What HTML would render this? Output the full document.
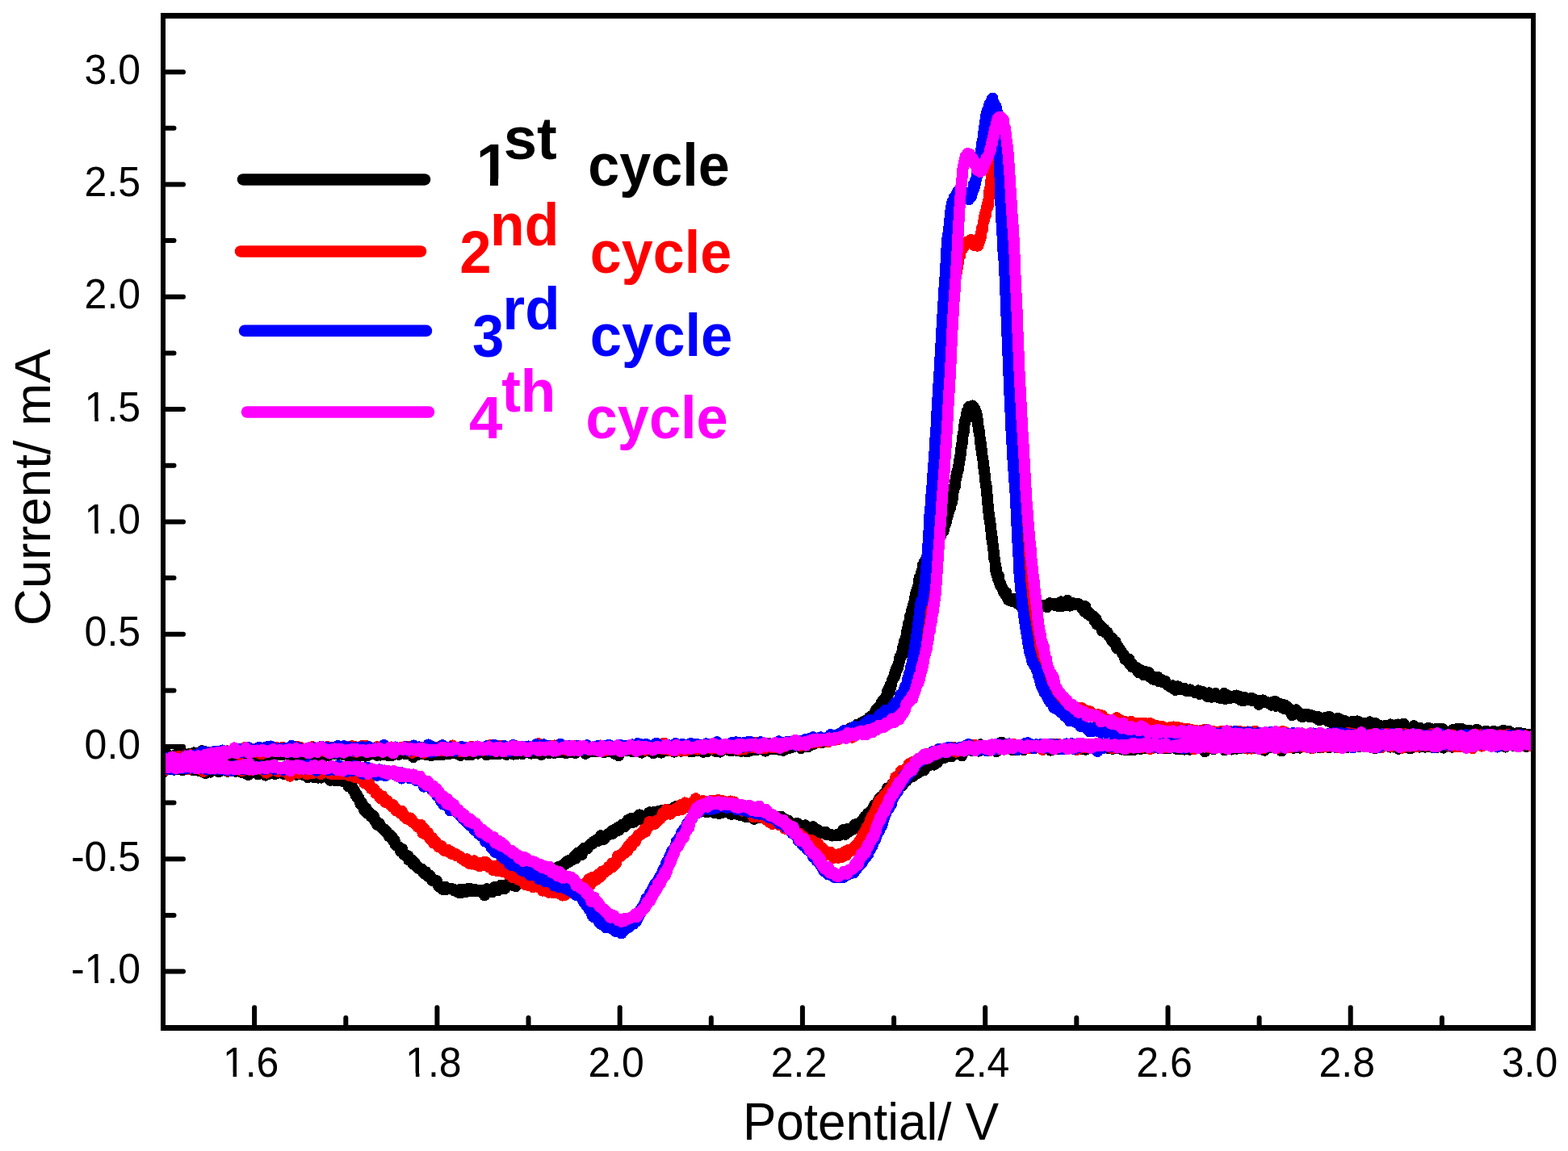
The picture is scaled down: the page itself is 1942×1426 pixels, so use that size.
<!DOCTYPE html>
<html><head><meta charset="utf-8"><title>Cyclic voltammetry</title>
<style>
html,body{margin:0;padding:0;background:#fff;}
body{width:1942px;height:1426px;overflow:hidden;}
svg{display:block;}
text{font-family:"Liberation Sans",Arial,sans-serif;}
</style></head><body>
<svg width="1942" height="1426" viewBox="0 0 1942 1426">
<rect width="1942" height="1426" fill="#fff"/>
<defs><clipPath id="c_yt3" clipPathUnits="userSpaceOnUse"><rect x="84.6" y="456.6" width="109.5" height="60.3"/><rect x="117.3" y="515.9" width="4.5" height="25.0"/><rect x="84.6" y="456.6" width="22.5" height="95.0"/><rect x="131.1" y="456.6" width="63.0" height="95.0"/></clipPath><clipPath id="c_yt4" clipPathUnits="userSpaceOnUse"><rect x="84.6" y="595.9" width="109.5" height="60.3"/><rect x="117.3" y="655.2" width="4.5" height="25.0"/><rect x="84.6" y="595.9" width="22.5" height="95.0"/><rect x="131.1" y="595.9" width="63.0" height="95.0"/></clipPath><clipPath id="c_yt8" clipPathUnits="userSpaceOnUse"><rect x="67.9" y="1153.1" width="126.2" height="60.3"/><rect x="117.3" y="1212.4" width="4.5" height="25.0"/><rect x="67.9" y="1153.1" width="39.2" height="95.0"/><rect x="131.1" y="1153.1" width="63.0" height="95.0"/></clipPath><clipPath id="c_xt0" clipPathUnits="userSpaceOnUse"><rect x="255.9" y="1269.2" width="109.5" height="60.3"/><rect x="288.6" y="1328.5" width="4.5" height="25.0"/><rect x="255.9" y="1269.2" width="22.5" height="95.0"/><rect x="302.4" y="1269.2" width="63.0" height="95.0"/></clipPath><clipPath id="c_xt1" clipPathUnits="userSpaceOnUse"><rect x="482.1" y="1269.2" width="109.5" height="60.3"/><rect x="514.9" y="1328.5" width="4.5" height="25.0"/><rect x="482.1" y="1269.2" width="22.5" height="95.0"/><rect x="528.6" y="1269.2" width="63.0" height="95.0"/></clipPath><clipPath id="c_ln0" clipPathUnits="userSpaceOnUse"><rect x="569.7" y="133.5" width="81.3" height="88.0"/><rect x="607.0" y="220.6" width="10.0" height="37.1"/><rect x="569.7" y="133.5" width="22.7" height="141.2"/><rect x="630.1" y="133.5" width="20.9" height="141.2"/></clipPath><clipPath id="pc"><rect x="202" y="19" width="1697" height="1254"/></clipPath></defs>
<g clip-path="url(#pc)" shape-rendering="crispEdges" fill="none" stroke-width="14" stroke-linejoin="round" stroke-linecap="round">
<polyline points="202.0,934.8 202.8,937.5 203.7,939.2 204.7,937.2 205.9,937.7 207.1,934.4 208.5,936.5 210.0,936.1 211.7,938.3 213.5,936.7 215.5,936.2 217.7,934.7 220.0,934.4 221.1,935.9 222.4,938.4 223.6,932.4 224.9,930.7 226.3,939.6 227.7,938.9 229.2,937.1 230.7,936.6 232.2,935.2 233.8,935.3 235.4,933.7 237.0,937.1 238.6,935.6 240.3,932.4 241.9,935.0 243.6,935.0 245.3,934.8 247.0,939.7 248.6,938.1 250.3,930.1 252.0,937.0 253.6,938.1 255.3,938.6 256.9,937.6 258.4,932.3 260.0,937.7 261.5,936.2 262.8,938.8 264.0,936.9 265.2,933.1 266.2,939.4 267.2,933.7 268.1,938.0 269.0,936.7 269.9,934.8 270.8,931.5 271.8,934.1 272.7,933.9 273.8,935.3 274.8,935.2 276.0,938.6 277.3,936.3 278.8,937.7 280.3,933.2 282.0,934.5 283.9,937.0 286.0,937.1 288.3,936.5 290.9,934.3 293.6,933.2 296.7,938.4 300.0,933.7 301.0,934.3 302.0,938.0 303.0,935.2 304.0,933.8 305.1,936.6 306.2,934.6 307.3,937.4 308.4,934.7 309.5,933.4 310.7,939.6 311.8,937.3 313.0,935.2 314.2,934.7 315.5,932.4 316.7,933.8 317.9,932.5 319.2,936.5 320.5,937.1 321.8,934.2 323.1,933.9 324.5,935.5 325.8,934.8 327.2,935.8 328.5,935.7 329.9,935.5 331.3,936.0 332.7,932.9 334.2,936.1 335.6,930.9 337.1,934.9 338.5,934.2 340.0,935.4 341.5,934.3 343.0,935.1 344.5,931.3 346.0,933.7 347.5,933.1 349.1,935.3 350.6,935.0 352.2,933.8 353.7,933.6 355.3,933.2 356.9,934.3 358.5,935.4 360.1,935.9 361.7,934.2 363.3,932.5 364.9,932.9 366.6,935.8 368.2,932.5 369.8,933.8 371.5,930.1 373.1,936.1 374.8,934.5 376.4,933.2 378.1,934.0 379.8,935.5 381.4,934.2 383.1,934.8 384.8,934.3 386.5,932.1 388.1,931.1 389.8,936.2 391.5,933.3 393.2,936.4 394.9,936.4 396.6,933.4 398.3,933.0 400.0,933.2 401.7,937.3 403.4,934.3 405.1,933.7 406.8,935.9 408.4,932.5 410.1,933.1 411.8,933.1 413.5,934.1 415.2,931.7 416.9,932.9 418.6,934.4 420.2,932.2 421.9,932.2 423.6,934.9 425.2,932.2 426.9,933.7 428.6,935.5 430.2,934.2 431.9,937.4 433.5,933.8 435.1,931.1 436.8,934.6 438.4,934.4 440.0,935.4 441.4,931.2 442.8,933.7 444.2,935.9 445.7,934.3 447.1,936.0 448.5,932.5 449.9,934.7 451.3,933.8 452.7,936.7 454.2,932.0 455.6,936.0 457.0,934.2 458.4,933.9 459.8,932.5 461.3,931.7 462.7,930.9 464.1,934.3 465.5,931.9 466.9,935.8 468.4,934.5 469.8,934.5 471.2,935.7 472.6,933.4 474.1,935.3 475.5,930.4 476.9,932.7 478.4,935.4 479.8,933.3 481.2,936.5 482.7,933.6 484.1,931.9 485.6,936.0 487.0,933.7 488.4,933.0 489.9,933.2 491.3,931.9 492.8,932.7 494.2,934.8 495.7,932.0 497.1,933.0 498.6,931.8 500.1,933.3 501.5,934.2 503.0,934.2 504.4,932.6 505.9,931.8 507.4,933.7 508.9,934.8 510.3,934.3 511.8,938.1 513.3,933.3 514.8,932.1 516.2,932.5 517.7,934.9 519.2,931.3 520.7,932.7 522.2,930.0 523.7,932.5 525.2,934.2 526.7,934.8 528.2,934.0 529.7,934.8 531.3,931.5 532.8,935.8 534.3,936.1 535.8,929.8 537.3,930.7 538.9,934.1 540.4,934.1 541.9,935.2 543.5,933.0 545.0,930.8 546.6,931.3 548.1,935.3 549.7,932.6 551.2,929.4 552.8,932.3 554.4,933.8 555.9,932.5 557.5,933.7 559.1,933.4 560.7,932.5 562.3,930.6 563.8,932.5 565.4,933.8 567.0,931.3 568.6,934.4 570.3,936.0 571.9,933.8 573.5,933.0 575.1,932.4 576.7,930.7 578.4,935.1 580.0,931.6 581.6,930.9 583.3,935.5 584.9,934.1 586.6,931.1 588.2,932.7 589.9,932.8 591.6,933.6 593.2,928.7 594.9,930.3 596.6,929.5 598.3,932.4 600.0,930.7 601.4,932.8 602.7,935.5 604.1,933.0 605.5,930.3 606.9,931.8 608.3,932.6 609.7,928.7 611.1,934.1 612.5,932.3 613.9,933.3 615.4,934.1 616.8,932.3 618.3,934.3 619.7,932.8 621.2,929.9 622.6,931.9 624.1,931.7 625.6,933.2 627.1,935.0 628.6,929.1 630.1,931.7 631.6,930.4 633.1,932.1 634.6,933.3 636.1,934.7 637.6,928.6 639.2,931.9 640.7,934.1 642.2,930.1 643.8,932.9 645.3,932.5 646.9,934.2 648.4,932.3 650.0,927.3 651.6,929.6 653.1,931.6 654.7,930.9 656.3,930.7 657.8,933.6 659.4,929.3 661.0,931.6 662.6,933.2 664.2,927.9 665.8,931.6 667.4,930.9 669.0,930.1 670.5,935.2 672.1,930.0 673.7,932.6 675.3,929.6 676.9,929.4 678.6,931.5 680.2,933.2 681.8,930.9 683.4,932.3 685.0,930.9 686.6,933.1 688.2,931.5 689.8,931.5 691.4,932.4 693.0,932.0 694.6,931.3 696.2,930.3 697.9,931.3 699.5,930.3 701.1,933.4 702.7,930.9 704.3,932.5 705.9,930.0 707.5,931.9 709.1,928.1 710.7,929.7 712.3,933.1 713.9,931.3 715.5,927.0 717.1,930.0 718.7,930.4 720.3,929.5 721.9,928.0 723.4,928.2 725.0,933.7 726.6,929.9 728.2,932.1 729.7,931.8 731.3,929.1 732.9,930.9 734.4,930.8 736.0,928.6 737.6,930.9 739.1,930.6 740.7,930.9 742.2,929.8 743.7,929.6 745.3,930.5 746.8,928.8 748.3,932.2 749.8,931.0 751.3,930.4 752.9,929.8 754.4,931.0 755.9,930.4 757.3,929.5 758.8,931.5 760.3,933.5 761.8,934.0 763.3,931.5 764.7,929.7 766.2,936.3 767.6,931.0 769.1,930.8 770.5,928.8 771.9,930.5 773.3,929.4 774.8,929.1 776.2,930.1 777.6,930.5 778.9,930.4 780.3,930.3 781.7,926.7 783.1,931.1 784.4,928.6 785.8,929.8 787.1,927.2 788.4,930.9 789.8,930.7 791.1,929.5 792.4,929.2 793.7,928.9 795.0,932.6 796.2,928.8 797.5,927.8 798.8,928.6 800.0,930.1 801.9,929.3 803.8,929.7 805.7,930.4 807.6,932.2 809.5,933.3 811.4,928.8 813.2,929.3 815.1,929.3 816.9,931.6 818.8,932.6 820.6,931.4 822.4,929.3 824.2,930.1 826.0,927.8 827.8,929.5 829.6,929.8 831.4,928.2 833.2,929.8 834.9,931.7 836.7,928.8 838.4,930.1 840.2,929.2 841.9,925.9 843.6,930.7 845.3,927.2 847.0,926.3 848.7,930.0 850.4,929.6 852.0,930.2 853.7,930.0 855.3,931.4 857.0,929.8 858.6,931.1 860.2,930.2 861.8,926.9 863.4,929.5 865.0,930.1 866.6,929.7 868.2,929.2 869.8,928.9 871.3,931.9 872.8,929.9 874.4,927.5 875.9,931.2 877.4,929.7 878.9,929.3 880.4,928.9 881.9,924.6 883.3,924.3 884.8,927.8 886.3,931.0 887.7,929.9 889.1,926.4 890.5,930.3 891.9,931.6 893.3,926.5 894.7,927.4 896.1,926.0 897.5,926.8 898.8,925.0 900.2,926.9 901.5,928.9 902.8,928.9 904.1,930.0 905.4,930.2 906.7,927.8 908.0,924.6 909.2,928.7 910.5,928.5 911.7,926.5 913.0,930.2 914.2,927.2 915.4,929.2 916.6,929.2 917.8,931.0 918.9,924.8 920.1,925.5 921.2,927.3 922.4,930.0 923.5,930.9 924.6,927.5 925.7,927.9 926.8,931.0 927.9,927.3 928.9,928.3 930.0,929.7 932.7,929.2 935.2,927.3 937.6,929.1 939.9,927.5 942.1,926.3 944.2,925.5 946.2,928.1 948.1,930.6 949.9,927.4 951.7,927.1 953.3,928.2 954.9,925.8 956.4,926.8 957.9,927.7 959.3,926.9 960.6,928.3 961.9,927.0 963.1,925.9 964.3,927.5 965.5,927.9 966.7,929.3 967.8,923.9 968.9,924.9 970.0,930.0 971.1,926.1 972.1,928.7 973.2,926.2 974.3,924.5 975.4,923.9 976.5,924.2 977.6,927.1 978.8,922.1 980.0,923.3 982.0,925.6 983.8,924.9 985.6,923.5 987.3,923.3 988.9,922.7 990.5,923.2 992.0,927.1 993.4,924.4 994.9,924.2 996.2,924.9 997.6,923.0 999.0,919.1 1000.3,925.4 1001.6,919.4 1003.0,921.8 1004.3,923.3 1005.7,918.6 1007.1,922.5 1008.5,919.8 1010.0,919.0 1011.5,920.3 1013.1,919.1 1014.6,918.2 1016.2,918.7 1017.9,920.2 1019.5,917.6 1021.1,915.7 1022.7,917.0 1024.3,916.3 1025.9,913.7 1027.5,916.2 1029.1,914.7 1030.6,915.7 1032.1,914.6 1033.6,914.1 1035.0,912.2 1036.3,914.7 1037.6,913.8 1038.8,913.3 1040.0,912.8 1041.9,914.5 1043.7,909.9 1045.2,908.5 1046.6,910.9 1047.9,907.5 1049.2,907.2 1050.3,908.8 1051.5,908.4 1052.6,908.9 1053.8,901.9 1055.0,902.5 1056.4,902.2 1057.8,900.7 1059.1,904.2 1060.5,903.3 1061.8,897.5 1063.1,901.0 1064.4,901.5 1065.6,900.7 1066.8,898.9 1068.0,894.6 1069.4,896.4 1070.8,893.4 1072.1,893.7 1073.3,894.1 1074.5,893.3 1075.7,891.3 1076.9,888.6 1078.0,892.3 1079.1,887.2 1080.1,886.7 1081.1,887.8 1082.1,884.8 1083.1,883.4 1084.0,882.7 1085.0,879.5 1086.0,879.9 1086.9,878.6 1087.8,877.1 1088.7,875.7 1089.7,874.2 1090.6,875.8 1091.5,870.8 1092.4,869.3 1093.2,869.2 1094.0,869.7 1094.9,866.2 1095.8,866.6 1096.6,864.2 1097.4,865.1 1098.2,861.7 1099.1,856.7 1100.0,854.6 1100.5,859.5 1101.0,853.8 1101.5,857.2 1102.0,854.3 1102.5,849.0 1103.0,852.4 1103.5,847.5 1104.1,848.3 1104.6,844.8 1105.2,841.8 1105.7,842.4 1106.3,840.3 1106.9,839.1 1107.4,837.5 1108.0,838.5 1108.5,832.8 1109.0,835.4 1109.4,831.7 1109.9,828.4 1110.4,830.6 1110.9,829.4 1111.4,827.9 1111.9,824.4 1112.4,826.3 1112.9,823.9 1113.4,820.0 1113.9,820.2 1114.4,813.8 1114.9,815.8 1115.4,813.3 1116.0,812.2 1116.5,812.7 1117.0,809.1 1117.3,807.4 1117.7,811.0 1118.0,808.7 1118.4,800.4 1118.8,803.5 1119.1,800.0 1119.5,797.8 1119.9,796.0 1120.2,794.0 1120.6,794.1 1121.0,793.2 1121.4,792.4 1121.7,792.3 1122.1,789.1 1122.5,788.3 1122.9,788.0 1123.2,782.4 1123.6,780.4 1124.0,780.7 1124.3,778.0 1124.7,777.9 1125.0,778.4 1125.4,771.2 1125.7,775.3 1126.1,771.0 1126.4,769.6 1126.7,773.1 1127.0,764.7 1127.4,762.5 1127.9,764.2 1128.3,761.3 1128.7,759.1 1129.1,758.3 1129.5,754.5 1129.9,754.9 1130.3,753.2 1130.6,750.9 1131.0,751.0 1131.3,749.3 1131.7,747.3 1132.0,747.6 1132.4,744.9 1132.7,743.8 1133.0,740.9 1133.4,739.3 1133.7,736.4 1134.0,736.5 1134.4,735.2 1134.9,734.4 1135.3,731.9 1135.7,730.8 1136.0,733.2 1136.4,728.4 1136.7,728.0 1137.1,726.7 1137.5,725.5 1137.8,723.3 1138.2,720.5 1138.6,715.7 1139.0,717.7 1139.4,718.3 1139.8,716.1 1140.2,712.9 1140.6,714.2 1141.1,714.5 1141.5,707.7 1141.9,707.1 1142.4,707.3 1142.8,700.6 1143.3,703.0 1143.8,702.0 1144.4,701.9 1145.0,695.8 1145.6,700.4 1146.2,695.9 1146.9,696.0 1147.5,691.8 1148.2,693.5 1149.0,691.4 1149.7,692.5 1150.4,688.9 1151.2,688.8 1152.0,683.1 1152.7,687.0 1153.5,684.7 1154.2,681.0 1155.0,678.5 1155.8,679.7 1156.5,676.6 1157.3,675.3 1158.2,676.1 1159.0,673.8 1159.8,670.7 1160.6,670.2 1161.4,670.7 1162.3,670.2 1163.0,671.0 1163.8,664.4 1164.6,664.1 1165.3,663.7 1166.0,659.6 1166.6,656.4 1167.1,659.8 1167.6,658.3 1168.2,653.5 1168.7,658.0 1169.2,653.5 1169.7,650.2 1170.1,650.1 1170.6,647.3 1171.1,645.9 1171.5,648.6 1172.0,640.4 1172.4,645.1 1172.8,637.7 1173.2,637.4 1173.6,639.8 1174.0,634.6 1174.6,633.4 1175.1,634.3 1175.6,630.4 1176.1,630.8 1176.5,627.2 1177.0,629.7 1177.4,625.3 1177.8,624.8 1178.2,624.2 1178.6,619.2 1179.0,622.0 1179.3,617.4 1179.6,615.4 1179.9,618.3 1180.2,613.4 1180.5,610.3 1180.8,609.5 1181.1,608.2 1181.3,607.5 1181.6,606.4 1181.9,602.4 1182.2,603.5 1182.4,603.0 1182.7,603.2 1183.0,599.4 1183.3,595.6 1183.6,595.3 1183.9,593.7 1184.3,589.6 1184.6,587.9 1184.9,585.7 1185.2,588.3 1185.5,585.5 1185.8,585.5 1186.1,582.5 1186.4,581.3 1186.7,583.2 1187.0,578.2 1187.3,576.9 1187.6,575.5 1187.8,572.5 1188.1,570.7 1188.3,570.1 1188.6,569.0 1188.8,569.6 1189.0,567.0 1189.3,565.8 1189.5,562.9 1189.8,563.5 1190.0,562.4 1190.2,558.6 1190.4,554.9 1190.6,555.4 1190.8,552.5 1191.0,552.7 1191.2,552.5 1191.4,548.9 1191.6,550.1 1191.9,546.2 1192.1,541.3 1192.3,542.3 1192.5,540.3 1192.8,539.3 1193.0,536.7 1193.2,537.8 1193.4,536.4 1193.7,535.3 1193.9,531.8 1194.1,528.9 1194.3,525.8 1194.6,526.2 1194.8,524.5 1195.1,522.2 1195.3,519.9 1195.6,520.5 1195.8,520.0 1196.1,520.3 1196.4,517.4 1196.7,515.4 1197.0,513.8 1197.7,509.2 1198.4,511.5 1199.1,509.8 1199.9,503.9 1200.7,505.8 1201.5,505.3 1202.2,504.9 1203.0,503.6 1203.8,503.2 1204.5,502.5 1205.3,506.3 1206.1,506.1 1206.9,505.7 1207.6,509.9 1208.3,509.1 1209.0,513.6 1209.3,511.9 1209.6,516.2 1209.9,513.8 1210.2,517.0 1210.4,522.6 1210.7,519.0 1210.9,526.1 1211.2,524.4 1211.4,525.9 1211.7,529.1 1211.9,530.3 1212.1,533.9 1212.3,533.6 1212.6,533.0 1212.8,537.9 1213.0,538.5 1213.2,538.6 1213.5,540.9 1213.7,544.0 1213.9,543.4 1214.1,549.0 1214.4,550.1 1214.6,547.9 1214.8,551.0 1215.0,554.0 1215.2,555.0 1215.4,556.8 1215.6,556.3 1215.8,556.1 1216.0,562.7 1216.2,559.7 1216.4,560.6 1216.6,568.1 1216.9,566.2 1217.1,569.4 1217.3,569.0 1217.5,571.0 1217.7,571.3 1217.9,573.7 1218.1,579.3 1218.4,577.2 1218.6,580.3 1218.8,579.8 1219.0,582.9 1219.2,584.0 1219.3,584.5 1219.5,588.0 1219.7,587.5 1219.9,588.7 1220.0,589.8 1220.2,592.2 1220.4,596.8 1220.6,598.4 1220.7,596.7 1220.9,600.1 1221.1,603.4 1221.2,600.4 1221.4,599.6 1221.6,602.7 1221.7,609.7 1221.9,603.3 1222.0,611.3 1222.2,610.4 1222.3,612.9 1222.5,614.1 1222.6,612.5 1222.8,618.8 1222.9,620.5 1223.0,616.5 1223.1,622.5 1223.3,624.4 1223.4,624.1 1223.6,624.8 1223.8,626.1 1224.0,629.5 1224.2,631.0 1224.3,629.2 1224.5,635.9 1224.7,634.9 1224.9,641.1 1225.1,638.6 1225.3,638.1 1225.5,641.6 1225.7,644.2 1225.9,646.3 1226.1,644.5 1226.3,648.7 1226.5,647.8 1226.7,650.1 1227.0,651.6 1227.2,655.5 1227.4,657.8 1227.6,658.3 1227.8,661.3 1228.0,660.4 1228.2,663.4 1228.4,662.7 1228.5,669.1 1228.7,669.8 1228.9,666.3 1229.1,670.8 1229.3,674.0 1229.5,673.2 1229.6,674.4 1229.8,674.7 1230.0,680.6 1230.2,681.3 1230.4,681.7 1230.5,681.5 1230.7,685.0 1230.9,683.3 1231.1,689.6 1231.3,692.9 1231.5,691.4 1231.6,693.3 1231.8,692.2 1232.0,695.1 1232.3,693.9 1232.6,698.1 1232.9,701.1 1233.2,703.0 1233.4,708.1 1233.7,703.5 1234.0,709.4 1234.3,711.1 1234.6,711.3 1234.9,710.6 1235.3,714.9 1235.6,712.9 1236.0,717.8 1236.5,715.2 1237.0,713.5 1237.6,720.5 1238.2,723.3 1238.8,725.0 1239.4,723.0 1240.0,726.6 1240.6,727.8 1241.3,727.9 1242.0,729.5 1242.8,733.2 1243.6,733.7 1244.4,733.7 1245.3,737.4 1246.2,734.1 1247.1,738.1 1248.0,741.2 1249.0,743.5 1250.0,743.8 1251.3,743.7 1252.6,741.5 1253.9,745.1 1255.3,743.3 1256.7,744.8 1258.3,741.7 1260.0,748.0 1261.3,745.6 1262.7,746.5 1264.1,748.0 1265.6,752.8 1267.1,748.1 1268.7,747.8 1270.3,750.8 1271.9,749.3 1273.4,754.0 1275.0,748.6 1276.5,750.6 1278.1,748.8 1279.6,752.3 1281.1,749.6 1282.7,752.2 1284.3,750.3 1285.9,748.4 1287.5,749.7 1289.2,751.1 1291.0,750.1 1292.4,750.2 1293.8,751.5 1295.3,749.7 1296.8,752.2 1298.4,750.3 1299.9,747.3 1301.5,748.2 1303.1,749.3 1304.6,747.9 1306.2,749.9 1307.8,748.0 1309.4,749.9 1311.0,751.2 1312.5,748.6 1314.1,745.4 1315.7,750.8 1317.3,745.6 1318.9,746.5 1320.6,750.0 1322.2,743.9 1323.8,747.7 1325.3,750.6 1326.8,749.3 1328.3,746.8 1329.6,748.4 1330.9,747.5 1332.0,749.1 1334.2,748.9 1335.9,748.2 1337.3,750.6 1338.5,750.0 1339.7,753.2 1341.0,750.7 1342.1,752.0 1343.1,757.9 1344.1,751.3 1345.1,758.5 1346.2,756.4 1347.4,761.2 1349.0,759.2 1349.8,762.7 1350.6,760.9 1351.5,763.1 1352.5,763.7 1353.4,764.3 1354.5,763.4 1355.5,769.6 1356.6,770.6 1357.6,766.9 1358.7,773.7 1359.8,774.0 1360.9,773.2 1361.9,775.5 1363.0,775.6 1364.0,777.5 1365.0,781.5 1366.0,779.3 1367.0,778.8 1367.9,779.8 1368.9,783.5 1369.8,783.5 1370.7,784.2 1371.6,783.3 1372.5,785.9 1373.5,788.0 1374.4,788.6 1375.5,790.5 1376.5,793.1 1377.6,790.6 1378.8,795.6 1380.0,794.3 1380.8,796.7 1381.7,795.1 1382.5,800.7 1383.4,803.2 1384.4,800.7 1385.3,802.5 1386.3,804.5 1387.3,805.0 1388.3,806.3 1389.3,807.9 1390.3,810.0 1391.4,810.5 1392.4,812.2 1393.4,817.2 1394.5,816.0 1395.5,815.8 1396.5,816.6 1397.5,820.1 1398.5,816.7 1399.4,823.2 1400.4,820.2 1401.3,821.6 1402.1,826.0 1403.0,826.0 1404.5,826.6 1406.0,826.9 1407.4,827.1 1408.8,830.8 1410.1,833.2 1411.4,829.3 1412.7,831.5 1414.0,830.6 1415.2,833.5 1416.4,836.3 1417.6,834.0 1418.8,832.2 1420.0,836.3 1421.4,833.7 1422.7,833.0 1423.9,838.6 1425.0,836.3 1426.1,837.3 1427.3,841.5 1428.6,840.7 1430.2,842.3 1431.9,841.0 1434.0,838.7 1435.1,844.1 1436.3,843.4 1437.5,844.0 1438.8,842.2 1440.2,845.4 1441.6,844.3 1443.1,843.5 1444.6,847.6 1446.1,848.9 1447.7,849.6 1449.2,850.9 1450.8,851.0 1452.4,849.3 1454.0,853.5 1455.6,854.9 1457.3,852.5 1458.8,850.3 1460.4,852.7 1462.0,854.5 1463.5,854.3 1465.0,853.3 1466.5,852.7 1468.0,855.2 1469.4,855.9 1470.9,855.2 1472.4,855.7 1473.9,854.3 1475.3,855.7 1476.8,856.0 1478.3,856.6 1479.8,857.8 1481.2,856.7 1482.7,857.2 1484.2,855.4 1485.7,859.9 1487.1,856.7 1488.6,857.1 1490.1,857.3 1491.6,858.6 1493.0,860.7 1494.5,860.1 1496.0,863.5 1497.5,858.3 1499.1,860.1 1500.6,863.7 1502.2,860.4 1503.7,859.9 1505.3,859.0 1506.8,862.4 1508.4,863.9 1509.9,862.8 1511.4,865.1 1513.0,861.1 1514.5,862.0 1516.1,858.9 1517.6,866.0 1519.2,864.5 1520.7,861.7 1522.3,863.2 1523.9,864.9 1525.4,863.0 1527.0,863.9 1528.5,862.2 1530.0,863.6 1531.5,861.5 1533.1,865.4 1534.6,862.6 1536.2,867.3 1537.7,865.3 1539.3,868.5 1540.8,863.7 1542.4,866.2 1543.9,865.1 1545.4,866.9 1547.0,866.1 1548.5,866.7 1550.0,864.7 1551.6,868.3 1553.1,867.9 1554.6,868.7 1556.1,867.5 1557.5,868.7 1559.0,872.8 1560.6,868.2 1562.2,868.5 1563.8,867.4 1565.3,870.4 1566.9,869.3 1568.4,869.5 1569.9,870.5 1571.5,871.6 1573.0,870.8 1574.5,873.7 1576.0,869.5 1577.5,872.2 1579.0,868.6 1580.5,874.8 1582.0,872.6 1583.5,872.9 1585.0,872.1 1586.5,873.5 1588.0,876.4 1589.4,877.7 1590.8,873.3 1592.2,875.9 1593.5,878.8 1594.8,875.8 1596.2,878.0 1597.5,879.7 1598.8,881.4 1600.1,886.1 1601.4,880.9 1602.8,880.6 1604.1,884.3 1605.5,879.4 1606.9,883.1 1608.3,883.8 1609.8,883.4 1611.3,887.2 1612.8,888.4 1614.4,886.6 1616.0,885.1 1617.3,885.6 1618.7,885.8 1620.1,885.1 1621.5,888.1 1623.0,887.5 1624.4,886.3 1625.9,886.7 1627.4,888.4 1628.9,888.7 1630.5,889.8 1632.0,887.6 1633.6,892.1 1635.2,891.6 1636.7,889.6 1638.3,891.1 1639.9,890.0 1641.5,889.1 1643.1,888.6 1644.7,893.4 1646.2,887.7 1647.8,894.9 1649.4,890.4 1650.9,893.8 1652.5,895.2 1654.0,893.5 1655.5,890.3 1657.0,891.9 1658.6,890.2 1660.1,895.5 1661.6,898.3 1663.1,895.8 1664.6,893.9 1666.2,893.3 1667.7,897.0 1669.2,894.6 1670.7,895.2 1672.2,896.3 1673.8,894.2 1675.3,893.7 1676.8,894.0 1678.3,897.9 1679.8,896.1 1681.4,893.5 1682.9,893.9 1684.4,896.3 1685.9,895.5 1687.4,897.1 1689.0,899.7 1690.5,896.2 1692.0,896.1 1693.5,897.7 1695.0,897.1 1696.6,894.3 1698.1,896.2 1699.6,896.8 1701.1,898.8 1702.6,898.1 1704.1,896.2 1705.6,898.8 1707.2,899.9 1708.7,898.5 1710.2,899.8 1711.7,899.8 1713.2,900.1 1714.7,901.0 1716.2,898.7 1717.8,901.6 1719.3,899.7 1720.8,898.7 1722.3,897.3 1723.9,899.2 1725.4,899.8 1726.9,899.7 1728.5,898.4 1730.0,899.0 1731.5,897.5 1732.9,898.9 1734.3,898.5 1735.8,900.3 1737.2,900.0 1738.6,896.6 1740.0,902.2 1741.3,902.2 1742.7,904.1 1744.1,902.3 1745.5,901.8 1746.9,905.5 1748.3,902.3 1749.7,900.1 1751.2,899.3 1752.6,900.6 1754.1,903.5 1755.6,905.2 1757.2,902.9 1758.8,901.6 1760.4,904.0 1762.0,905.4 1763.7,904.6 1765.4,905.6 1767.2,904.9 1769.0,901.7 1770.3,904.2 1771.6,903.8 1772.9,903.2 1774.2,905.7 1775.6,905.3 1777.0,905.7 1778.4,903.1 1779.8,904.4 1781.3,903.5 1782.7,906.1 1784.2,903.2 1785.7,904.0 1787.2,903.0 1788.7,905.9 1790.2,906.5 1791.7,906.5 1793.3,907.7 1794.8,907.2 1796.4,906.6 1797.9,908.3 1799.5,904.1 1801.1,907.3 1802.7,907.2 1804.2,909.1 1805.8,902.6 1807.4,907.6 1809.0,906.1 1810.5,903.0 1812.1,904.5 1813.7,907.8 1815.3,907.5 1816.8,905.1 1818.4,904.6 1819.9,904.6 1821.4,906.9 1823.0,907.5 1824.5,907.0 1826.0,907.1 1827.5,907.6 1829.1,903.6 1830.6,908.9 1832.2,908.3 1833.8,906.8 1835.4,907.0 1837.1,909.7 1838.7,907.3 1840.4,905.6 1842.0,908.8 1843.7,909.6 1845.4,908.0 1847.1,906.5 1848.8,908.4 1850.4,906.1 1852.1,909.0 1853.8,908.0 1855.4,907.1 1857.1,908.9 1858.7,910.3 1860.3,909.4 1861.9,904.7 1863.5,910.2 1865.0,908.4 1866.5,908.1 1868.0,905.5 1869.5,909.0 1870.9,910.4 1872.3,910.5 1873.7,908.4 1875.0,911.4 1876.3,908.6 1877.5,908.7 1878.7,908.6 1879.9,907.9 1881.0,911.1 1882.0,907.5 1883.0,909.4 1886.3,909.3 1889.1,909.3 1891.3,911.8 1893.1,909.6 1894.6,912.4 1895.7,911.1 1896.7,910.2 1897.5,912.0 1898.2,912.5 1899.0,911.2 1902.2,911.0 1907.6,911.3 1912.4,916.7 1914.3,918.3 1910.7,918.7 1899.0,921.7 1898.2,923.0 1897.4,924.2 1896.6,921.8 1895.8,922.5 1895.0,923.6 1894.1,918.4 1893.2,921.8 1892.3,920.6 1891.3,923.3 1890.4,925.1 1889.4,922.0 1888.4,921.3 1887.4,920.9 1886.3,919.7 1885.3,922.0 1884.2,920.0 1883.1,921.2 1882.0,921.3 1880.9,923.2 1879.7,922.9 1878.5,919.3 1877.4,922.3 1876.2,919.9 1874.9,924.0 1873.7,921.3 1872.5,923.4 1871.2,920.1 1869.9,919.8 1868.6,920.9 1867.3,923.1 1866.0,920.4 1864.6,925.5 1863.3,922.9 1861.9,923.6 1860.5,922.8 1859.1,920.3 1857.7,923.8 1856.3,923.9 1854.8,924.1 1853.4,921.8 1851.9,918.5 1850.4,921.2 1848.9,924.0 1847.4,923.1 1845.9,920.7 1844.4,921.8 1842.9,922.9 1841.3,922.6 1839.8,921.7 1838.2,921.6 1836.6,922.7 1835.1,921.8 1833.5,921.4 1831.9,922.2 1830.2,921.9 1828.6,923.9 1827.0,921.9 1825.4,921.1 1823.7,918.7 1822.1,919.4 1820.4,925.0 1818.7,924.5 1817.1,921.5 1815.4,921.0 1813.7,920.1 1812.0,924.5 1810.3,922.1 1808.6,923.4 1806.9,924.2 1805.2,919.6 1803.5,921.7 1801.7,924.2 1800.0,923.1 1798.3,925.7 1796.5,922.2 1794.8,922.3 1793.1,924.4 1791.3,924.3 1789.6,925.1 1787.8,926.7 1786.1,920.9 1784.3,922.9 1782.6,924.2 1780.8,923.6 1779.1,926.2 1777.3,922.6 1775.5,924.6 1773.8,925.8 1772.0,924.8 1770.3,924.8 1768.5,921.1 1766.7,922.1 1765.0,925.6 1763.2,922.3 1761.5,919.7 1759.7,923.3 1758.0,925.6 1756.2,921.8 1754.5,921.9 1752.7,921.8 1751.0,923.7 1749.3,922.7 1747.5,927.1 1745.8,927.2 1744.1,924.4 1742.4,924.6 1740.6,926.0 1738.9,924.2 1737.2,924.3 1735.5,926.7 1733.8,924.6 1732.1,927.7 1730.5,924.5 1728.8,923.5 1727.1,924.0 1725.5,925.5 1723.8,924.8 1722.1,925.6 1720.5,923.4 1718.9,919.9 1717.3,920.0 1715.6,921.7 1714.0,921.2 1712.4,924.5 1710.8,925.6 1709.3,921.5 1707.7,922.7 1706.1,923.6 1704.6,925.2 1703.0,927.2 1701.5,925.1 1700.0,923.4 1698.5,922.9 1697.0,925.6 1695.5,922.8 1694.0,923.8 1692.5,922.4 1691.0,923.8 1689.5,924.1 1688.0,922.0 1686.5,921.5 1685.0,924.2 1683.5,924.9 1682.0,922.0 1680.5,923.4 1679.0,919.8 1677.5,922.9 1676.0,924.4 1674.5,924.1 1673.0,923.1 1671.5,921.6 1670.0,924.8 1668.5,925.8 1667.0,922.6 1665.5,922.9 1664.0,920.8 1662.5,926.9 1661.0,925.5 1659.5,924.6 1658.0,924.4 1656.5,923.3 1655.0,925.6 1653.5,921.4 1651.9,924.6 1650.4,925.1 1648.9,924.3 1647.4,923.7 1645.9,926.2 1644.4,921.8 1642.9,924.3 1641.4,923.6 1639.9,924.8 1638.4,923.1 1636.9,926.5 1635.4,922.2 1633.9,926.3 1632.4,925.2 1630.9,925.3 1629.4,924.0 1627.9,922.7 1626.4,926.4 1624.9,927.0 1623.4,922.1 1621.9,925.0 1620.4,926.1 1618.9,923.7 1617.4,925.6 1615.9,924.4 1614.4,921.6 1612.9,923.3 1611.3,924.6 1609.8,926.6 1608.3,926.1 1606.8,923.4 1605.3,924.4 1603.8,923.4 1602.3,926.8 1600.8,924.2 1599.3,924.4 1597.8,926.5 1596.3,925.7 1594.8,926.1 1593.3,922.7 1591.8,924.5 1590.3,921.4 1588.8,924.2 1587.3,930.4 1585.8,924.0 1584.3,923.2 1582.8,924.3 1581.3,922.9 1579.7,925.3 1578.2,925.1 1576.7,923.8 1575.2,926.4 1573.7,926.5 1572.2,923.1 1570.7,924.7 1569.2,924.0 1567.7,926.6 1566.2,929.7 1564.7,927.4 1563.2,925.7 1561.7,926.2 1560.2,924.6 1558.7,926.0 1557.2,925.5 1555.7,926.8 1554.2,926.4 1552.7,927.3 1551.2,926.9 1549.6,926.2 1548.1,926.5 1546.6,927.2 1545.1,927.1 1543.6,927.0 1542.1,922.6 1540.6,926.5 1539.1,925.8 1537.6,926.4 1536.1,927.3 1534.6,926.4 1533.1,926.1 1531.6,927.8 1530.1,924.9 1528.6,924.5 1527.1,925.2 1525.6,928.5 1524.1,926.8 1522.6,923.5 1521.1,924.2 1519.6,925.9 1518.0,924.4 1516.5,929.4 1515.0,924.1 1513.5,924.0 1512.0,925.9 1510.5,924.2 1509.0,924.2 1507.5,925.2 1506.0,924.9 1504.5,927.7 1503.0,928.1 1501.5,922.8 1500.0,925.5 1498.5,925.8 1497.0,923.1 1495.5,924.6 1493.9,926.1 1492.4,931.2 1490.9,925.7 1489.3,927.3 1487.7,923.4 1486.2,926.6 1484.6,924.7 1483.1,924.0 1481.5,927.3 1479.9,925.1 1478.3,927.9 1476.7,928.4 1475.1,924.7 1473.5,928.8 1471.9,923.8 1470.3,924.4 1468.7,926.0 1467.1,928.6 1465.4,923.1 1463.8,928.5 1462.2,924.9 1460.5,927.8 1458.9,925.6 1457.3,928.1 1455.6,924.8 1454.0,925.8 1452.3,924.8 1450.7,924.7 1449.0,927.0 1447.4,924.3 1445.7,925.7 1444.1,927.3 1442.4,926.2 1440.7,926.7 1439.1,924.8 1437.4,925.0 1435.7,925.9 1434.1,926.5 1432.4,924.7 1430.7,926.5 1429.1,924.9 1427.4,924.8 1425.7,925.1 1424.1,923.1 1422.4,922.4 1420.7,922.5 1419.1,923.8 1417.4,927.0 1415.8,924.9 1414.1,922.4 1412.4,928.2 1410.8,925.7 1409.1,924.5 1407.5,927.6 1405.8,928.4 1404.2,929.3 1402.5,925.3 1400.9,926.4 1399.2,925.1 1397.6,929.4 1396.0,925.4 1394.3,927.2 1392.7,928.9 1391.1,926.1 1389.4,928.6 1387.8,924.7 1386.2,926.1 1384.6,925.3 1383.0,925.6 1381.4,927.3 1379.8,925.5 1378.2,927.9 1376.6,926.0 1375.0,924.7 1373.5,926.3 1371.9,926.7 1370.3,923.4 1368.8,924.0 1367.2,924.7 1365.7,925.2 1364.1,925.8 1362.6,927.5 1361.1,926.0 1359.6,925.6 1358.0,926.9 1356.5,928.5 1355.0,925.0 1353.5,926.3 1352.1,924.6 1350.6,925.0 1349.1,925.8 1347.7,926.6 1346.2,926.5 1344.8,928.7 1343.3,926.4 1341.9,925.7 1340.5,928.2 1339.1,924.6 1337.7,924.4 1336.3,924.2 1334.9,926.7 1333.6,928.0 1332.2,926.9 1330.9,925.6 1329.5,927.5 1328.2,925.8 1326.9,925.6 1325.6,924.5 1324.3,926.9 1323.0,927.7 1321.7,927.4 1320.5,924.1 1319.2,923.3 1318.0,924.6 1316.8,926.5 1315.6,925.4 1314.4,927.2 1313.2,925.5 1312.0,928.2 1310.9,927.4 1309.7,925.8 1308.6,924.6 1307.5,925.2 1306.3,925.4 1305.3,928.6 1304.2,925.0 1303.1,922.1 1302.1,927.3 1301.0,929.6 1300.0,927.7 1297.1,923.3 1294.3,926.4 1291.7,927.9 1289.1,924.6 1286.6,923.6 1284.2,925.1 1281.8,926.9 1279.6,925.8 1277.5,926.7 1275.4,925.9 1273.4,925.0 1271.5,926.5 1269.6,927.0 1267.8,929.3 1266.1,923.1 1264.5,925.3 1262.9,924.9 1261.3,927.4 1259.8,929.3 1258.4,928.3 1257.0,925.7 1255.7,928.6 1254.4,928.5 1253.1,928.7 1251.9,925.7 1250.7,926.5 1249.6,925.2 1248.4,926.7 1247.3,924.9 1246.3,926.7 1245.2,926.7 1244.2,924.1 1243.1,926.7 1242.1,925.6 1241.1,924.3 1240.2,919.6 1239.2,926.0 1238.2,924.4 1237.2,924.0 1236.2,928.9 1235.2,927.1 1234.2,931.1 1233.2,926.3 1232.1,927.1 1231.1,927.4 1230.0,928.7 1227.6,926.8 1225.3,928.2 1223.2,929.9 1221.3,925.5 1219.5,926.6 1217.7,929.5 1216.1,926.3 1214.6,922.3 1213.2,924.9 1211.9,930.6 1210.6,930.0 1209.4,926.9 1208.2,925.9 1207.0,928.3 1205.9,926.8 1204.7,929.9 1203.6,927.1 1202.4,929.6 1201.2,928.5 1200.0,927.5 1198.1,928.2 1196.3,929.6 1194.6,928.5 1192.9,929.7 1191.4,936.3 1189.8,930.2 1188.3,931.7 1186.9,931.9 1185.5,928.4 1184.1,933.7 1182.7,932.3 1181.3,932.3 1180.0,936.0 1178.4,937.5 1177.0,933.1 1175.5,935.4 1174.1,935.5 1172.8,935.9 1171.5,937.3 1170.2,934.6 1168.9,939.5 1167.6,935.9 1166.3,938.1 1165.0,938.1 1163.6,941.5 1162.2,940.3 1160.8,944.9 1159.4,942.2 1158.1,942.4 1156.7,947.6 1155.3,946.8 1153.9,947.3 1152.5,947.6 1151.0,946.0 1149.7,947.1 1148.4,949.5 1147.1,948.7 1145.8,948.8 1144.4,954.4 1143.1,948.7 1141.7,954.8 1140.3,955.5 1139.0,950.9 1137.6,954.6 1136.3,958.3 1135.0,956.2 1133.6,958.6 1132.2,959.5 1130.8,961.9 1129.3,962.1 1127.9,961.6 1126.6,963.5 1125.2,961.8 1123.8,963.8 1122.5,967.8 1121.2,964.4 1120.0,967.9 1118.5,971.4 1117.1,973.6 1115.7,964.2 1114.3,971.7 1113.0,967.8 1111.7,974.1 1110.4,971.8 1109.2,976.4 1108.0,974.4 1106.3,978.4 1104.8,972.0 1103.3,976.3 1101.9,975.7 1100.5,977.1 1099.0,976.4 1098.0,981.5 1097.0,982.2 1096.0,981.9 1094.9,986.0 1093.9,985.3 1092.9,987.5 1091.9,989.9 1091.0,987.2 1090.0,990.3 1089.1,989.0 1088.1,992.8 1087.2,993.5 1086.3,996.4 1085.4,997.9 1084.6,997.3 1083.7,999.5 1082.8,997.6 1082.0,999.6 1080.9,1003.5 1079.9,1005.9 1078.9,1006.8 1077.9,1005.4 1077.0,1008.2 1076.0,1011.7 1075.0,1007.5 1074.0,1009.3 1073.0,1015.2 1072.1,1014.5 1071.1,1011.6 1070.1,1013.3 1069.1,1018.3 1068.0,1018.1 1066.7,1017.5 1065.5,1020.1 1064.2,1023.6 1062.9,1020.4 1061.5,1023.9 1060.0,1022.4 1058.7,1021.4 1057.3,1025.7 1055.9,1028.0 1054.4,1026.5 1052.9,1028.4 1051.4,1030.8 1050.0,1026.5 1048.6,1030.6 1047.1,1033.8 1045.6,1030.7 1044.1,1028.1 1042.7,1031.0 1041.3,1032.8 1040.0,1034.8 1038.3,1034.6 1036.8,1033.8 1035.4,1034.7 1033.8,1034.6 1032.0,1034.8 1030.7,1035.6 1029.3,1033.9 1027.8,1034.3 1026.3,1034.1 1024.7,1034.4 1023.2,1031.0 1021.6,1033.1 1020.0,1031.1 1018.7,1032.2 1017.4,1031.5 1016.3,1032.5 1015.1,1032.0 1013.8,1029.7 1012.4,1027.9 1010.8,1034.6 1009.1,1028.9 1007.0,1024.3 1005.8,1027.2 1004.6,1025.5 1003.2,1028.8 1001.8,1024.8 1000.3,1027.7 998.8,1026.8 997.2,1022.3 995.6,1024.9 993.9,1025.8 992.3,1023.4 990.6,1023.6 989.0,1022.3 987.4,1019.8 985.8,1021.4 984.3,1021.5 982.8,1021.0 981.3,1022.4 980.0,1021.7 978.2,1023.3 976.5,1016.6 974.9,1019.6 973.3,1018.4 971.8,1014.7 970.3,1014.9 968.8,1014.1 967.4,1011.6 965.9,1016.8 964.5,1016.8 963.0,1016.1 961.5,1012.1 960.0,1018.4 958.4,1013.7 956.9,1010.7 955.2,1012.6 953.6,1012.8 952.0,1010.1 950.4,1011.3 948.8,1014.4 947.2,1009.6 945.6,1010.0 944.1,1013.4 942.7,1013.4 941.3,1011.7 940.0,1010.6 938.1,1009.1 936.6,1010.7 935.2,1009.3 933.9,1014.8 932.6,1006.9 931.1,1007.7 929.2,1010.6 927.0,1008.8 925.8,1011.9 924.6,1007.8 923.2,1011.8 921.8,1009.3 920.3,1006.9 918.8,1008.7 917.2,1010.2 915.6,1007.6 913.9,1009.4 912.3,1007.3 910.6,1008.0 909.0,1006.8 907.4,1007.7 905.8,1008.9 904.3,1008.2 902.8,1004.3 901.3,1001.8 900.0,1002.9 898.2,1006.2 896.5,1005.7 894.9,1006.9 893.3,1003.1 891.8,1007.3 890.3,1008.0 888.8,1003.9 887.4,1003.1 885.9,1006.4 884.5,1007.3 883.0,1004.1 881.5,1002.3 880.0,1005.1 878.5,1004.2 876.9,1006.1 875.4,1006.2 873.8,1003.8 872.3,1004.9 870.7,1004.6 869.2,1000.6 867.6,1000.1 866.1,1003.9 864.5,1002.7 863.0,1002.3 861.5,1000.9 860.0,999.1 858.4,999.3 856.8,997.9 855.3,1000.9 853.8,1000.0 852.3,997.9 850.8,1000.2 849.3,998.7 847.7,1001.2 846.1,999.2 844.5,998.0 842.8,999.8 841.0,999.9 839.7,998.8 838.3,999.2 836.8,999.3 835.4,1000.1 833.8,1002.4 832.3,1002.2 830.7,1003.2 829.2,1003.5 827.6,1005.4 826.0,1003.4 824.5,1003.8 822.9,1003.6 821.5,1004.1 820.0,1006.0 818.6,1004.2 817.3,1006.6 816.0,1005.0 814.1,1007.3 812.4,1007.7 810.7,1005.5 809.1,1006.8 807.6,1006.9 806.1,1009.0 804.6,1006.3 803.2,1007.7 801.8,1010.9 800.4,1011.8 799.0,1010.6 797.5,1013.6 796.1,1011.8 794.8,1012.5 793.5,1015.3 792.2,1009.4 791.0,1013.0 789.6,1014.1 788.2,1012.6 786.7,1016.6 785.0,1018.7 783.9,1017.1 782.7,1018.9 781.5,1013.9 780.2,1017.0 779.0,1016.1 777.6,1015.9 776.3,1021.5 774.9,1022.6 773.6,1024.3 772.2,1024.3 770.8,1021.4 769.4,1023.1 768.0,1026.5 766.7,1028.6 765.3,1025.2 764.0,1026.5 762.7,1029.7 761.4,1029.1 760.1,1028.0 758.8,1033.0 757.4,1029.6 756.1,1031.9 754.8,1034.0 753.5,1033.2 752.2,1035.1 750.9,1036.1 749.6,1037.2 748.2,1039.7 746.9,1038.8 745.6,1036.7 744.3,1035.2 743.0,1036.9 741.7,1041.7 740.4,1040.4 739.1,1040.0 737.8,1042.6 736.4,1043.1 735.1,1042.7 733.8,1045.6 732.5,1046.1 731.2,1045.9 729.9,1047.2 728.6,1049.5 727.2,1051.5 725.9,1051.5 724.6,1051.5 723.3,1051.0 722.0,1052.7 720.8,1058.8 719.5,1059.4 718.2,1056.8 716.9,1059.2 715.6,1056.5 714.3,1058.4 713.0,1063.5 711.6,1061.1 710.4,1062.4 709.1,1065.5 707.8,1066.0 706.6,1065.7 705.4,1067.8 704.2,1066.1 703.1,1066.5 702.0,1069.0 701.0,1068.1 699.4,1070.4 697.9,1072.4 696.5,1071.9 695.2,1077.4 694.0,1075.1 692.8,1074.3 691.6,1073.7 690.5,1075.7 689.3,1077.9 688.0,1078.3 686.6,1075.9 685.1,1077.3 683.7,1078.4 682.3,1080.6 680.9,1083.3 679.5,1082.1 678.0,1084.0 676.5,1081.9 675.0,1080.2 673.6,1086.4 672.1,1085.7 670.6,1084.8 669.1,1083.5 667.6,1088.6 666.1,1088.4 664.6,1087.0 663.0,1091.9 661.5,1090.1 660.0,1087.9 658.5,1088.5 657.0,1088.0 655.5,1091.8 654.0,1090.6 652.4,1090.5 650.9,1090.6 649.4,1095.0 647.9,1094.5 646.5,1090.8 645.0,1091.2 643.4,1090.7 641.8,1092.4 640.3,1094.0 638.7,1098.4 637.2,1093.9 635.6,1096.9 634.1,1092.7 632.6,1094.4 631.0,1095.9 629.5,1095.2 628.0,1096.0 626.5,1096.6 625.0,1101.3 623.5,1096.9 622.0,1097.5 620.4,1096.7 618.8,1099.1 617.0,1103.1 615.6,1100.2 614.2,1099.5 612.7,1099.2 611.2,1102.4 609.6,1105.2 608.0,1104.9 606.4,1102.9 604.8,1103.4 603.2,1101.2 601.6,1104.0 600.1,1109.4 598.5,1105.0 597.0,1103.0 595.5,1103.1 594.1,1102.5 592.6,1103.1 591.2,1104.4 589.7,1103.1 588.2,1101.7 586.7,1103.7 585.2,1103.6 583.5,1103.9 581.8,1100.9 580.0,1101.1 578.7,1101.2 577.2,1105.1 575.8,1105.4 574.3,1102.7 572.7,1102.0 571.1,1106.0 569.5,1102.1 567.9,1105.8 566.3,1103.1 564.7,1102.9 563.0,1103.5 561.4,1101.6 559.9,1101.2 558.3,1100.9 556.8,1100.7 555.4,1100.8 554.0,1101.4 552.6,1102.1 551.3,1098.6 550.0,1101.2 548.8,1102.2 547.7,1101.0 546.5,1099.1 545.4,1099.0 544.3,1099.0 543.2,1098.1 542.0,1094.2 540.9,1091.2 539.6,1090.5 538.3,1091.4 537.0,1090.0 535.5,1091.0 534.0,1088.6 533.0,1085.1 532.0,1084.0 531.0,1086.4 529.9,1084.1 528.8,1084.3 527.7,1080.3 526.5,1081.9 525.4,1082.5 524.2,1080.8 523.0,1076.9 521.8,1077.7 520.5,1076.5 519.3,1075.0 518.1,1076.0 516.8,1073.3 515.6,1073.4 514.4,1069.9 513.1,1071.4 511.9,1067.3 510.7,1069.1 509.6,1065.3 508.4,1064.5 507.3,1063.6 506.2,1065.6 505.1,1060.1 504.0,1059.9 503.0,1060.8 501.9,1058.7 500.8,1058.4 499.8,1058.7 498.8,1054.7 497.8,1051.4 496.8,1052.5 495.8,1054.8 494.9,1050.3 494.0,1049.5 493.1,1048.9 492.1,1048.2 491.2,1048.0 490.4,1046.1 489.5,1046.6 488.6,1041.0 487.7,1042.3 486.8,1040.9 485.8,1037.5 484.9,1036.9 484.0,1035.1 483.0,1035.3 482.0,1036.3 481.0,1034.5 480.0,1032.1 479.0,1030.7 477.9,1030.3 476.8,1027.9 475.7,1026.9 474.6,1027.8 473.4,1026.0 472.2,1024.2 471.0,1023.2 469.8,1020.1 468.6,1020.6 467.4,1022.2 466.2,1017.4 465.0,1017.2 463.9,1016.7 462.7,1010.8 461.6,1013.0 460.4,1011.9 459.4,1011.6 458.3,1008.0 457.3,1007.8 456.3,1005.6 455.4,1008.1 454.6,1005.1 453.8,1003.9 453.0,1000.7 451.5,1004.5 450.3,1000.8 449.2,998.2 448.4,994.8 447.7,997.5 447.1,992.9 446.5,996.1 446.0,994.8 445.4,993.2 444.8,989.2 444.0,990.0 443.2,989.1 442.4,985.0 441.5,985.4 440.7,985.9 439.9,983.2 439.0,979.6 438.2,979.2 437.4,976.9 436.6,977.9 435.8,974.4 435.0,974.6 433.8,971.7 432.8,973.4 431.7,974.4 430.7,968.3 429.5,969.1 428.3,964.6 427.0,966.7 425.7,963.8 424.4,968.0 422.9,965.3 421.4,967.3 419.9,963.4 418.3,966.4 416.7,967.3 415.0,967.1 413.8,966.3 412.8,963.0 411.8,961.3 410.9,962.2 409.9,963.4 408.7,966.8 407.2,963.3 405.3,961.8 402.9,960.8 400.0,962.6 399.0,960.1 397.9,963.6 396.8,962.1 395.6,958.8 394.3,963.6 393.0,963.5 391.7,962.6 390.3,962.0 388.9,963.1 387.4,960.2 385.9,960.3 384.4,961.9 382.8,961.7 381.2,963.2 379.6,960.7 378.0,959.7 376.4,958.0 374.7,959.8 373.0,957.7 371.3,957.7 369.7,959.2 368.0,959.5 366.3,959.8 364.6,957.4 362.9,957.2 361.2,955.9 359.6,958.9 357.9,957.9 356.3,959.3 354.7,956.2 353.1,956.4 351.5,959.0 350.0,957.7 348.5,954.9 347.0,955.8 345.5,957.6 343.9,955.6 342.4,954.0 340.9,959.0 339.4,957.9 337.9,955.9 336.4,954.5 334.8,958.4 333.3,958.7 331.8,953.2 330.3,958.2 328.8,960.6 327.3,956.1 325.8,954.2 324.2,956.9 322.7,955.6 321.2,955.9 319.7,959.5 318.2,957.4 316.7,957.6 315.2,954.1 313.6,956.1 312.1,954.6 310.6,955.6 309.1,957.8 307.6,959.9 306.1,956.0 304.5,951.2 303.0,953.7 301.5,957.5 300.0,956.4 298.5,956.6 297.0,953.8 295.4,955.2 293.9,951.0 292.4,955.8 290.9,953.7 289.4,951.9 287.8,951.1 286.3,955.0 284.8,953.4 283.3,954.8 281.7,955.9 280.2,949.9 278.7,952.4 277.2,952.5 275.6,953.0 274.1,953.0 272.6,953.6 271.1,956.1 269.6,955.8 268.0,954.2 266.5,950.7 265.0,952.2 263.5,952.9 262.0,954.2 260.5,956.6 259.0,952.0 257.5,953.2 256.0,951.1 254.5,958.1 253.0,956.2 251.5,956.7 250.0,953.4 248.4,952.6 246.9,955.0 245.2,951.1 243.6,953.9 241.9,954.3 240.2,951.0 238.5,953.9 236.7,953.4 235.0,952.4 233.2,950.4 231.5,953.4 229.7,950.5 228.0,953.4 226.3,954.2 224.6,952.3 222.9,949.5 221.2,953.0 219.6,949.6 218.0,950.0 216.4,953.6 214.9,948.7 213.4,951.3 212.0,953.5 210.6,952.5 209.3,951.8 208.0,948.9 206.8,950.4 205.7,951.3 204.6,952.8 203.7,953.6 202.8,952.3 202.0,956.7" stroke="#000"/>
<polyline points="202.0,945.1 202.8,946.2 203.7,943.1 204.7,944.5 205.7,941.2 206.8,943.2 208.0,940.8 209.3,942.8 210.6,942.1 212.0,943.3 213.4,941.1 214.9,939.9 216.5,939.6 218.1,937.9 219.7,943.2 221.4,936.9 223.1,939.9 224.9,940.7 226.7,938.9 228.5,936.4 230.4,939.2 232.3,940.7 234.2,940.2 236.1,935.1 238.0,937.6 240.0,938.5 241.2,941.7 242.5,936.9 243.7,937.0 244.9,939.2 246.2,933.9 247.4,935.5 248.7,932.6 250.0,935.1 251.2,934.3 252.5,934.5 253.8,936.7 255.1,936.4 256.4,935.8 257.8,934.2 259.1,933.5 260.5,932.1 261.9,934.9 263.3,935.1 264.7,933.2 266.1,932.0 267.6,931.9 269.1,934.6 270.5,935.5 272.1,934.8 273.6,931.1 275.2,931.7 276.8,931.0 278.4,935.3 280.0,933.4 281.7,930.3 283.4,933.0 285.1,932.5 286.8,932.3 288.6,932.3 290.4,930.3 292.3,929.7 294.2,932.5 296.1,935.0 298.0,929.0 300.0,928.7 301.2,932.0 302.4,928.4 303.6,925.7 304.8,929.9 306.0,932.5 307.2,932.6 308.4,932.1 309.6,929.1 310.8,930.9 312.0,929.3 313.2,929.1 314.4,931.0 315.6,928.0 316.8,931.8 318.0,931.1 319.2,931.3 320.5,930.8 321.7,928.7 322.9,933.9 324.2,933.9 325.4,929.4 326.7,929.6 327.9,928.8 329.2,929.2 330.5,931.1 331.8,932.0 333.1,928.4 334.4,927.9 335.8,927.1 337.1,929.1 338.5,928.5 339.9,929.4 341.2,929.5 342.7,926.1 344.1,927.5 345.5,929.9 347.0,927.5 348.5,927.7 350.0,925.8 351.5,930.7 353.0,929.7 354.6,928.2 356.2,930.2 357.8,931.5 359.4,931.5 361.1,927.9 362.7,928.4 364.4,929.2 366.2,930.5 367.9,924.9 369.7,928.6 371.5,925.6 373.3,930.6 375.2,928.0 377.1,929.6 379.0,927.7 381.0,931.3 382.9,929.8 385.0,927.2 387.0,925.2 389.1,929.2 391.2,929.2 393.3,927.5 395.5,927.7 397.7,926.9 400.0,930.1 401.1,930.6 402.3,926.9 403.4,926.5 404.6,929.0 405.8,925.0 407.0,927.7 408.2,928.2 409.4,927.9 410.6,930.7 411.9,926.4 413.1,929.2 414.4,928.2 415.7,927.6 416.9,929.0 418.2,928.3 419.5,928.6 420.8,926.9 422.2,926.1 423.5,930.4 424.8,929.9 426.2,928.4 427.6,926.5 428.9,929.2 430.3,925.0 431.7,926.9 433.1,927.5 434.5,926.7 435.9,924.1 437.3,931.0 438.7,924.8 440.2,930.2 441.6,931.8 443.1,929.0 444.5,928.5 446.0,925.1 447.5,927.0 449.0,923.8 450.4,926.8 451.9,928.1 453.4,924.1 454.9,926.7 456.4,925.8 458.0,930.1 459.5,927.9 461.0,928.6 462.6,927.1 464.1,927.8 465.6,927.5 467.2,925.1 468.7,929.3 470.3,926.9 471.9,925.2 473.4,927.2 475.0,928.8 476.6,929.1 478.2,929.4 479.8,928.4 481.4,927.5 483.0,927.0 484.5,925.5 486.1,929.3 487.8,927.6 489.4,929.3 491.0,926.4 492.6,927.3 494.2,928.3 495.8,926.0 497.4,927.4 499.0,927.3 500.7,928.0 502.3,924.9 503.9,925.4 505.5,924.9 507.2,927.2 508.8,925.9 510.4,932.7 512.1,926.4 513.7,931.2 515.3,929.9 517.0,927.5 518.6,928.9 520.2,925.6 521.9,927.5 523.5,928.3 525.1,932.9 526.8,926.9 528.4,927.4 530.0,929.1 531.7,928.9 533.3,924.1 534.9,929.4 536.5,927.7 538.2,927.2 539.8,928.0 541.4,926.5 543.0,925.3 544.6,928.0 546.2,930.1 547.9,926.6 549.5,928.5 551.1,926.8 552.7,928.3 554.3,928.1 555.9,925.9 557.5,929.6 559.0,926.1 560.6,923.5 562.2,926.2 563.8,926.8 565.4,927.5 566.9,926.8 568.5,926.6 570.0,931.4 571.6,925.0 573.2,926.5 574.7,927.6 576.2,928.4 577.8,926.7 579.3,929.1 580.8,926.7 582.3,929.8 583.8,924.7 585.3,928.0 586.8,928.4 588.3,926.0 589.8,927.5 591.3,928.1 592.8,926.5 594.2,927.1 595.7,928.1 597.1,928.9 598.6,929.7 600.0,927.7 601.6,929.3 603.2,929.3 604.8,929.3 606.4,927.9 608.0,922.8 609.6,929.4 611.2,927.8 612.8,926.7 614.4,925.3 616.0,926.3 617.6,925.4 619.3,923.9 620.9,925.1 622.5,927.6 624.1,925.4 625.8,926.6 627.4,931.2 629.0,927.0 630.7,928.8 632.3,925.3 633.9,927.6 635.6,925.9 637.2,926.6 638.8,924.2 640.5,927.4 642.1,928.0 643.8,925.1 645.4,926.9 647.1,928.2 648.7,927.1 650.3,927.7 652.0,926.1 653.6,928.3 655.3,929.5 656.9,925.7 658.6,928.5 660.2,925.7 661.8,927.5 663.5,928.8 665.1,924.8 666.7,921.2 668.4,927.0 670.0,929.6 671.6,928.3 673.3,926.1 674.9,925.7 676.5,926.5 678.1,926.3 679.8,926.0 681.4,927.1 683.0,923.6 684.6,928.2 686.2,923.5 687.8,929.8 689.4,928.0 691.0,925.3 692.6,922.3 694.2,928.1 695.8,925.3 697.4,927.2 699.0,925.5 700.5,929.0 702.1,925.9 703.7,927.3 705.2,924.3 706.8,925.2 708.3,925.8 709.9,927.1 711.4,924.3 713.0,926.8 714.5,929.3 716.0,924.7 717.5,925.4 719.0,927.0 720.6,924.6 722.1,925.3 723.6,924.3 725.0,925.2 726.5,927.5 728.0,925.3 729.5,925.6 730.9,927.0 732.4,927.6 733.8,926.0 735.3,925.1 736.7,926.4 738.1,924.6 739.5,927.0 741.0,925.9 742.4,928.2 743.8,923.5 745.1,927.4 746.5,924.0 747.9,924.8 749.2,930.4 750.6,926.6 751.9,928.9 753.3,925.6 754.6,926.5 755.9,924.8 757.2,926.9 758.5,926.4 759.8,924.9 761.1,926.3 762.3,925.7 763.6,928.2 764.8,927.4 766.1,928.3 767.3,925.0 768.5,928.1 769.7,929.4 770.9,925.9 772.1,925.9 773.2,927.2 774.4,927.3 775.5,923.8 776.7,925.6 777.8,927.3 778.9,923.9 780.0,927.8 782.4,925.5 784.7,924.6 787.0,928.2 789.2,927.5 791.4,924.9 793.5,927.6 795.6,926.5 797.6,927.0 799.5,929.6 801.4,925.0 803.3,927.7 805.1,925.5 806.9,925.6 808.6,927.8 810.3,927.1 812.0,926.0 813.6,926.6 815.2,925.9 816.7,923.1 818.3,925.3 819.7,925.4 821.2,928.3 822.6,920.7 824.0,928.1 825.4,927.8 826.8,926.8 828.1,926.3 829.4,923.7 830.7,930.1 832.0,923.9 833.3,926.7 834.6,927.4 835.8,924.9 837.0,925.9 838.3,926.8 839.5,926.3 840.7,928.5 841.9,930.1 843.1,922.5 844.3,925.9 845.5,928.7 846.7,925.1 847.9,928.1 849.2,930.2 850.4,926.5 851.6,926.6 852.9,923.1 854.1,924.9 855.4,924.7 856.7,927.2 858.0,924.3 859.3,925.3 860.6,924.8 862.0,927.1 863.7,928.6 865.3,925.7 867.0,926.4 868.7,925.3 870.3,927.7 871.9,926.2 873.6,926.8 875.2,925.4 876.8,923.9 878.4,923.0 880.0,925.7 881.6,927.8 883.2,926.3 884.7,927.1 886.3,925.5 887.9,925.3 889.4,924.5 890.9,924.1 892.5,926.9 894.0,925.7 895.5,926.7 897.0,924.4 898.5,927.1 900.0,923.7 901.5,926.6 902.9,925.3 904.4,927.5 905.9,925.4 907.3,923.1 908.7,923.0 910.2,927.6 911.6,923.6 913.0,923.5 914.4,923.3 915.8,929.0 917.2,927.9 918.6,927.5 919.9,923.4 921.3,928.5 922.7,927.3 924.0,925.4 925.3,922.2 926.7,924.9 928.0,926.0 929.8,925.3 931.5,922.9 933.2,926.0 934.9,923.4 936.6,919.9 938.3,924.0 940.0,924.6 941.6,925.6 943.3,927.5 944.9,921.3 946.5,923.0 948.1,926.9 949.7,923.6 951.2,921.0 952.8,921.9 954.3,925.1 955.8,926.2 957.3,925.0 958.8,926.5 960.3,924.5 961.7,921.2 963.2,922.8 964.6,923.8 966.0,921.6 967.4,922.8 968.8,922.0 970.2,923.3 971.5,925.2 972.8,924.0 974.2,922.8 975.5,919.9 976.7,919.8 978.0,919.7 979.9,919.8 981.6,920.3 983.4,922.2 985.0,921.6 986.7,920.4 988.2,919.0 989.8,920.2 991.3,923.9 992.7,918.3 994.1,920.9 995.6,922.1 997.0,919.5 998.3,921.4 999.7,918.3 1001.1,917.9 1002.5,916.7 1003.8,916.8 1005.2,918.7 1006.6,920.6 1008.1,916.1 1009.5,916.1 1011.0,916.2 1012.5,917.7 1014.1,919.8 1015.6,918.8 1017.2,914.6 1018.8,917.3 1020.5,916.3 1022.1,916.9 1023.7,917.1 1025.3,919.4 1027.0,914.3 1028.6,915.1 1030.1,915.6 1031.7,913.0 1033.3,917.3 1034.8,915.4 1036.2,911.8 1037.7,916.5 1039.0,912.2 1040.4,914.3 1041.6,913.0 1042.9,914.1 1044.0,909.8 1046.3,913.7 1048.3,910.0 1050.0,911.4 1051.6,911.1 1053.0,910.4 1054.3,910.8 1055.7,913.7 1057.0,909.4 1058.4,908.2 1060.0,907.2 1061.4,906.3 1062.8,907.8 1064.2,907.6 1065.6,908.1 1067.0,908.8 1068.4,903.6 1069.8,905.6 1071.2,907.2 1072.7,902.2 1074.1,905.8 1075.5,902.2 1077.0,905.3 1078.4,905.3 1079.8,904.6 1081.2,900.3 1082.6,899.0 1084.1,897.1 1085.5,898.9 1087.0,897.5 1088.4,897.3 1089.8,897.4 1091.2,896.9 1092.5,890.9 1093.8,889.7 1095.0,896.6 1096.5,895.4 1098.0,892.2 1099.5,889.6 1100.8,889.3 1102.2,889.1 1103.5,888.7 1104.7,885.0 1105.9,886.8 1107.0,883.3 1108.0,881.9 1109.3,883.7 1110.4,882.2 1111.4,878.4 1112.3,878.5 1113.2,877.1 1114.1,877.8 1115.0,877.2 1115.8,875.0 1116.6,873.3 1117.4,873.2 1118.2,868.9 1119.0,868.5 1119.7,869.8 1120.5,864.4 1121.3,866.9 1122.0,863.6 1122.7,858.7 1123.3,859.2 1123.9,861.1 1124.4,860.9 1125.0,861.4 1125.6,860.9 1126.3,856.3 1127.1,855.4 1128.0,850.1 1128.3,850.8 1128.6,849.8 1129.0,847.8 1129.3,846.8 1129.7,845.8 1130.1,844.9 1130.5,844.3 1130.9,842.7 1131.3,843.8 1131.7,838.5 1132.1,835.9 1132.5,837.9 1133.0,837.9 1133.4,836.3 1133.8,833.1 1134.3,834.2 1134.7,827.5 1135.2,830.9 1135.6,827.4 1136.1,825.5 1136.5,826.0 1137.0,819.5 1137.4,819.6 1137.9,819.1 1138.3,814.5 1138.7,814.2 1139.2,810.1 1139.6,812.8 1140.0,810.5 1140.3,808.7 1140.5,805.3 1140.8,803.7 1141.0,801.9 1141.3,803.9 1141.5,802.5 1141.8,802.1 1142.1,800.3 1142.3,798.1 1142.6,797.7 1142.9,795.2 1143.1,799.1 1143.4,793.6 1143.7,791.2 1144.0,789.1 1144.2,790.6 1144.5,789.4 1144.8,788.9 1145.0,782.2 1145.3,784.2 1145.6,780.4 1145.8,783.8 1146.1,777.3 1146.4,775.3 1146.6,776.4 1146.9,768.3 1147.2,771.6 1147.4,768.6 1147.7,767.0 1147.9,766.9 1148.2,763.4 1148.4,762.2 1148.7,760.8 1148.9,758.2 1149.2,759.4 1149.4,759.3 1149.7,756.4 1149.9,754.0 1150.1,751.5 1150.3,750.9 1150.6,751.1 1150.8,746.7 1151.0,745.8 1151.2,743.4 1151.4,743.2 1151.6,743.3 1151.8,737.8 1152.0,738.7 1152.2,736.7 1152.3,735.5 1152.4,731.5 1152.6,731.3 1152.7,731.2 1152.9,725.9 1153.0,729.1 1153.1,730.4 1153.3,723.5 1153.4,722.8 1153.5,720.5 1153.7,717.9 1153.8,715.6 1153.9,716.5 1154.0,714.9 1154.1,711.5 1154.3,711.6 1154.4,711.7 1154.5,706.2 1154.6,704.2 1154.7,707.0 1154.8,705.4 1154.9,701.9 1155.0,699.8 1155.1,699.8 1155.2,694.2 1155.3,694.1 1155.4,695.5 1155.5,691.2 1155.6,691.1 1155.7,692.4 1155.8,688.7 1155.9,682.3 1156.0,683.6 1156.1,682.1 1156.2,680.6 1156.2,678.1 1156.3,676.2 1156.4,676.1 1156.5,673.9 1156.6,670.8 1156.7,674.6 1156.7,667.9 1156.8,667.7 1156.9,668.0 1157.0,664.4 1157.1,660.1 1157.2,664.3 1157.2,660.1 1157.3,659.2 1157.4,659.3 1157.5,657.0 1157.5,653.9 1157.6,656.4 1157.7,648.8 1157.8,650.8 1157.8,648.3 1157.9,651.9 1158.0,647.2 1158.1,644.0 1158.3,642.3 1158.4,640.4 1158.5,639.7 1158.6,640.5 1158.7,637.3 1158.9,636.4 1159.0,633.7 1159.1,629.1 1159.2,631.9 1159.3,626.6 1159.3,623.4 1159.4,623.5 1159.5,622.5 1159.6,622.4 1159.7,622.4 1159.8,617.7 1159.8,619.4 1159.9,615.8 1160.0,615.8 1160.1,614.2 1160.2,616.5 1160.2,610.9 1160.3,609.7 1160.4,608.7 1160.5,609.4 1160.6,608.9 1160.6,606.7 1160.7,602.1 1160.8,602.6 1160.9,601.9 1161.0,597.5 1161.1,596.5 1161.2,593.7 1161.3,594.9 1161.4,593.1 1161.5,595.5 1161.6,587.6 1161.7,590.0 1161.8,587.8 1161.9,588.9 1162.0,583.7 1162.1,582.1 1162.2,584.5 1162.3,578.6 1162.4,580.3 1162.5,578.1 1162.6,575.2 1162.7,576.4 1162.9,573.0 1163.0,575.8 1163.1,571.8 1163.2,567.6 1163.4,568.5 1163.5,566.7 1163.7,561.7 1163.8,562.9 1164.0,561.2 1164.1,561.4 1164.2,560.5 1164.3,557.1 1164.4,555.9 1164.4,556.5 1164.5,552.3 1164.6,550.2 1164.7,543.3 1164.8,551.0 1164.9,547.8 1165.0,544.0 1165.1,547.3 1165.2,544.0 1165.3,542.3 1165.4,539.0 1165.5,534.8 1165.6,537.4 1165.7,534.3 1165.8,532.8 1166.0,533.4 1166.1,529.3 1166.2,529.8 1166.3,527.7 1166.4,523.1 1166.5,523.0 1166.6,524.6 1166.7,522.9 1166.9,519.1 1167.0,519.3 1167.1,516.3 1167.2,513.9 1167.3,516.4 1167.5,510.1 1167.6,510.8 1167.7,507.7 1167.8,506.8 1167.9,503.9 1168.1,504.1 1168.2,504.4 1168.3,501.1 1168.4,498.6 1168.6,496.5 1168.7,496.6 1168.8,494.5 1169.0,493.2 1169.1,491.9 1169.2,487.9 1169.3,486.6 1169.5,486.5 1169.6,486.8 1169.7,483.2 1169.9,478.7 1170.0,481.1 1170.1,476.3 1170.3,474.6 1170.4,476.3 1170.5,473.6 1170.7,475.8 1170.8,473.8 1171.0,469.8 1171.1,468.6 1171.3,469.4 1171.4,466.5 1171.5,459.0 1171.7,460.9 1171.8,458.3 1172.0,457.5 1172.1,458.0 1172.3,456.9 1172.5,453.0 1172.6,450.3 1172.8,450.9 1172.9,448.9 1173.1,450.1 1173.2,448.2 1173.4,443.4 1173.5,442.5 1173.7,441.5 1173.9,439.7 1174.0,436.1 1174.2,435.8 1174.3,436.0 1174.5,430.4 1174.6,428.2 1174.8,434.0 1175.0,430.6 1175.1,427.6 1175.3,427.1 1175.4,424.0 1175.6,423.0 1175.8,424.6 1175.9,421.2 1176.1,419.3 1176.2,416.1 1176.4,413.7 1176.5,415.1 1176.7,412.4 1176.8,412.1 1177.0,412.0 1177.1,410.3 1177.3,407.3 1177.4,406.1 1177.6,401.7 1177.7,403.9 1177.9,400.7 1178.0,398.4 1178.2,397.0 1178.3,397.1 1178.5,394.8 1178.7,390.6 1178.9,392.3 1179.0,390.5 1179.2,388.7 1179.4,388.8 1179.6,384.0 1179.7,384.7 1179.9,379.8 1180.1,379.3 1180.3,379.6 1180.4,376.4 1180.6,373.6 1180.8,374.8 1180.9,372.8 1181.1,371.0 1181.3,369.3 1181.4,367.0 1181.6,363.8 1181.8,364.7 1181.9,358.9 1182.1,357.2 1182.3,356.5 1182.4,356.1 1182.6,355.1 1182.7,353.1 1182.9,349.6 1183.1,351.0 1183.2,348.1 1183.4,348.7 1183.5,345.6 1183.7,344.9 1183.8,344.4 1184.0,341.3 1184.1,338.0 1184.3,343.4 1184.4,337.5 1184.6,338.8 1184.7,336.4 1184.9,336.0 1185.0,335.4 1185.4,334.3 1185.8,332.4 1186.1,328.4 1186.5,327.8 1186.8,323.5 1187.1,324.2 1187.5,318.6 1187.8,319.2 1188.1,318.2 1188.4,313.9 1188.7,316.5 1189.0,311.7 1189.3,316.4 1189.7,312.1 1190.0,311.0 1190.7,309.0 1191.4,309.3 1192.1,306.8 1192.8,303.0 1193.5,306.3 1194.2,303.3 1195.0,303.1 1196.5,299.9 1198.0,300.0 1199.5,300.5 1201.0,299.9 1202.7,297.0 1204.4,301.1 1206.0,304.0 1207.7,300.7 1209.4,304.5 1211.0,304.6 1211.5,304.6 1211.9,301.0 1212.4,301.7 1212.8,299.9 1213.2,297.8 1213.7,295.2 1214.1,291.6 1214.5,295.3 1215.0,290.8 1215.3,287.5 1215.6,285.6 1215.9,283.0 1216.2,284.1 1216.6,282.1 1216.9,284.6 1217.2,280.5 1217.5,278.0 1217.9,275.0 1218.2,275.2 1218.5,273.0 1218.9,272.8 1219.2,268.1 1219.5,267.1 1219.9,265.8 1220.3,263.0 1220.7,263.5 1221.1,265.9 1221.5,259.8 1221.9,257.1 1222.3,255.6 1222.7,258.4 1223.1,253.8 1223.4,251.3 1223.7,252.5 1224.0,254.2 1224.3,251.0 1224.5,246.2 1224.7,244.7 1224.9,241.9 1225.0,244.6 1225.2,237.1 1225.3,236.6 1225.5,238.7 1225.7,237.4 1226.0,237.5 1226.2,233.4 1226.4,231.8 1226.6,233.1 1226.9,232.8 1227.1,226.6 1227.4,222.8 1227.6,223.3 1227.9,222.7 1228.1,217.2 1228.4,219.0 1228.7,216.3 1229.0,216.1 1229.2,217.5 1229.5,213.4 1229.7,209.9 1230.0,209.8 1230.3,206.0 1230.7,205.5 1231.0,201.9 1231.3,203.4 1231.6,197.8 1231.9,197.7 1232.3,196.8 1232.6,197.0 1232.9,193.0 1233.3,197.8 1233.6,196.3 1234.0,190.5 1234.8,185.7 1235.6,184.7 1236.4,184.8 1237.3,186.9 1238.2,183.8 1239.0,184.5 1240.0,186.3 1241.1,183.4 1242.1,185.2 1243.1,188.3 1244.0,187.7 1244.2,192.6 1244.5,190.7 1244.7,193.0 1244.9,193.1 1245.1,195.8 1245.3,199.0 1245.5,196.9 1245.7,198.5 1245.9,203.9 1246.0,206.0 1246.2,207.2 1246.4,208.5 1246.5,210.6 1246.7,208.4 1246.8,213.6 1247.0,214.4 1247.1,217.3 1247.2,214.8 1247.3,218.9 1247.4,222.1 1247.5,218.6 1247.6,225.2 1247.7,224.5 1247.8,228.1 1247.9,228.3 1247.9,224.9 1248.0,232.9 1248.1,232.0 1248.2,233.5 1248.3,234.2 1248.3,236.9 1248.4,237.0 1248.5,244.4 1248.6,242.7 1248.7,245.7 1248.7,245.3 1248.8,245.3 1248.9,247.6 1249.0,251.4 1249.1,249.2 1249.1,251.4 1249.2,256.2 1249.2,256.6 1249.3,259.1 1249.4,258.6 1249.4,258.6 1249.5,264.4 1249.5,262.7 1249.6,261.8 1249.7,263.0 1249.7,272.2 1249.8,267.4 1249.8,270.9 1249.9,274.6 1250.0,274.1 1250.0,278.6 1250.1,280.0 1250.2,277.0 1250.2,278.6 1250.3,280.6 1250.3,283.6 1250.4,285.2 1250.5,284.7 1250.5,288.1 1250.6,290.4 1250.6,290.1 1250.7,294.3 1250.8,294.9 1250.8,295.6 1250.9,300.4 1250.9,298.2 1251.0,299.0 1251.1,301.9 1251.2,302.2 1251.3,303.9 1251.4,304.9 1251.5,307.5 1251.5,304.7 1251.6,306.8 1251.7,306.7 1251.8,309.6 1251.9,310.1 1252.0,310.0 1252.1,311.2 1252.2,313.8 1252.3,313.9 1252.4,314.3 1252.5,315.8 1252.6,320.8 1252.7,321.9 1252.9,326.4 1253.0,327.6 1253.0,329.4 1253.1,333.1 1253.1,334.9 1253.1,335.5 1253.2,335.8 1253.2,334.6 1253.2,337.5 1253.2,337.0 1253.3,339.7 1253.3,341.9 1253.3,339.3 1253.4,340.1 1253.4,342.2 1253.4,344.3 1253.5,348.0 1253.5,349.1 1253.5,348.6 1253.6,351.5 1253.6,351.1 1253.6,352.3 1253.7,352.6 1253.7,357.3 1253.7,354.7 1253.8,355.9 1253.8,359.3 1253.8,358.7 1253.9,359.3 1253.9,364.5 1253.9,363.3 1254.0,364.3 1254.0,369.3 1254.1,367.8 1254.1,371.4 1254.1,370.0 1254.2,373.7 1254.2,376.3 1254.2,379.9 1254.3,378.4 1254.3,378.8 1254.3,383.3 1254.4,386.3 1254.4,387.8 1254.5,385.8 1254.5,390.9 1254.5,391.2 1254.6,392.6 1254.6,392.5 1254.6,395.0 1254.7,396.4 1254.7,398.7 1254.8,399.6 1254.8,399.3 1254.8,403.2 1254.9,407.4 1254.9,405.8 1255.0,408.6 1255.0,409.6 1255.1,409.7 1255.1,411.7 1255.1,416.1 1255.2,418.1 1255.2,417.2 1255.3,421.6 1255.3,422.3 1255.4,420.7 1255.4,424.8 1255.4,425.8 1255.5,426.0 1255.5,432.5 1255.6,433.1 1255.6,433.7 1255.7,438.0 1255.7,437.3 1255.8,437.2 1255.8,440.2 1255.9,441.9 1255.9,444.6 1256.0,445.6 1256.0,448.6 1256.1,444.8 1256.1,450.6 1256.2,450.5 1256.2,452.9 1256.3,456.5 1256.3,455.8 1256.4,458.5 1256.4,460.9 1256.5,461.9 1256.5,464.9 1256.6,464.8 1256.6,466.5 1256.7,470.2 1256.7,470.6 1256.8,472.4 1256.8,471.9 1256.9,472.4 1256.9,473.7 1257.0,474.4 1257.1,481.7 1257.1,480.2 1257.2,482.0 1257.2,481.1 1257.3,486.3 1257.4,486.9 1257.4,485.0 1257.5,487.7 1257.6,492.1 1257.6,488.7 1257.7,494.4 1257.7,496.0 1257.8,495.3 1257.9,501.1 1257.9,499.4 1258.0,501.0 1258.1,502.8 1258.2,505.4 1258.2,509.0 1258.3,511.5 1258.4,507.6 1258.4,513.8 1258.5,514.8 1258.6,519.0 1258.7,519.7 1258.7,520.4 1258.8,521.6 1258.9,524.2 1258.9,522.6 1259.0,526.1 1259.1,526.6 1259.2,534.5 1259.2,529.0 1259.3,533.5 1259.4,535.4 1259.5,539.1 1259.6,536.3 1259.6,535.8 1259.7,543.5 1259.8,540.4 1259.9,542.2 1259.9,545.5 1260.0,550.1 1260.1,548.5 1260.2,547.8 1260.3,548.5 1260.3,551.1 1260.4,554.5 1260.5,559.3 1260.6,554.9 1260.7,556.3 1260.7,559.2 1260.8,562.5 1260.9,564.2 1261.0,567.4 1261.0,566.3 1261.1,564.3 1261.2,571.5 1261.3,571.8 1261.4,574.1 1261.4,574.8 1261.5,577.0 1261.6,576.8 1261.7,576.6 1261.8,579.8 1261.8,584.4 1261.9,582.5 1262.0,585.4 1262.1,587.2 1262.2,585.5 1262.2,590.0 1262.3,593.5 1262.4,590.1 1262.5,594.8 1262.5,595.7 1262.6,594.7 1262.7,595.8 1262.8,600.6 1262.8,602.7 1262.9,602.9 1263.0,604.0 1263.1,602.5 1263.1,605.9 1263.2,606.6 1263.3,609.8 1263.4,612.1 1263.4,610.2 1263.5,609.8 1263.6,613.2 1263.7,613.2 1263.7,614.8 1263.8,617.5 1263.9,621.0 1263.9,623.1 1264.0,618.6 1264.2,622.4 1264.3,623.6 1264.5,629.2 1264.6,629.7 1264.8,632.8 1264.9,632.0 1265.1,635.9 1265.2,637.3 1265.4,637.7 1265.5,638.1 1265.6,642.3 1265.8,642.0 1265.9,645.5 1266.1,651.0 1266.2,647.2 1266.4,649.9 1266.5,651.2 1266.6,653.8 1266.8,651.7 1266.9,655.3 1267.1,659.2 1267.2,659.6 1267.3,658.3 1267.5,661.7 1267.6,664.1 1267.8,666.5 1267.9,666.3 1268.0,666.2 1268.2,665.1 1268.3,666.8 1268.5,666.8 1268.6,669.0 1268.7,674.0 1268.9,670.7 1269.0,673.3 1269.2,676.2 1269.3,673.7 1269.4,678.0 1269.6,679.4 1269.7,679.7 1269.9,683.6 1270.0,682.1 1270.1,684.1 1270.3,686.1 1270.4,684.1 1270.6,690.1 1270.7,688.6 1270.8,689.3 1271.0,691.2 1271.1,696.6 1271.2,693.6 1271.4,701.0 1271.5,700.9 1271.6,702.3 1271.8,701.4 1271.9,703.3 1272.0,704.4 1272.2,709.9 1272.3,707.2 1272.4,708.6 1272.5,713.0 1272.7,712.1 1272.8,714.2 1272.9,713.7 1273.1,716.2 1273.2,719.8 1273.4,721.0 1273.5,721.5 1273.6,723.4 1273.8,725.3 1273.9,726.8 1274.1,728.0 1274.2,729.6 1274.4,731.9 1274.5,733.5 1274.7,736.4 1274.8,736.8 1275.0,738.1 1275.1,739.9 1275.3,742.1 1275.5,740.9 1275.6,745.5 1275.8,744.2 1276.0,748.8 1276.2,748.1 1276.4,747.3 1276.5,749.1 1276.7,751.0 1276.9,754.5 1277.1,754.1 1277.3,753.9 1277.5,759.4 1277.7,760.8 1277.8,761.5 1278.0,763.4 1278.2,763.8 1278.4,764.4 1278.6,765.3 1278.8,767.1 1279.0,768.7 1279.2,772.3 1279.4,774.0 1279.6,775.1 1279.9,782.0 1280.1,778.8 1280.3,778.9 1280.5,780.4 1280.7,782.6 1280.9,783.4 1281.1,785.1 1281.4,786.0 1281.6,788.2 1281.8,789.4 1282.0,790.2 1282.3,794.1 1282.5,790.4 1282.8,797.4 1283.0,796.6 1283.2,800.6 1283.5,801.1 1283.7,804.8 1284.0,801.2 1284.2,806.4 1284.5,807.0 1284.7,806.7 1285.0,807.7 1285.4,807.2 1285.8,813.9 1286.2,813.3 1286.6,819.0 1287.0,819.2 1287.4,820.7 1287.8,829.0 1288.3,824.9 1288.7,824.3 1289.1,826.0 1289.6,823.2 1290.0,831.4 1290.5,831.9 1291.0,833.3 1291.4,832.1 1291.9,835.1 1292.3,836.6 1292.8,839.2 1293.3,839.1 1293.8,838.9 1294.2,843.5 1294.7,844.6 1295.2,841.6 1295.7,848.6 1296.1,847.3 1296.6,851.1 1297.1,850.0 1297.5,850.3 1298.0,849.5 1298.9,853.2 1299.8,854.6 1300.7,856.2 1301.7,857.5 1302.6,857.5 1303.5,856.7 1304.5,865.7 1305.4,861.7 1306.4,863.7 1307.3,866.2 1308.2,863.6 1309.2,867.5 1310.1,868.4 1311.1,867.7 1312.0,872.3 1313.4,870.8 1314.8,873.5 1316.1,872.7 1317.5,872.3 1318.9,872.7 1320.3,876.4 1321.7,872.4 1323.1,875.8 1324.5,874.4 1326.0,876.2 1327.3,875.8 1328.6,877.8 1329.8,875.0 1331.0,877.1 1332.3,878.1 1333.6,879.0 1335.0,876.9 1336.5,879.0 1338.2,880.5 1340.0,877.3 1342.0,879.9 1343.1,883.3 1344.2,879.7 1345.4,883.3 1346.5,881.3 1347.7,883.5 1348.9,883.6 1350.1,881.4 1351.4,882.4 1352.7,883.9 1354.0,885.5 1355.4,887.0 1356.8,888.5 1358.3,889.9 1359.9,885.3 1361.5,887.2 1363.2,889.2 1365.0,886.4 1366.9,891.0 1368.8,890.3 1370.9,892.0 1373.0,891.7 1374.1,892.9 1375.3,891.7 1376.5,894.7 1377.8,897.7 1379.0,892.9 1380.3,891.3 1381.6,893.2 1383.0,889.3 1384.4,894.1 1385.8,892.2 1387.2,892.7 1388.6,892.3 1390.1,896.9 1391.6,896.4 1393.1,894.9 1394.6,894.5 1396.1,897.6 1397.7,897.1 1399.2,895.2 1400.8,893.8 1402.4,895.1 1403.9,896.9 1405.5,897.8 1407.1,897.3 1408.7,896.3 1410.3,896.9 1411.9,896.3 1413.6,899.2 1415.2,896.2 1416.8,896.7 1418.4,896.3 1420.0,899.7 1421.6,900.8 1423.2,901.3 1424.7,896.1 1426.3,898.9 1427.9,901.5 1429.4,898.3 1431.0,898.5 1432.5,907.3 1434.0,901.5 1435.5,902.3 1437.0,900.0 1438.5,901.1 1440.0,900.0 1441.5,902.7 1443.0,902.5 1444.5,902.7 1446.0,902.1 1447.6,903.8 1449.1,901.1 1450.6,905.3 1452.1,903.8 1453.6,900.5 1455.1,903.3 1456.7,904.3 1458.2,900.8 1459.7,903.7 1461.2,904.5 1462.7,901.9 1464.2,904.5 1465.8,902.6 1467.3,902.8 1468.8,904.0 1470.3,902.6 1471.8,905.9 1473.3,904.1 1474.9,903.6 1476.4,905.0 1477.9,906.6 1479.4,907.4 1480.9,906.0 1482.4,905.2 1484.0,905.9 1485.5,906.7 1487.0,908.7 1488.5,904.7 1490.0,905.5 1491.5,906.3 1493.0,903.5 1494.5,903.6 1496.0,906.7 1497.5,908.2 1499.0,909.9 1500.4,906.2 1501.8,908.3 1503.1,906.1 1504.4,908.5 1505.7,907.4 1507.0,907.0 1508.2,908.6 1509.4,908.6 1510.6,907.3 1511.8,907.2 1513.0,905.9 1514.2,908.7 1515.3,910.1 1516.5,909.9 1517.7,909.9 1519.0,911.9 1520.2,906.6 1521.4,908.0 1522.7,906.4 1524.0,906.1 1525.4,907.2 1526.7,906.8 1528.2,906.8 1529.6,909.0 1531.1,908.6 1532.7,908.1 1534.3,905.6 1536.0,910.7 1537.8,909.6 1539.6,907.5 1541.5,907.2 1543.4,910.8 1545.5,906.5 1547.6,910.8 1549.8,909.5 1552.1,910.5 1554.5,905.7 1557.0,910.8 1558.1,908.6 1559.2,908.5 1560.3,910.6 1561.4,911.0 1562.5,908.2 1563.7,913.4 1564.8,912.4 1566.0,911.3 1567.1,913.3 1568.3,912.6 1569.5,909.7 1570.7,911.4 1571.9,909.6 1573.2,911.4 1574.4,910.1 1575.6,909.2 1576.9,909.9 1578.2,910.5 1579.5,910.6 1580.7,911.4 1582.0,910.0 1583.4,909.7 1584.7,910.4 1586.0,911.8 1587.3,909.2 1588.7,906.0 1590.1,909.5 1591.4,907.0 1592.8,912.6 1594.2,910.9 1595.6,908.6 1597.0,910.7 1598.4,912.0 1599.8,910.3 1601.3,910.5 1602.7,913.9 1604.1,912.7 1605.6,915.1 1607.1,911.6 1608.6,910.0 1610.0,912.0 1611.5,913.4 1613.0,909.8 1614.5,909.2 1616.1,910.1 1617.6,910.2 1619.1,912.4 1620.6,910.2 1622.2,910.6 1623.7,909.2 1625.3,911.5 1626.9,912.8 1628.5,910.4 1630.0,909.1 1631.6,914.0 1633.2,909.9 1634.8,910.3 1636.4,912.3 1638.1,910.4 1639.7,911.5 1641.3,911.1 1643.0,912.8 1644.6,913.4 1646.2,912.6 1647.9,912.8 1649.6,911.4 1651.2,915.0 1652.9,909.0 1654.6,910.2 1656.3,915.4 1658.0,914.6 1659.7,912.1 1661.4,915.6 1663.1,913.4 1664.8,912.9 1666.5,910.8 1668.2,914.5 1670.0,907.6 1671.7,911.0 1673.4,910.9 1675.2,911.4 1676.9,909.2 1678.7,912.6 1680.4,913.5 1682.2,915.6 1683.9,913.5 1685.7,910.1 1687.5,911.9 1689.3,911.7 1691.0,915.0 1692.8,912.8 1694.6,912.6 1696.4,910.2 1698.2,911.9 1700.0,914.4 1701.3,911.4 1702.6,909.0 1704.0,910.9 1705.3,911.8 1706.7,912.0 1708.1,914.1 1709.5,913.3 1710.9,909.6 1712.3,912.4 1713.8,908.7 1715.3,912.6 1716.7,913.8 1718.2,909.0 1719.7,913.4 1721.3,911.3 1722.8,911.4 1724.3,910.6 1725.9,913.5 1727.5,912.2 1729.0,915.1 1730.6,913.4 1732.2,911.0 1733.8,911.1 1735.5,909.3 1737.1,913.7 1738.7,910.8 1740.4,909.2 1742.1,914.7 1743.7,912.7 1745.4,912.9 1747.1,912.0 1748.8,915.3 1750.5,909.8 1752.2,911.3 1753.9,909.8 1755.6,913.3 1757.3,910.0 1759.1,912.9 1760.8,910.6 1762.5,912.1 1764.3,914.6 1766.0,914.1 1767.8,913.8 1769.6,914.6 1771.3,910.9 1773.1,909.1 1774.8,914.3 1776.6,913.9 1778.4,910.6 1780.2,912.8 1781.9,915.2 1783.7,915.2 1785.5,913.7 1787.2,912.8 1789.0,912.1 1790.8,912.1 1792.6,911.4 1794.3,912.5 1796.1,913.4 1797.9,911.6 1799.6,910.5 1801.4,911.5 1803.2,911.7 1804.9,913.4 1806.7,913.0 1808.4,912.5 1810.2,915.7 1811.9,912.4 1813.7,913.7 1815.4,914.4 1817.1,913.6 1818.8,914.1 1820.6,914.4 1822.3,912.8 1824.0,911.8 1825.7,913.0 1827.4,909.5 1829.0,912.6 1830.7,912.6 1832.4,913.6 1834.0,915.0 1835.7,910.1 1837.3,913.7 1838.9,915.1 1840.5,913.7 1842.2,912.2 1843.7,911.4 1845.3,914.7 1846.9,915.6 1848.5,912.4 1850.0,912.5 1851.6,913.6 1853.1,910.9 1854.6,916.8 1856.1,913.5 1857.6,910.5 1859.0,917.4 1860.5,911.0 1861.9,916.5 1863.4,913.2 1864.8,912.2 1866.2,914.8 1867.5,910.0 1868.9,915.3 1870.2,913.8 1871.6,912.8 1872.9,914.9 1874.2,914.6 1875.4,915.9 1876.7,916.2 1877.9,915.5 1879.2,913.9 1880.4,914.0 1881.5,914.5 1882.7,914.2 1883.8,914.0 1884.9,910.5 1886.0,914.9 1887.1,914.5 1888.2,910.9 1889.2,918.3 1890.2,912.6 1891.2,912.6 1892.2,914.7 1893.1,914.3 1894.0,917.3 1894.9,913.5 1895.8,914.2 1896.6,914.2 1897.4,913.8 1898.2,915.2 1899.0,912.6 1917.7,915.5 1923.9,920.6 1917.7,920.4 1899.0,921.1 1898.2,918.5 1897.4,917.7 1896.6,924.4 1895.8,920.4 1894.9,919.2 1894.0,920.0 1893.1,920.0 1892.2,920.1 1891.2,922.9 1890.2,922.2 1889.2,920.6 1888.2,921.5 1887.1,922.3 1886.0,919.5 1884.9,922.1 1883.8,919.3 1882.7,919.5 1881.5,920.4 1880.3,922.7 1879.1,923.7 1877.9,922.3 1876.7,920.2 1875.4,922.9 1874.1,920.7 1872.8,922.3 1871.5,923.2 1870.2,919.8 1868.8,921.1 1867.5,922.5 1866.1,922.6 1864.7,918.9 1863.3,920.5 1861.9,921.5 1860.4,920.5 1859.0,920.5 1857.5,919.6 1856.0,918.1 1854.5,925.1 1853.0,919.9 1851.5,923.2 1849.9,922.3 1848.4,920.2 1846.8,923.5 1845.2,920.2 1843.6,921.8 1842.0,922.0 1840.4,921.6 1838.8,922.2 1837.2,916.7 1835.5,924.6 1833.9,919.8 1832.2,922.7 1830.6,919.8 1828.9,922.8 1827.2,922.5 1825.5,923.2 1823.8,927.1 1822.1,923.3 1820.4,918.4 1818.7,921.2 1817.0,920.4 1815.2,923.2 1813.5,923.2 1811.7,915.7 1810.0,920.7 1808.2,925.1 1806.5,921.2 1804.7,921.2 1803.0,925.4 1801.2,922.2 1799.4,922.9 1797.7,923.3 1795.9,924.7 1794.1,923.2 1792.4,922.2 1790.6,922.6 1788.8,920.4 1787.0,920.7 1785.3,921.8 1783.5,920.6 1781.7,922.0 1779.9,920.1 1778.2,919.9 1776.4,922.9 1774.6,922.3 1772.9,920.5 1771.1,922.6 1769.3,919.9 1767.6,923.5 1765.8,923.8 1764.1,920.3 1762.3,920.6 1760.6,922.6 1758.9,921.8 1757.1,921.2 1755.4,925.3 1753.7,924.2 1752.0,923.8 1750.3,923.4 1748.6,920.7 1746.9,921.8 1745.2,925.0 1743.5,921.4 1741.9,917.8 1740.2,923.8 1738.5,925.1 1736.9,926.8 1735.3,922.2 1733.7,920.8 1732.1,923.4 1730.5,923.5 1728.9,919.7 1727.3,920.5 1725.7,922.0 1724.2,923.7 1722.6,924.9 1721.1,921.3 1719.6,922.3 1718.1,922.4 1716.6,921.7 1715.2,923.2 1713.7,922.7 1712.3,922.0 1710.8,926.4 1709.4,921.1 1708.0,921.6 1706.6,922.4 1705.3,923.6 1703.9,921.8 1702.6,922.8 1701.3,921.6 1700.0,923.5 1698.2,921.5 1696.4,923.5 1694.6,922.6 1692.9,923.1 1691.2,921.1 1689.5,922.0 1687.8,923.4 1686.2,923.8 1684.5,922.2 1682.9,920.7 1681.3,921.6 1679.8,922.2 1678.2,924.1 1676.7,921.7 1675.2,924.2 1673.7,923.8 1672.2,923.6 1670.7,924.0 1669.2,919.4 1667.8,923.8 1666.4,923.0 1665.0,922.9 1663.5,924.0 1662.2,923.4 1660.8,923.4 1659.4,923.8 1658.0,924.9 1656.7,920.7 1655.3,926.4 1654.0,924.1 1652.7,918.6 1651.3,918.7 1650.0,923.8 1648.7,924.4 1647.4,922.3 1646.1,922.6 1644.8,922.9 1643.5,925.1 1642.2,923.2 1640.9,919.8 1639.6,925.6 1638.4,922.8 1637.1,925.6 1635.8,923.5 1634.5,925.0 1633.2,923.3 1631.9,922.3 1630.6,924.9 1629.3,923.2 1628.0,921.2 1626.7,924.1 1625.4,926.9 1624.1,923.5 1622.8,920.8 1621.4,922.3 1620.1,926.4 1618.8,923.1 1617.4,924.0 1616.0,923.9 1614.7,922.4 1613.3,924.7 1611.9,925.4 1610.5,922.4 1609.1,922.2 1607.6,922.7 1606.2,922.7 1604.7,925.3 1603.3,924.9 1601.8,924.5 1600.3,924.1 1598.8,926.0 1597.2,921.9 1595.7,923.8 1594.1,926.3 1592.5,922.8 1590.9,922.8 1589.3,925.2 1587.6,923.4 1585.9,923.8 1584.2,924.5 1582.5,927.0 1580.8,923.5 1579.0,921.7 1577.2,922.5 1575.4,923.8 1573.6,922.9 1571.7,920.7 1569.9,923.2 1567.9,922.6 1566.0,924.8 1564.0,927.5 1562.0,921.4 1560.0,922.1 1558.8,925.7 1557.6,925.0 1556.4,925.0 1555.2,923.5 1553.9,924.5 1552.7,922.0 1551.4,921.9 1550.1,927.6 1548.8,927.4 1547.5,924.5 1546.2,921.9 1544.9,927.6 1543.6,925.2 1542.2,923.4 1540.9,924.2 1539.5,923.2 1538.2,920.6 1536.8,922.8 1535.4,926.4 1534.0,924.4 1532.6,925.8 1531.2,925.3 1529.8,922.6 1528.3,923.3 1526.9,923.8 1525.4,925.1 1524.0,925.6 1522.5,925.6 1521.0,923.8 1519.6,922.8 1518.1,925.6 1516.6,924.6 1515.1,923.3 1513.6,921.9 1512.0,923.3 1510.5,922.1 1509.0,922.9 1507.5,924.5 1505.9,927.0 1504.4,924.5 1502.8,924.3 1501.2,923.5 1499.7,926.3 1498.1,924.6 1496.5,925.6 1494.9,924.7 1493.4,923.9 1491.8,922.7 1490.2,922.8 1488.6,925.4 1487.0,921.8 1485.3,924.7 1483.7,922.0 1482.1,924.2 1480.5,920.5 1478.9,928.3 1477.2,922.4 1475.6,925.1 1474.0,925.2 1472.3,925.9 1470.7,924.2 1469.0,922.5 1467.4,921.9 1465.7,922.3 1464.1,924.8 1462.4,925.2 1460.8,924.6 1459.1,925.7 1457.4,925.1 1455.8,924.6 1454.1,923.1 1452.5,923.6 1450.8,921.5 1449.1,926.3 1447.5,925.4 1445.8,922.3 1444.1,926.2 1442.5,924.7 1440.8,924.9 1439.1,923.7 1437.5,924.1 1435.8,922.7 1434.1,925.3 1432.5,923.6 1430.8,924.5 1429.1,925.1 1427.5,927.0 1425.8,923.9 1424.2,928.0 1422.5,924.7 1420.8,923.9 1419.2,923.0 1417.5,921.8 1415.9,922.3 1414.2,925.9 1412.6,925.9 1411.0,925.1 1409.3,923.6 1407.7,920.6 1406.0,925.9 1404.4,926.4 1402.8,923.6 1401.2,923.8 1399.6,924.8 1397.9,926.5 1396.3,924.8 1394.7,921.8 1393.1,925.6 1391.5,925.4 1389.9,924.5 1388.4,925.3 1386.8,922.5 1385.2,925.4 1383.6,922.6 1382.1,926.1 1380.5,923.2 1378.9,921.5 1377.4,926.9 1375.9,925.6 1374.3,923.0 1372.8,924.6 1371.3,922.9 1369.8,924.4 1368.3,922.8 1366.8,926.5 1365.3,924.0 1363.8,921.4 1362.3,925.6 1360.8,923.1 1359.4,920.8 1357.9,923.4 1356.5,926.2 1355.0,923.0 1353.6,926.8 1352.2,925.2 1350.8,925.9 1349.4,922.0 1348.0,924.9 1346.6,923.8 1345.2,925.8 1343.9,923.7 1342.5,922.8 1341.2,925.9 1339.8,923.5 1338.5,926.8 1337.2,926.2 1335.9,924.6 1334.6,928.7 1333.3,923.7 1332.1,928.6 1330.8,925.5 1329.5,926.1 1328.3,927.7 1327.1,924.9 1325.9,926.7 1324.7,925.9 1323.5,922.4 1322.3,926.5 1321.2,926.0 1320.0,923.5 1317.8,925.1 1315.7,925.1 1313.5,926.7 1311.4,921.9 1309.3,923.0 1307.3,922.2 1305.2,924.7 1303.1,926.2 1301.1,924.9 1299.1,925.0 1297.1,924.7 1295.2,925.9 1293.2,924.2 1291.3,929.0 1289.3,924.2 1287.4,924.4 1285.5,924.8 1283.7,926.3 1281.8,922.8 1280.0,924.7 1278.2,925.0 1276.4,924.6 1274.6,927.2 1272.8,926.2 1271.1,926.6 1269.3,921.2 1267.6,922.1 1265.9,924.4 1264.2,923.7 1262.5,924.7 1260.9,925.2 1259.2,926.4 1257.6,926.8 1256.0,922.3 1254.4,926.1 1252.8,922.8 1251.3,924.0 1249.7,925.4 1248.2,925.5 1246.7,926.5 1245.2,925.7 1243.7,923.8 1242.2,928.5 1240.8,925.1 1239.3,925.3 1237.9,925.8 1236.5,924.5 1235.1,927.5 1233.7,926.8 1232.3,925.0 1231.0,923.4 1229.7,924.6 1228.3,926.9 1227.0,926.9 1225.7,926.2 1224.4,924.7 1223.2,924.4 1221.9,926.5 1220.7,925.8 1219.5,925.1 1218.2,925.9 1217.1,926.2 1215.9,926.1 1214.7,925.2 1213.5,927.0 1212.4,924.6 1211.3,926.3 1210.1,925.2 1209.0,928.9 1208.0,929.1 1206.9,922.9 1205.8,927.1 1204.8,925.7 1203.7,926.7 1202.7,926.2 1201.7,927.5 1200.7,923.6 1199.7,926.2 1198.7,924.9 1197.7,928.2 1196.8,927.3 1195.8,926.4 1194.9,925.4 1194.0,926.9 1190.0,927.7 1186.6,930.6 1183.7,931.6 1181.2,926.2 1179.0,926.6 1177.3,927.6 1175.8,925.7 1174.7,927.5 1173.7,928.7 1172.9,928.3 1172.2,929.1 1171.6,930.4 1171.0,928.2 1170.4,926.9 1169.8,929.4 1169.0,929.2 1168.1,928.2 1167.0,930.5 1165.1,930.1 1163.2,933.1 1161.5,928.5 1159.8,931.9 1158.2,934.9 1156.7,934.8 1155.2,933.6 1153.9,936.8 1152.5,936.6 1151.2,934.9 1150.0,937.6 1148.3,934.2 1146.9,937.2 1145.6,935.6 1144.5,938.8 1143.2,940.8 1141.8,942.4 1140.0,941.0 1138.9,942.1 1137.6,944.4 1136.3,943.7 1134.9,944.7 1133.4,946.2 1131.9,943.5 1130.4,943.9 1128.9,947.4 1127.4,948.3 1125.9,946.1 1124.5,951.1 1123.2,951.2 1122.0,953.5 1120.7,955.2 1119.4,954.4 1118.2,955.3 1117.1,955.8 1116.0,954.9 1114.9,958.2 1113.9,959.5 1112.9,963.1 1111.9,962.5 1111.0,962.6 1110.0,964.1 1109.1,962.6 1108.2,968.2 1107.3,968.5 1106.5,971.1 1105.7,971.1 1105.0,976.5 1104.2,974.5 1103.4,976.7 1102.6,977.0 1101.8,978.0 1101.0,979.1 1100.0,979.9 1099.0,982.2 1097.9,983.8 1096.9,985.6 1095.9,984.7 1094.8,986.0 1093.8,988.2 1092.6,988.4 1091.5,991.8 1090.9,990.4 1090.2,992.6 1089.6,997.1 1088.9,992.8 1088.3,996.2 1087.6,995.8 1086.9,997.4 1086.2,1001.2 1085.6,1001.7 1084.9,1004.7 1084.2,1003.9 1083.5,1008.2 1082.8,1007.2 1082.1,1010.6 1081.4,1012.0 1080.7,1010.7 1080.0,1011.9 1079.3,1016.5 1078.6,1017.3 1077.9,1015.9 1077.2,1018.7 1076.5,1020.8 1075.8,1024.1 1075.1,1024.9 1074.4,1025.3 1073.7,1024.5 1073.0,1027.4 1072.3,1029.7 1071.5,1030.5 1070.8,1031.0 1070.1,1032.0 1069.4,1036.3 1068.7,1035.2 1068.0,1034.8 1067.0,1038.0 1066.0,1041.7 1064.9,1041.5 1063.9,1042.4 1062.8,1045.6 1061.8,1045.3 1060.7,1046.6 1059.7,1048.3 1058.7,1051.8 1057.8,1050.1 1056.9,1050.2 1056.0,1053.6 1054.5,1053.6 1053.1,1054.8 1051.9,1054.6 1050.7,1053.0 1049.4,1055.6 1048.0,1059.6 1046.4,1055.1 1044.7,1059.4 1043.0,1061.8 1041.3,1061.0 1039.6,1057.9 1038.0,1062.7 1036.3,1061.0 1034.8,1062.2 1033.2,1062.8 1031.7,1060.6 1030.0,1060.3 1028.7,1055.7 1027.4,1057.6 1026.0,1057.3 1024.6,1059.2 1023.1,1056.2 1021.6,1056.4 1020.0,1053.4 1018.9,1050.8 1017.8,1053.5 1016.8,1051.9 1015.7,1050.8 1014.6,1048.1 1013.4,1045.1 1012.0,1048.1 1010.5,1045.2 1008.9,1048.1 1007.0,1044.7 1005.9,1041.2 1004.8,1045.6 1003.6,1043.3 1002.3,1041.2 1000.9,1041.2 999.5,1040.6 998.0,1039.8 996.5,1038.8 995.0,1036.0 993.5,1036.8 992.0,1035.0 990.5,1032.6 989.0,1034.1 987.5,1033.6 986.1,1031.6 984.7,1031.4 983.4,1032.2 982.2,1027.3 981.1,1029.5 980.0,1030.9 978.0,1025.5 976.4,1026.5 975.1,1020.3 974.0,1024.9 973.0,1024.1 971.9,1026.6 970.6,1023.2 969.0,1022.7 967.0,1022.5 965.9,1022.5 964.7,1018.9 963.5,1019.0 962.2,1018.3 960.9,1018.5 959.5,1020.0 958.0,1018.0 956.6,1021.0 955.1,1015.2 953.6,1016.2 952.0,1018.1 950.5,1014.6 948.9,1015.6 947.4,1012.7 945.9,1009.4 944.4,1011.9 942.9,1010.9 941.4,1012.6 940.0,1011.1 938.6,1010.1 937.2,1010.9 935.8,1010.1 934.4,1007.0 933.0,1012.5 931.6,1006.6 930.2,1004.5 928.8,1005.3 927.4,999.9 926.1,1005.1 924.7,1001.4 923.3,1003.5 922.0,1000.4 920.6,998.8 919.3,1004.6 917.9,1000.4 916.6,1003.3 915.3,998.3 914.0,997.2 912.4,1000.2 910.8,995.2 909.2,993.4 907.7,998.2 906.2,996.0 904.7,992.5 903.2,994.7 901.7,994.0 900.2,994.3 898.7,995.6 897.2,994.4 895.7,992.2 894.1,993.5 892.6,993.3 891.0,992.4 889.5,991.1 888.0,994.0 886.4,991.8 884.9,992.0 883.3,992.5 881.8,994.1 880.2,992.0 878.6,993.7 877.0,995.0 875.5,995.0 873.9,993.5 872.3,993.5 870.7,992.1 869.1,993.4 867.6,995.2 866.0,994.4 864.5,995.4 863.1,993.9 861.6,989.2 860.1,994.9 858.6,997.2 857.2,994.7 855.7,994.7 854.2,995.8 852.8,996.4 851.3,997.2 849.8,999.7 848.4,994.4 846.9,996.9 845.4,1002.8 843.9,996.7 842.5,998.0 841.0,1001.8 839.7,1004.1 838.4,1002.4 837.1,1003.4 835.7,1002.1 834.4,1005.0 833.1,1005.4 831.8,1004.6 830.5,1008.6 829.2,1008.4 827.9,1006.7 826.6,1005.1 825.2,1002.8 823.9,1009.2 822.6,1008.4 821.3,1007.2 820.0,1010.8 818.7,1013.1 817.3,1014.9 816.0,1015.9 814.9,1017.3 813.7,1016.8 812.5,1017.1 811.4,1020.3 810.2,1021.4 809.1,1019.7 807.9,1020.9 806.8,1022.1 805.6,1022.4 804.4,1018.0 803.3,1024.7 802.1,1024.3 801.0,1025.7 799.8,1030.5 798.6,1026.9 797.5,1031.5 796.3,1030.4 795.1,1031.8 794.0,1033.1 792.8,1034.4 791.7,1034.9 790.5,1034.5 789.5,1036.3 788.5,1037.6 787.4,1041.3 786.4,1043.2 785.4,1041.8 784.4,1041.3 783.3,1042.4 782.3,1048.2 781.3,1044.6 780.3,1047.2 779.3,1049.7 778.2,1048.3 777.2,1054.2 776.2,1051.2 775.2,1053.6 774.1,1056.4 773.1,1057.0 772.1,1055.8 771.1,1057.9 770.1,1060.1 769.1,1060.7 768.0,1059.3 767.0,1060.1 766.0,1062.3 765.0,1060.4 763.8,1066.4 762.7,1070.3 761.5,1067.5 760.2,1070.7 759.0,1074.2 757.8,1069.7 756.6,1073.7 755.3,1075.3 754.1,1073.6 752.9,1077.7 751.7,1077.0 750.5,1077.3 749.3,1080.4 748.1,1079.2 747.0,1081.0 745.9,1079.5 744.8,1085.0 743.7,1085.3 742.7,1084.1 741.8,1087.6 740.9,1083.1 740.0,1086.0 738.1,1090.4 736.5,1087.9 735.1,1090.8 733.8,1092.8 732.7,1087.3 731.6,1095.8 730.5,1094.1 729.3,1089.4 728.0,1091.0 726.6,1096.0 725.2,1098.2 723.8,1095.4 722.4,1095.9 721.0,1100.8 719.5,1101.9 718.0,1104.7 716.5,1099.5 715.0,1102.3 713.6,1102.3 712.0,1103.8 710.5,1105.2 708.9,1101.0 707.2,1105.9 705.7,1100.8 704.1,1101.8 702.6,1105.2 701.3,1105.5 700.0,1108.8 698.2,1104.0 696.6,1109.5 695.1,1106.9 693.8,1107.9 692.4,1102.1 691.0,1102.5 689.5,1106.2 688.0,1106.4 686.5,1101.8 685.0,1102.3 683.5,1105.7 682.0,1103.8 680.6,1105.4 679.4,1105.7 678.1,1102.4 676.7,1102.3 675.1,1103.6 673.0,1101.3 671.9,1103.6 670.6,1098.9 669.3,1100.1 667.9,1099.7 666.4,1096.1 664.8,1096.8 663.3,1096.9 661.7,1096.7 660.1,1099.1 658.5,1096.9 657.0,1093.0 655.5,1097.4 654.0,1092.6 652.6,1092.6 651.2,1092.5 649.8,1095.7 648.4,1090.7 647.0,1088.8 645.7,1089.0 644.3,1085.4 643.0,1090.4 641.6,1083.7 640.2,1088.1 638.8,1086.6 637.4,1083.4 636.0,1084.6 634.7,1087.1 633.3,1081.6 632.0,1082.3 630.6,1079.7 629.3,1083.2 627.9,1081.4 626.5,1079.5 625.2,1077.9 623.8,1080.5 622.4,1076.2 621.1,1077.6 619.7,1076.4 618.3,1075.6 617.0,1079.5 615.4,1072.2 613.9,1075.3 612.3,1075.7 610.8,1078.1 609.3,1074.5 607.7,1073.1 606.2,1072.0 604.6,1073.9 603.1,1071.3 601.6,1068.0 600.0,1072.5 598.5,1068.3 597.0,1071.5 595.4,1072.6 593.8,1073.4 592.2,1068.7 590.7,1069.2 589.1,1071.5 587.5,1066.4 586.0,1069.2 584.4,1070.6 582.9,1067.7 581.5,1069.8 580.0,1067.1 578.5,1064.4 577.0,1067.3 575.6,1066.0 574.3,1064.7 572.9,1064.4 571.5,1063.8 570.2,1061.3 568.7,1061.2 567.2,1060.2 565.7,1060.3 564.0,1057.6 562.8,1057.3 561.6,1057.3 560.4,1057.2 559.1,1057.9 557.7,1054.4 556.4,1056.0 555.0,1053.0 553.6,1053.7 552.2,1052.4 550.8,1054.2 549.4,1052.9 548.1,1050.9 546.8,1048.2 545.5,1050.1 544.3,1047.2 543.1,1049.4 542.0,1046.6 540.7,1044.9 539.4,1042.5 538.3,1043.8 537.2,1044.6 536.2,1039.8 535.2,1037.8 534.2,1041.0 533.2,1037.6 532.3,1039.3 531.3,1035.9 530.2,1031.7 529.2,1034.5 528.0,1030.8 526.9,1033.5 525.7,1026.7 524.6,1027.3 523.4,1031.9 522.2,1025.5 521.0,1021.8 519.8,1022.9 518.5,1022.7 517.3,1024.6 516.0,1021.4 514.8,1021.6 513.5,1019.6 512.3,1019.3 511.0,1018.5 509.8,1015.5 508.7,1013.5 507.5,1015.5 506.3,1015.3 505.1,1013.1 503.9,1014.7 502.7,1012.0 501.5,1011.1 500.2,1011.4 499.0,1009.1 497.8,1004.9 496.6,1005.8 495.4,1007.4 494.2,1006.1 493.0,1003.9 491.8,1003.0 490.6,1004.6 489.4,1001.0 488.1,1000.1 486.9,997.1 485.7,999.5 484.4,998.1 483.2,996.3 482.0,995.9 480.8,993.9 479.6,992.0 478.4,993.4 477.2,993.9 476.1,991.0 475.0,989.1 473.7,986.4 472.5,986.3 471.2,989.2 470.0,986.9 468.8,985.5 467.6,982.3 466.4,983.5 465.3,982.7 464.1,979.0 463.1,977.3 462.0,978.2 461.0,977.7 460.0,977.5 458.7,975.5 457.4,970.3 456.3,972.4 455.2,971.8 454.2,970.1 453.1,967.0 452.1,968.6 451.1,970.4 450.0,964.6 448.7,964.0 447.4,963.9 446.2,964.2 445.0,964.2 443.6,960.2 442.0,960.2 440.0,963.3 438.9,957.4 438.0,956.0 437.1,959.7 436.2,959.1 435.3,957.4 434.3,958.6 433.1,961.4 431.8,956.4 430.2,959.9 428.2,958.6 425.9,958.9 423.2,959.3 420.0,956.4 419.0,955.7 418.0,959.2 416.9,957.3 415.8,954.3 414.7,959.0 413.6,956.6 412.4,959.1 411.2,955.1 409.9,958.7 408.7,958.4 407.4,957.5 406.1,955.9 404.7,955.9 403.3,956.2 402.0,955.2 400.5,954.6 399.1,956.5 397.6,959.0 396.1,956.9 394.6,952.6 393.1,953.3 391.6,955.3 390.0,955.7 388.4,954.2 386.8,958.1 385.2,956.5 383.6,954.0 381.9,953.7 380.2,959.3 378.5,953.7 376.8,956.1 375.1,955.9 373.4,955.9 371.7,955.0 369.9,957.9 368.1,954.4 366.4,952.5 364.6,957.1 362.8,956.1 361.0,955.8 359.2,961.7 357.3,953.7 355.5,954.9 353.7,956.2 351.8,953.3 350.0,953.1 348.7,953.4 347.4,954.4 346.0,951.1 344.7,956.1 343.3,951.9 341.8,954.3 340.4,953.6 338.9,950.4 337.5,952.1 336.0,951.9 334.5,951.6 332.9,955.9 331.4,953.1 329.8,957.6 328.3,954.3 326.7,951.3 325.1,953.9 323.5,951.9 321.9,950.5 320.2,951.3 318.6,951.5 317.0,952.1 315.3,952.7 313.7,952.0 312.0,952.8 310.3,951.0 308.7,953.9 307.0,950.5 305.3,950.9 303.6,948.8 302.0,952.9 300.3,954.7 298.6,954.9 297.0,952.7 295.3,951.6 293.6,953.3 292.0,950.7 290.3,949.5 288.7,950.4 287.0,955.1 285.4,954.1 283.8,951.6 282.2,955.3 280.6,949.8 279.0,950.4 277.4,950.8 275.9,949.4 274.3,950.0 272.8,950.9 271.3,952.3 269.8,947.9 268.3,950.9 266.9,952.6 265.4,950.9 264.0,952.0 262.6,948.5 261.2,951.0 259.9,948.7 258.6,952.9 257.3,949.8 256.0,950.2 254.7,951.9 253.5,949.4 252.3,955.8 251.1,951.6 250.0,950.9 247.7,953.1 245.5,952.2 243.3,949.7 241.2,949.2 239.1,949.4 237.1,948.4 235.1,949.0 233.2,953.0 231.4,946.0 229.5,950.6 227.8,949.3 226.1,949.3 224.4,950.6 222.8,950.2 221.3,952.1 219.8,949.5 218.3,950.4 216.9,950.1 215.5,953.0 214.2,948.4 212.9,951.2 211.7,947.8 210.5,949.6 209.4,950.9 208.3,950.7 207.3,947.3 206.3,951.4 205.3,954.0 204.4,951.9 203.6,951.3 202.8,950.5 202.0,948.7" stroke="#f00"/>
<polyline points="202.0,942.6 202.8,941.0 203.7,941.5 204.7,943.2 205.7,938.5 206.8,946.9 208.0,942.6 209.3,943.6 210.6,942.2 212.0,943.4 213.4,941.1 214.9,942.7 216.5,942.4 218.1,941.8 219.7,939.6 221.4,942.4 223.1,940.1 224.9,940.2 226.7,939.9 228.5,941.0 230.4,936.3 232.3,940.1 234.2,938.5 236.1,935.8 238.0,939.7 240.0,938.7 241.2,936.9 242.5,934.8 243.7,935.6 244.9,935.0 246.2,939.0 247.4,934.1 248.7,936.8 250.0,931.1 251.2,935.5 252.5,937.3 253.8,934.4 255.1,931.4 256.4,933.6 257.8,934.8 259.1,933.4 260.5,933.1 261.9,933.5 263.3,933.1 264.7,931.1 266.1,933.5 267.6,934.2 269.1,933.9 270.5,930.6 272.1,932.1 273.6,934.8 275.2,929.5 276.8,932.6 278.4,930.5 280.0,932.9 281.7,931.3 283.4,932.9 285.1,932.5 286.8,930.4 288.6,931.3 290.4,929.8 292.3,931.8 294.2,929.7 296.1,927.7 298.0,928.8 300.0,932.1 301.2,930.6 302.4,929.7 303.6,928.1 304.8,926.5 306.0,929.7 307.2,929.5 308.4,926.4 309.6,928.9 310.8,930.9 312.0,929.1 313.2,928.8 314.4,929.6 315.6,929.5 316.8,930.1 318.0,927.9 319.2,928.9 320.5,926.0 321.7,926.1 322.9,928.4 324.2,928.0 325.4,927.0 326.7,926.5 327.9,930.3 329.2,928.6 330.5,925.9 331.8,924.8 333.1,930.6 334.4,927.4 335.8,924.5 337.1,926.0 338.5,928.9 339.9,930.5 341.2,931.3 342.7,929.5 344.1,927.6 345.5,927.3 347.0,929.1 348.5,930.4 350.0,928.3 351.5,927.3 353.0,927.3 354.6,930.2 356.2,928.0 357.8,932.0 359.4,927.6 361.1,923.8 362.7,926.5 364.4,926.1 366.2,927.8 367.9,930.3 369.7,926.4 371.5,929.1 373.3,931.5 375.2,929.5 377.1,929.3 379.0,929.8 381.0,930.1 382.9,927.2 385.0,929.1 387.0,927.1 389.1,926.4 391.2,928.4 393.3,927.3 395.5,929.6 397.7,924.7 400.0,929.2 401.1,928.8 402.3,927.8 403.4,926.9 404.6,926.0 405.8,927.5 407.0,928.2 408.2,926.9 409.4,929.1 410.6,926.3 411.8,929.7 413.1,926.9 414.3,929.0 415.6,927.1 416.8,932.8 418.1,924.0 419.4,930.9 420.7,929.2 422.0,930.1 423.3,925.1 424.6,926.8 426.0,924.1 427.3,927.4 428.7,927.3 430.0,927.4 431.4,926.7 432.8,925.4 434.2,927.8 435.5,930.6 436.9,928.4 438.3,926.4 439.8,928.5 441.2,928.8 442.6,926.0 444.0,926.6 445.5,929.4 446.9,928.5 448.4,925.3 449.9,926.9 451.3,925.6 452.8,930.1 454.3,926.9 455.8,926.3 457.3,925.2 458.8,930.9 460.3,927.9 461.8,929.4 463.3,926.7 464.8,929.7 466.3,927.7 467.9,926.6 469.4,927.7 470.9,928.0 472.5,929.0 474.0,929.0 475.6,923.0 477.2,927.7 478.7,925.2 480.3,928.0 481.9,928.6 483.4,927.5 485.0,926.8 486.6,928.6 488.2,927.7 489.8,925.5 491.4,928.7 493.0,929.0 494.5,927.9 496.1,928.2 497.8,926.6 499.4,926.7 501.0,927.3 502.6,925.3 504.2,929.7 505.8,928.2 507.4,930.1 509.0,926.4 510.7,929.5 512.3,923.5 513.9,926.8 515.5,929.2 517.1,927.0 518.8,925.3 520.4,928.9 522.0,926.7 523.7,927.9 525.3,927.2 526.9,926.7 528.5,927.2 530.2,922.5 531.8,923.3 533.4,931.9 535.1,924.8 536.7,927.0 538.3,928.1 539.9,930.7 541.6,928.7 543.2,927.6 544.8,927.0 546.4,924.7 548.1,923.1 549.7,926.2 551.3,926.7 552.9,930.1 554.5,927.6 556.1,926.2 557.8,925.4 559.4,928.3 561.0,926.6 562.6,929.6 564.2,930.6 565.8,928.4 567.4,927.3 569.0,927.8 570.6,929.1 572.1,925.3 573.7,926.8 575.3,926.1 576.9,926.1 578.5,929.8 580.0,926.3 581.6,927.3 583.1,929.0 584.7,926.3 586.3,929.0 587.8,926.1 589.3,927.7 590.9,925.9 592.4,926.6 593.9,929.7 595.5,926.4 597.0,926.9 598.5,928.9 600.0,927.0 601.5,927.5 603.0,924.3 604.5,928.4 606.0,930.3 607.6,928.2 609.1,926.4 610.6,927.5 612.1,922.5 613.7,926.7 615.2,924.4 616.8,927.5 618.3,928.6 619.9,926.2 621.4,925.7 623.0,927.3 624.5,923.8 626.1,926.0 627.6,925.3 629.2,925.6 630.7,931.0 632.3,926.6 633.9,924.9 635.5,923.0 637.0,927.3 638.6,924.6 640.2,928.0 641.8,930.5 643.3,926.7 644.9,925.7 646.5,924.7 648.1,924.6 649.7,928.4 651.2,926.5 652.8,924.9 654.4,924.5 656.0,925.9 657.6,929.8 659.2,925.4 660.8,924.7 662.4,926.7 664.0,922.1 665.5,924.2 667.1,927.5 668.7,926.8 670.3,926.5 671.9,928.6 673.5,922.3 675.1,926.9 676.7,925.5 678.3,925.4 679.9,924.2 681.5,926.7 683.0,929.6 684.6,926.5 686.2,926.3 687.8,925.2 689.4,926.6 691.0,923.8 692.6,927.3 694.1,921.7 695.7,925.4 697.3,924.7 698.9,925.9 700.4,925.4 702.0,925.6 703.6,925.1 705.2,924.8 706.7,923.7 708.3,925.8 709.9,926.5 711.4,925.2 713.0,925.3 714.5,927.2 716.1,923.8 717.6,925.4 719.2,929.7 720.7,925.1 722.3,928.1 723.8,924.6 725.3,926.2 726.9,923.3 728.4,925.8 729.9,926.5 731.5,926.6 733.0,928.3 734.5,925.2 736.0,925.0 737.5,925.2 739.0,926.1 740.5,923.8 742.0,925.1 743.5,923.6 745.0,925.6 746.5,923.7 748.0,926.5 749.4,925.5 750.9,924.6 752.4,925.4 753.8,922.9 755.3,925.5 756.7,924.2 758.2,924.3 759.6,929.1 761.1,926.6 762.5,924.8 763.9,924.0 765.3,926.3 766.7,923.1 768.2,929.0 769.6,923.2 770.9,925.1 772.3,927.2 773.7,923.6 775.1,927.5 776.5,924.1 777.8,924.4 779.2,925.3 780.6,922.8 781.9,925.0 783.2,922.4 784.6,922.6 785.9,923.4 787.2,926.7 788.5,926.9 789.8,921.0 791.1,925.5 792.4,923.6 793.7,926.1 795.0,922.4 796.2,923.9 797.5,926.9 798.8,925.7 800.0,921.6 801.9,924.9 803.8,926.9 805.7,924.2 807.6,923.8 809.5,925.0 811.4,921.5 813.2,920.7 815.1,922.4 816.9,924.0 818.8,925.9 820.6,927.0 822.4,924.1 824.2,926.4 826.0,924.5 827.8,923.0 829.6,927.5 831.4,925.4 833.2,924.2 834.9,922.8 836.7,921.1 838.4,925.8 840.2,925.6 841.9,925.9 843.6,924.6 845.3,921.7 847.0,922.7 848.7,923.7 850.4,926.7 852.0,922.4 853.7,923.5 855.3,920.8 857.0,923.9 858.6,924.4 860.2,922.1 861.8,924.4 863.4,922.0 865.0,922.6 866.6,924.1 868.2,923.2 869.8,923.8 871.3,924.7 872.8,922.3 874.4,921.4 875.9,926.4 877.4,922.9 878.9,921.8 880.4,925.2 881.9,921.7 883.3,924.4 884.8,922.4 886.3,924.4 887.7,919.2 889.1,920.9 890.5,925.2 891.9,925.8 893.3,922.9 894.7,923.3 896.1,922.4 897.5,925.8 898.8,925.5 900.2,923.3 901.5,922.1 902.8,923.4 904.1,922.1 905.4,925.6 906.7,919.7 908.0,921.5 909.2,922.7 910.5,923.2 911.7,919.3 913.0,924.1 914.2,924.6 915.4,921.0 916.6,920.4 917.8,926.1 918.9,923.1 920.1,920.4 921.2,920.3 922.4,924.0 923.5,924.0 924.6,919.9 925.7,919.9 926.8,918.9 927.9,924.8 928.9,918.6 930.0,921.7 932.7,923.2 935.2,922.2 937.6,922.7 939.9,923.7 942.1,919.3 944.2,921.5 946.2,920.6 948.1,921.0 949.9,922.7 951.7,923.5 953.3,922.9 954.9,921.6 956.4,922.6 957.9,923.6 959.3,922.9 960.6,924.3 961.9,920.6 963.1,921.4 964.3,918.4 965.5,921.6 966.7,919.9 967.8,920.3 968.9,921.7 970.0,920.5 971.1,922.1 972.1,920.9 973.2,922.2 974.3,919.0 975.4,919.4 976.5,918.8 977.6,919.0 978.8,921.6 980.0,920.9 982.0,922.1 983.8,918.0 985.6,923.6 987.3,919.6 988.9,918.0 990.5,919.9 992.0,918.5 993.4,920.4 994.9,917.6 996.2,919.4 997.6,916.2 999.0,916.4 1000.3,918.4 1001.6,915.4 1003.0,916.4 1004.3,918.5 1005.7,918.2 1007.1,913.1 1008.5,916.7 1010.0,916.6 1011.5,916.7 1013.0,917.0 1014.6,916.0 1016.2,913.3 1017.7,915.3 1019.3,917.6 1020.9,915.9 1022.5,916.0 1024.1,913.9 1025.6,913.0 1027.2,914.3 1028.7,910.1 1030.2,912.8 1031.7,912.1 1033.2,911.5 1034.6,912.7 1036.0,911.6 1037.4,912.4 1038.7,909.7 1040.0,908.9 1041.9,909.4 1043.7,909.6 1045.4,905.0 1047.0,908.0 1048.6,907.8 1050.1,906.3 1051.5,904.3 1053.0,905.3 1054.4,902.6 1055.8,903.1 1057.2,903.5 1058.6,899.9 1060.0,902.3 1061.5,904.2 1063.1,902.9 1064.6,900.8 1066.0,900.5 1067.5,899.6 1068.9,900.3 1070.4,897.1 1071.7,895.3 1073.1,895.8 1074.4,895.0 1075.7,896.7 1077.0,891.8 1078.5,894.0 1079.9,892.8 1081.3,893.8 1082.6,894.9 1083.9,891.6 1085.2,892.5 1086.4,890.7 1087.7,887.8 1088.8,886.1 1090.0,887.6 1091.4,884.5 1092.7,884.7 1093.9,885.6 1095.1,887.9 1096.3,879.7 1097.5,884.9 1098.7,880.1 1100.0,880.4 1101.2,879.5 1102.5,879.8 1103.8,878.8 1105.1,875.6 1106.4,875.9 1107.7,874.6 1108.9,870.2 1110.0,872.4 1111.0,871.0 1112.1,869.8 1113.1,868.3 1114.0,866.8 1114.8,861.0 1115.5,862.8 1116.2,862.0 1117.0,860.7 1117.8,860.0 1118.6,859.5 1119.2,861.9 1120.0,853.3 1120.9,850.5 1122.0,851.7 1122.3,849.4 1122.6,850.7 1122.9,848.2 1123.2,849.1 1123.5,846.4 1123.8,848.0 1124.2,843.9 1124.5,839.2 1124.9,839.7 1125.2,838.0 1125.6,836.7 1126.0,838.7 1126.4,833.3 1126.8,835.1 1127.1,832.7 1127.5,832.5 1127.9,830.2 1128.3,824.8 1128.7,824.8 1129.1,825.0 1129.5,821.1 1129.8,821.5 1130.2,818.5 1130.6,815.7 1130.9,813.6 1131.3,812.0 1131.7,808.1 1132.0,808.3 1132.2,806.6 1132.5,806.9 1132.7,803.7 1132.9,802.7 1133.2,799.4 1133.4,799.5 1133.6,798.1 1133.9,799.5 1134.1,794.0 1134.3,793.3 1134.6,792.3 1134.8,792.2 1135.1,789.9 1135.3,786.7 1135.5,785.9 1135.8,784.1 1136.0,783.6 1136.2,780.1 1136.5,778.4 1136.7,775.6 1136.9,773.8 1137.2,771.9 1137.4,771.6 1137.6,772.0 1137.8,770.9 1138.1,765.4 1138.3,767.7 1138.5,766.4 1138.7,762.1 1138.9,760.8 1139.1,755.8 1139.3,756.9 1139.5,755.1 1139.7,754.1 1139.9,752.9 1140.0,752.1 1140.2,751.7 1140.4,750.3 1140.5,746.7 1140.7,747.3 1140.9,744.8 1141.0,747.4 1141.8,743.2 1142.4,746.5 1142.8,741.8 1143.1,743.0 1143.5,739.9 1144.0,736.4 1144.1,736.8 1144.2,735.0 1144.4,733.9 1144.5,732.2 1144.6,727.8 1144.8,730.8 1144.9,728.1 1145.0,726.8 1145.2,727.2 1145.3,724.2 1145.5,724.1 1145.6,723.6 1145.8,718.9 1145.9,717.0 1146.1,714.5 1146.2,714.5 1146.4,713.8 1146.6,713.5 1146.7,710.7 1146.9,712.0 1147.0,705.9 1147.2,703.9 1147.3,701.6 1147.5,701.7 1147.6,697.4 1147.8,691.9 1147.9,695.7 1148.1,697.2 1148.2,692.5 1148.3,693.3 1148.4,687.8 1148.6,688.2 1148.7,684.7 1148.8,685.3 1148.9,681.0 1149.0,681.9 1149.1,682.1 1149.3,678.5 1149.4,674.2 1149.5,675.1 1149.6,675.7 1149.7,671.6 1149.8,670.7 1149.9,672.0 1150.0,668.6 1150.1,665.6 1150.2,663.9 1150.2,665.8 1150.3,662.7 1150.4,661.3 1150.4,657.9 1150.5,658.7 1150.6,654.2 1150.6,654.4 1150.7,654.7 1150.8,654.7 1150.8,647.6 1150.9,649.2 1151.0,651.5 1151.1,648.4 1151.2,642.2 1151.3,644.4 1151.4,637.4 1151.5,639.4 1151.6,641.5 1151.7,637.6 1151.8,636.7 1151.8,635.7 1151.9,635.2 1152.0,633.5 1152.1,631.8 1152.3,628.4 1152.4,630.1 1152.5,628.5 1152.7,625.3 1152.8,623.0 1153.0,616.2 1153.1,621.2 1153.2,616.7 1153.3,618.5 1153.3,615.1 1153.4,614.1 1153.5,612.7 1153.6,612.7 1153.7,610.5 1153.8,610.6 1153.9,606.1 1154.0,607.5 1154.2,604.0 1154.3,604.0 1154.4,602.5 1154.5,601.2 1154.6,600.6 1154.7,596.1 1154.8,596.9 1154.9,596.8 1155.1,597.1 1155.2,592.2 1155.3,591.6 1155.4,587.2 1155.5,586.7 1155.7,586.1 1155.8,584.5 1155.9,581.4 1156.0,577.0 1156.2,580.1 1156.3,577.9 1156.4,575.3 1156.5,573.0 1156.7,575.0 1156.8,570.5 1156.9,567.2 1157.0,565.3 1157.1,564.4 1157.3,566.5 1157.4,559.3 1157.5,562.5 1157.6,557.4 1157.7,555.7 1157.8,553.7 1157.8,556.1 1157.9,555.4 1158.0,549.9 1158.1,550.6 1158.2,548.7 1158.3,549.2 1158.4,542.8 1158.5,546.4 1158.6,545.3 1158.7,541.8 1158.7,537.2 1158.8,538.0 1158.9,534.7 1159.0,541.6 1159.1,533.4 1159.2,532.6 1159.3,529.9 1159.4,531.8 1159.5,529.8 1159.6,526.2 1159.7,523.5 1159.8,524.7 1159.9,522.1 1160.0,520.5 1160.0,519.0 1160.1,516.5 1160.2,515.4 1160.3,510.6 1160.4,512.6 1160.5,510.7 1160.6,509.0 1160.7,507.7 1160.8,507.2 1160.9,505.5 1161.0,501.3 1161.1,501.8 1161.2,501.1 1161.3,499.8 1161.3,496.0 1161.4,493.6 1161.5,493.0 1161.6,490.6 1161.7,491.2 1161.8,486.2 1161.9,485.8 1162.0,486.2 1162.1,484.0 1162.2,484.1 1162.2,483.6 1162.3,480.2 1162.4,478.2 1162.5,475.1 1162.6,471.1 1162.7,474.2 1162.8,471.9 1162.9,472.6 1163.0,471.4 1163.1,465.5 1163.1,467.0 1163.2,466.0 1163.3,461.6 1163.4,460.8 1163.5,460.4 1163.6,455.0 1163.7,459.0 1163.8,455.7 1163.9,455.7 1164.0,452.0 1164.1,453.0 1164.1,449.0 1164.2,447.8 1164.3,446.1 1164.4,444.1 1164.5,442.1 1164.6,440.9 1164.7,440.1 1164.8,437.0 1164.9,436.0 1164.9,432.6 1165.0,435.0 1165.1,429.3 1165.2,429.7 1165.3,429.5 1165.4,426.5 1165.5,425.8 1165.6,425.7 1165.6,423.8 1165.7,419.2 1165.8,420.4 1165.9,419.9 1166.0,418.8 1166.1,416.9 1166.2,414.3 1166.2,414.6 1166.3,408.6 1166.4,409.4 1166.5,406.5 1166.6,406.7 1166.7,405.2 1166.7,407.0 1166.8,403.4 1166.9,402.5 1167.0,397.7 1167.1,404.2 1167.2,398.4 1167.3,398.0 1167.4,396.4 1167.5,388.9 1167.6,392.7 1167.7,387.4 1167.8,387.5 1167.9,386.0 1168.0,383.8 1168.1,378.9 1168.2,378.7 1168.3,378.3 1168.4,378.0 1168.5,374.0 1168.6,369.8 1168.7,370.6 1168.8,367.9 1168.9,369.8 1169.0,365.1 1169.1,367.9 1169.2,364.4 1169.3,362.2 1169.4,356.6 1169.5,361.6 1169.6,360.2 1169.7,356.4 1169.8,355.7 1169.9,354.2 1170.0,354.4 1170.0,349.4 1170.1,352.1 1170.2,351.3 1170.3,347.9 1170.4,345.7 1170.5,343.7 1170.5,342.1 1170.6,339.1 1170.7,339.0 1170.8,338.3 1170.9,335.5 1170.9,334.1 1171.0,334.7 1171.1,333.6 1171.2,333.5 1171.4,327.1 1171.5,329.0 1171.6,322.3 1171.7,321.9 1171.8,321.8 1171.8,318.3 1171.9,319.8 1172.0,313.8 1172.1,314.2 1172.2,312.5 1172.2,316.4 1172.3,313.4 1172.4,309.2 1172.5,307.4 1172.5,309.2 1172.6,304.6 1172.7,304.7 1172.8,304.9 1172.8,303.6 1172.9,301.0 1173.0,299.2 1173.2,300.1 1173.4,294.8 1173.6,294.8 1173.8,292.2 1174.0,290.8 1174.2,292.8 1174.4,289.2 1174.6,288.0 1174.8,282.8 1175.0,285.8 1175.2,284.1 1175.3,282.3 1175.4,281.6 1175.6,280.6 1175.7,278.1 1175.9,275.4 1176.0,277.1 1176.2,274.1 1176.3,272.7 1176.5,270.3 1176.6,267.8 1176.8,268.0 1177.0,266.4 1177.2,263.8 1177.5,260.1 1177.7,260.0 1178.0,261.4 1178.2,255.8 1178.5,256.9 1178.8,252.1 1179.2,252.2 1179.6,249.2 1180.0,251.2 1180.7,253.4 1181.5,245.1 1182.3,244.7 1183.2,244.3 1184.1,241.6 1185.1,240.0 1186.0,237.1 1187.7,241.0 1189.4,242.5 1191.2,242.6 1193.0,242.2 1194.4,238.5 1195.9,244.4 1197.3,242.7 1198.7,244.2 1200.0,247.3 1200.8,245.5 1201.6,245.0 1202.3,241.3 1203.0,243.9 1203.7,240.3 1204.4,235.7 1205.0,236.3 1205.4,235.3 1205.8,228.0 1206.2,233.7 1206.6,231.9 1206.9,231.0 1207.3,230.6 1207.7,228.4 1208.1,223.3 1208.5,222.2 1209.0,223.0 1209.2,220.2 1209.5,220.0 1209.8,215.4 1210.1,217.5 1210.4,211.9 1210.7,213.2 1211.0,211.1 1211.3,210.3 1211.6,205.9 1211.9,207.6 1212.2,202.2 1212.5,208.1 1212.8,199.0 1213.1,200.3 1213.4,196.8 1213.7,193.9 1214.0,194.5 1214.3,195.6 1214.5,191.1 1214.8,187.7 1215.0,188.5 1215.3,184.5 1215.6,186.9 1215.8,186.6 1216.0,182.4 1216.3,181.3 1216.4,177.1 1216.6,174.3 1216.8,175.4 1217.0,176.7 1217.2,172.5 1217.3,174.0 1217.5,171.2 1217.8,169.4 1218.0,166.9 1218.2,166.2 1218.4,163.3 1218.6,163.7 1218.8,164.0 1219.0,163.1 1219.2,160.3 1219.5,155.6 1219.7,152.2 1219.9,154.4 1220.1,149.9 1220.4,152.1 1220.6,150.8 1220.9,147.7 1221.1,149.5 1221.4,141.9 1221.7,142.8 1222.0,140.4 1222.5,137.7 1223.0,137.1 1223.6,135.2 1224.2,134.8 1224.8,134.1 1225.4,129.4 1226.0,128.0 1226.6,128.7 1227.3,129.0 1227.8,125.9 1228.4,123.4 1229.3,121.6 1230.1,128.5 1231.0,127.3 1231.8,131.4 1232.6,131.1 1233.3,131.7 1234.0,133.0 1234.3,140.6 1234.5,136.0 1234.8,140.5 1235.0,140.9 1235.2,142.4 1235.4,144.9 1235.6,146.4 1235.8,149.1 1236.0,146.1 1236.1,149.7 1236.3,149.3 1236.5,152.8 1236.6,152.4 1236.7,156.1 1236.9,158.4 1237.0,159.8 1237.1,159.7 1237.1,160.8 1237.2,162.5 1237.3,165.6 1237.3,167.4 1237.4,169.8 1237.4,171.8 1237.5,171.4 1237.5,174.2 1237.6,174.4 1237.6,179.1 1237.6,176.4 1237.7,184.5 1237.7,177.8 1237.7,181.5 1237.7,185.9 1237.8,185.8 1237.8,185.4 1237.8,192.9 1237.8,192.2 1237.9,190.6 1237.9,194.1 1237.9,197.8 1237.9,197.4 1238.0,199.3 1238.0,198.1 1238.0,202.4 1238.1,204.0 1238.1,205.2 1238.2,208.4 1238.2,208.5 1238.2,209.8 1238.2,209.0 1238.3,210.3 1238.3,210.1 1238.3,213.2 1238.4,218.9 1238.4,214.7 1238.5,218.1 1238.5,220.5 1238.5,225.6 1238.6,221.9 1238.6,227.8 1238.6,222.7 1238.7,225.8 1238.7,228.7 1238.7,234.2 1238.8,233.2 1238.8,232.5 1238.8,234.2 1238.9,233.3 1238.9,235.7 1239.0,239.0 1239.0,239.1 1239.1,241.5 1239.1,243.7 1239.2,245.7 1239.2,250.3 1239.3,254.0 1239.4,247.0 1239.4,252.9 1239.5,252.5 1239.6,254.9 1239.6,254.5 1239.7,260.8 1239.8,257.6 1239.8,262.5 1239.9,260.8 1240.0,265.6 1240.1,265.8 1240.1,265.8 1240.2,269.3 1240.3,271.6 1240.4,271.2 1240.5,275.5 1240.6,277.1 1240.6,276.9 1240.7,282.3 1240.8,279.4 1240.9,282.9 1241.0,285.3 1241.1,282.3 1241.2,290.4 1241.3,286.7 1241.4,290.0 1241.4,289.2 1241.5,291.0 1241.6,296.6 1241.7,297.1 1241.8,298.6 1241.8,297.6 1241.9,303.4 1242.0,303.0 1242.1,304.5 1242.2,303.4 1242.3,304.3 1242.4,309.4 1242.5,311.3 1242.6,309.4 1242.6,305.7 1242.7,308.8 1242.8,313.5 1242.9,311.1 1243.0,312.7 1243.1,313.4 1243.2,312.2 1243.3,314.1 1243.4,321.7 1243.6,322.5 1243.8,325.3 1244.0,334.6 1244.0,328.4 1244.1,332.8 1244.1,334.4 1244.2,335.0 1244.2,332.4 1244.3,339.7 1244.3,336.1 1244.4,339.8 1244.4,338.1 1244.5,341.5 1244.5,338.2 1244.6,343.8 1244.6,344.7 1244.7,345.7 1244.7,342.7 1244.8,349.8 1244.8,351.2 1244.9,352.7 1244.9,352.5 1245.0,352.0 1245.1,358.3 1245.1,355.8 1245.2,359.4 1245.2,360.2 1245.3,357.2 1245.4,362.1 1245.4,361.9 1245.5,365.3 1245.5,368.0 1245.6,371.5 1245.7,366.6 1245.7,369.5 1245.8,371.0 1245.9,371.9 1245.9,376.4 1246.0,376.7 1246.1,380.5 1246.1,381.9 1246.2,378.4 1246.3,385.1 1246.3,386.8 1246.4,389.0 1246.5,391.7 1246.5,392.2 1246.6,390.0 1246.7,394.0 1246.7,395.7 1246.8,397.0 1246.9,400.7 1246.9,401.3 1247.0,405.5 1247.1,403.3 1247.2,408.4 1247.2,408.6 1247.3,411.0 1247.4,412.8 1247.4,413.6 1247.5,416.7 1247.6,419.9 1247.6,413.5 1247.7,420.8 1247.8,421.7 1247.8,423.9 1247.9,425.1 1248.0,427.8 1248.0,425.9 1248.1,432.2 1248.2,431.1 1248.2,435.7 1248.3,435.5 1248.4,438.4 1248.4,440.9 1248.5,439.2 1248.6,443.1 1248.6,441.0 1248.7,445.0 1248.8,448.3 1248.8,451.4 1248.9,449.0 1249.0,449.9 1249.0,456.4 1249.1,457.8 1249.2,456.3 1249.2,458.0 1249.3,462.3 1249.3,459.7 1249.4,465.5 1249.5,463.9 1249.5,466.8 1249.6,468.7 1249.6,469.8 1249.7,471.1 1249.7,468.9 1249.8,471.9 1249.8,473.7 1249.9,475.4 1249.9,476.3 1250.0,477.7 1250.1,479.7 1250.2,481.4 1250.3,486.3 1250.4,487.0 1250.4,489.2 1250.5,487.9 1250.6,493.3 1250.7,491.3 1250.8,495.7 1250.8,495.9 1250.9,502.6 1251.0,499.0 1251.1,503.4 1251.2,505.5 1251.2,504.0 1251.3,505.1 1251.4,510.3 1251.5,508.8 1251.5,511.7 1251.6,515.1 1251.7,514.7 1251.7,516.6 1251.8,517.6 1251.9,519.8 1252.0,521.9 1252.0,522.7 1252.1,522.0 1252.2,524.0 1252.2,524.2 1252.3,526.5 1252.4,529.9 1252.4,530.1 1252.5,533.4 1252.6,532.2 1252.6,532.3 1252.7,534.5 1252.8,537.6 1252.8,537.3 1252.9,538.9 1253.0,539.0 1253.0,537.5 1253.1,539.3 1253.2,544.5 1253.2,545.4 1253.3,547.8 1253.4,550.2 1253.4,547.6 1253.5,548.9 1253.6,553.0 1253.6,552.8 1253.7,554.0 1253.8,554.1 1253.9,556.9 1253.9,558.4 1254.0,557.1 1254.1,563.7 1254.2,560.6 1254.3,566.9 1254.4,567.5 1254.5,569.5 1254.6,571.2 1254.7,569.5 1254.8,574.2 1254.9,576.1 1255.0,577.4 1255.1,577.3 1255.2,579.9 1255.3,576.9 1255.4,582.2 1255.5,583.3 1255.6,589.4 1255.8,586.9 1255.9,587.0 1256.0,589.7 1256.1,592.6 1256.2,593.4 1256.3,595.2 1256.4,593.8 1256.5,597.7 1256.6,598.3 1256.7,596.8 1256.8,600.0 1256.9,602.3 1257.0,607.5 1257.1,609.0 1257.2,606.6 1257.3,608.7 1257.4,607.2 1257.5,611.0 1257.5,611.8 1257.6,613.9 1257.7,613.2 1257.8,618.3 1257.9,621.0 1258.0,621.7 1258.1,620.5 1258.2,625.7 1258.2,626.4 1258.3,626.3 1258.4,628.4 1258.5,629.2 1258.5,628.8 1258.6,633.5 1258.7,635.6 1258.7,636.5 1258.8,635.8 1258.9,641.3 1258.9,637.6 1259.0,640.4 1259.1,644.2 1259.1,641.8 1259.2,645.8 1259.3,644.0 1259.3,650.3 1259.4,647.6 1259.4,650.1 1259.5,651.9 1259.6,653.9 1259.6,655.9 1259.7,659.7 1259.8,657.7 1259.8,658.6 1259.9,661.3 1260.0,666.1 1260.0,662.8 1260.1,665.4 1260.2,666.9 1260.2,669.6 1260.3,667.1 1260.4,672.4 1260.5,672.4 1260.6,674.2 1260.6,678.7 1260.7,677.1 1260.8,681.4 1260.9,676.3 1261.0,683.1 1261.1,683.5 1261.2,685.1 1261.3,688.0 1261.4,687.3 1261.5,689.5 1261.6,692.8 1261.7,692.6 1261.8,692.8 1261.8,694.7 1261.9,700.3 1262.0,702.6 1262.1,702.5 1262.2,704.0 1262.3,704.0 1262.4,704.6 1262.5,710.6 1262.6,706.9 1262.7,710.8 1262.8,710.1 1263.0,715.8 1263.1,714.0 1263.2,715.0 1263.3,718.6 1263.4,719.9 1263.5,721.6 1263.6,724.9 1263.8,724.1 1263.9,723.9 1264.0,724.9 1264.1,726.6 1264.3,730.2 1264.4,729.1 1264.6,735.2 1264.7,734.9 1264.9,732.5 1265.0,737.3 1265.2,739.8 1265.3,737.7 1265.5,741.5 1265.7,742.3 1265.8,746.4 1266.0,745.7 1266.2,751.6 1266.4,749.2 1266.6,750.9 1266.8,754.2 1267.0,752.2 1267.2,755.9 1267.4,754.9 1267.6,759.9 1267.8,762.5 1268.1,763.4 1268.3,764.8 1268.6,765.5 1268.8,766.4 1269.0,770.5 1269.3,770.3 1269.5,773.1 1269.8,771.2 1270.0,777.8 1270.3,778.0 1270.6,779.1 1270.8,780.9 1271.1,778.4 1271.3,785.0 1271.6,782.9 1271.9,785.4 1272.1,790.2 1272.4,788.9 1272.6,788.2 1272.9,794.7 1273.1,792.6 1273.4,797.8 1273.6,796.5 1273.9,799.3 1274.1,796.7 1274.4,802.7 1274.6,803.3 1274.9,807.0 1275.1,804.6 1275.3,806.8 1275.6,806.5 1275.8,809.5 1276.0,809.6 1276.6,812.9 1277.2,812.0 1277.8,816.0 1278.4,820.3 1279.0,818.7 1279.6,821.3 1280.1,823.0 1280.7,822.6 1281.2,823.1 1281.8,825.9 1282.3,826.5 1282.9,826.1 1283.4,828.7 1284.0,829.6 1284.5,831.8 1285.0,832.2 1285.5,834.1 1286.0,836.7 1286.4,838.2 1286.9,836.3 1287.4,837.8 1287.9,842.4 1288.4,844.5 1288.9,844.5 1289.4,849.3 1289.9,847.6 1290.4,851.7 1290.9,849.8 1291.4,850.8 1292.0,852.3 1292.7,855.2 1293.4,857.9 1294.1,857.7 1294.8,855.7 1295.6,860.0 1296.3,861.8 1297.1,864.2 1297.8,864.0 1298.6,865.0 1299.4,868.2 1300.3,866.2 1301.1,870.5 1302.0,869.7 1303.0,870.0 1304.0,873.8 1305.1,876.7 1306.2,874.4 1307.3,876.6 1308.4,877.8 1309.6,877.6 1310.7,880.0 1311.8,879.6 1312.9,882.1 1314.0,879.4 1315.0,881.5 1316.3,882.5 1317.5,885.1 1318.7,887.1 1319.9,886.6 1321.0,885.8 1322.2,889.5 1323.4,889.1 1324.7,893.3 1326.0,889.5 1327.3,892.8 1328.7,893.1 1330.1,891.6 1331.6,894.6 1333.1,892.7 1334.6,891.1 1336.1,896.5 1337.5,898.9 1338.8,900.3 1340.0,897.0 1341.5,899.5 1342.6,898.4 1343.4,899.7 1344.6,900.3 1346.3,902.5 1349.0,906.2 1350.0,903.7 1351.0,901.5 1352.1,902.9 1353.2,906.4 1354.3,903.5 1355.5,902.3 1356.7,903.3 1357.9,905.3 1359.3,903.2 1360.7,906.6 1362.2,905.2 1363.7,907.0 1365.4,902.8 1367.1,904.0 1369.0,907.8 1371.0,905.3 1373.0,905.9 1375.2,905.7 1377.5,908.7 1380.0,910.7 1381.1,906.0 1382.2,907.2 1383.3,909.7 1384.4,906.5 1385.5,909.1 1386.6,909.3 1387.7,910.4 1388.9,904.4 1390.0,910.3 1391.1,907.1 1392.3,910.1 1393.5,909.5 1394.7,908.9 1395.9,906.6 1397.1,905.2 1398.3,907.1 1399.6,906.8 1400.8,911.2 1402.1,910.9 1403.5,907.4 1404.8,910.4 1406.2,909.3 1407.6,908.8 1409.0,909.8 1410.4,910.5 1411.9,907.3 1413.4,909.0 1415.0,908.3 1416.6,907.5 1418.2,909.5 1419.9,906.9 1421.5,911.6 1423.3,911.2 1425.1,909.4 1426.9,906.1 1428.7,912.7 1430.6,906.9 1432.6,909.8 1434.6,908.2 1436.6,906.8 1438.7,908.6 1440.9,910.1 1443.1,907.6 1445.3,908.4 1447.6,911.7 1450.0,909.3 1451.1,911.3 1452.2,908.6 1453.3,911.1 1454.5,908.6 1455.6,908.8 1456.8,908.9 1458.0,909.0 1459.1,908.8 1460.3,907.3 1461.5,906.1 1462.7,905.1 1464.0,911.5 1465.2,907.6 1466.4,908.2 1467.7,908.5 1468.9,907.7 1470.2,905.3 1471.5,910.7 1472.8,911.0 1474.1,909.1 1475.4,909.1 1476.7,909.8 1478.0,908.2 1479.4,906.5 1480.7,906.0 1482.1,913.9 1483.4,910.4 1484.8,913.8 1486.2,909.6 1487.5,911.3 1488.9,909.8 1490.3,911.6 1491.8,907.3 1493.2,911.0 1494.6,904.5 1496.0,908.9 1497.5,909.4 1498.9,910.4 1500.4,909.3 1501.8,907.2 1503.3,910.6 1504.8,913.6 1506.3,908.5 1507.8,910.7 1509.3,911.0 1510.8,909.3 1512.3,909.4 1513.8,908.0 1515.3,911.0 1516.9,908.1 1518.4,909.6 1520.0,911.0 1521.5,911.9 1523.1,910.1 1524.6,909.6 1526.2,910.0 1527.8,911.2 1529.4,906.0 1531.0,915.1 1532.6,913.0 1534.2,907.9 1535.8,907.5 1537.4,910.9 1539.0,912.5 1540.6,909.7 1542.2,907.9 1543.9,909.5 1545.5,910.3 1547.2,906.7 1548.8,911.9 1550.5,909.6 1552.1,913.9 1553.8,912.8 1555.4,910.1 1557.1,911.3 1558.8,907.6 1560.5,911.9 1562.1,912.5 1563.8,911.4 1565.5,909.6 1567.2,910.8 1568.9,908.7 1570.6,911.8 1572.3,909.8 1574.0,906.9 1575.7,910.0 1577.5,909.8 1579.2,912.6 1580.9,913.0 1582.6,912.5 1584.3,911.0 1586.1,909.6 1587.8,911.6 1589.5,910.9 1591.3,910.1 1593.0,909.9 1594.8,908.9 1596.5,910.0 1598.3,912.9 1600.0,911.1 1601.3,908.1 1602.7,909.8 1604.0,911.6 1605.4,911.7 1606.7,912.1 1608.1,912.9 1609.5,908.9 1610.9,913.7 1612.3,910.9 1613.7,910.4 1615.1,909.6 1616.6,912.5 1618.0,910.1 1619.4,909.5 1620.9,910.6 1622.4,912.3 1623.9,910.1 1625.3,914.2 1626.8,908.5 1628.3,913.2 1629.8,913.1 1631.4,911.8 1632.9,912.8 1634.4,910.1 1635.9,911.5 1637.5,911.4 1639.0,915.7 1640.6,911.1 1642.2,910.4 1643.7,913.3 1645.3,912.1 1646.9,908.5 1648.5,911.2 1650.0,909.7 1651.6,911.1 1653.2,907.5 1654.8,910.7 1656.4,909.1 1658.1,915.0 1659.7,915.1 1661.3,908.1 1662.9,911.0 1664.5,910.9 1666.2,914.6 1667.8,909.0 1669.4,912.1 1671.1,912.2 1672.7,911.7 1674.3,909.6 1676.0,909.9 1677.6,913.2 1679.3,910.7 1680.9,913.1 1682.6,914.0 1684.2,912.0 1685.9,913.2 1687.5,913.1 1689.2,910.1 1690.8,910.0 1692.5,913.2 1694.1,911.6 1695.8,912.6 1697.4,912.1 1699.1,913.4 1700.7,914.0 1702.4,909.5 1704.0,913.9 1705.7,912.7 1707.3,912.0 1708.9,911.2 1710.6,909.4 1712.2,910.6 1713.8,909.3 1715.5,910.8 1717.1,913.7 1718.7,912.7 1720.4,914.4 1722.0,914.5 1723.6,909.1 1725.2,912.5 1726.8,911.3 1728.4,911.7 1730.0,911.3 1731.6,913.7 1733.2,913.3 1734.8,910.4 1736.3,915.5 1737.9,911.3 1739.5,910.5 1741.0,911.3 1742.6,912.8 1744.2,913.5 1745.7,914.3 1747.2,910.7 1748.8,915.8 1750.3,911.8 1751.8,909.3 1753.3,911.2 1754.8,913.2 1756.3,913.0 1757.8,915.7 1759.3,913.9 1760.7,913.8 1762.2,913.3 1763.6,914.0 1765.1,910.7 1766.5,912.1 1767.9,912.5 1769.4,913.6 1770.8,914.2 1772.2,910.8 1773.6,914.0 1774.9,912.3 1776.3,916.3 1777.6,910.6 1779.0,913.1 1780.3,914.4 1781.6,914.9 1783.0,908.9 1784.3,914.5 1785.5,912.4 1786.8,910.3 1788.1,915.9 1789.3,913.7 1790.6,915.6 1791.8,912.5 1793.0,912.2 1794.2,911.6 1795.4,917.5 1796.6,912.3 1797.7,912.3 1798.9,912.0 1800.0,913.9 1802.3,913.6 1804.5,915.3 1806.7,913.0 1808.9,910.6 1811.0,912.3 1813.2,911.8 1815.3,910.3 1817.4,914.1 1819.4,912.7 1821.5,913.7 1823.5,910.2 1825.5,913.3 1827.5,914.2 1829.4,913.0 1831.3,912.4 1833.2,912.7 1835.1,912.5 1837.0,913.0 1838.8,909.9 1840.6,911.4 1842.4,913.6 1844.1,914.1 1845.9,913.6 1847.6,916.1 1849.3,914.0 1851.0,911.3 1852.6,911.1 1854.2,911.8 1855.8,912.8 1857.4,912.6 1859.0,911.8 1860.5,914.2 1862.0,911.7 1863.5,913.9 1864.9,913.3 1866.4,912.2 1867.8,911.7 1869.2,910.6 1870.6,915.1 1871.9,914.9 1873.2,917.8 1874.5,914.1 1875.8,912.9 1877.1,913.4 1878.3,914.1 1879.5,913.8 1880.7,916.3 1881.9,913.0 1883.0,913.3 1884.1,910.4 1885.2,914.1 1886.3,914.5 1887.4,912.8 1888.4,916.0 1889.4,914.3 1890.4,912.6 1891.3,914.3 1892.3,913.7 1893.2,914.5 1894.1,912.6 1895.0,916.0 1895.8,915.4 1896.6,917.7 1897.5,917.0 1898.2,913.6 1899.0,914.6 1913.7,912.4 1917.4,917.7 1899.0,921.8 1898.2,920.5 1897.4,920.0 1896.6,920.5 1895.8,918.2 1894.9,917.5 1894.0,921.6 1893.1,921.5 1892.2,921.5 1891.2,922.6 1890.2,917.9 1889.2,918.8 1888.2,921.2 1887.1,916.8 1886.0,921.7 1884.9,920.1 1883.8,917.1 1882.7,921.5 1881.5,922.2 1880.3,916.6 1879.1,921.5 1877.9,918.7 1876.7,921.6 1875.4,918.7 1874.1,917.8 1872.8,920.4 1871.5,921.5 1870.2,919.7 1868.8,915.0 1867.5,923.0 1866.1,919.7 1864.7,922.2 1863.3,920.2 1861.9,923.1 1860.4,920.5 1859.0,920.1 1857.5,920.3 1856.0,921.8 1854.5,925.5 1853.0,917.3 1851.5,921.5 1849.9,920.6 1848.4,920.0 1846.8,918.2 1845.2,918.2 1843.6,923.3 1842.0,919.3 1840.4,921.2 1838.8,920.2 1837.2,919.3 1835.5,918.1 1833.9,922.0 1832.2,921.8 1830.6,918.3 1828.9,918.8 1827.2,921.7 1825.5,922.4 1823.8,921.2 1822.1,921.6 1820.4,921.8 1818.7,923.5 1817.0,922.2 1815.2,920.8 1813.5,922.0 1811.7,920.1 1810.0,922.8 1808.2,921.2 1806.5,922.7 1804.7,921.2 1803.0,920.8 1801.2,921.3 1799.4,922.4 1797.7,919.2 1795.9,923.8 1794.1,920.6 1792.4,919.5 1790.6,921.0 1788.8,921.2 1787.0,923.0 1785.3,921.8 1783.5,919.6 1781.7,920.4 1779.9,921.1 1778.2,918.9 1776.4,925.9 1774.6,922.3 1772.9,919.3 1771.1,921.5 1769.3,922.0 1767.6,920.9 1765.8,923.3 1764.1,920.8 1762.3,920.8 1760.6,922.9 1758.9,923.0 1757.1,921.7 1755.4,917.4 1753.7,922.9 1752.0,920.2 1750.3,917.5 1748.6,919.2 1746.9,920.3 1745.2,921.2 1743.5,924.2 1741.9,921.4 1740.2,921.8 1738.5,921.5 1736.9,923.6 1735.3,920.5 1733.7,924.8 1732.1,921.9 1730.5,918.7 1728.9,922.0 1727.3,921.9 1725.7,920.3 1724.2,922.6 1722.6,921.1 1721.1,921.3 1719.6,921.0 1718.1,920.4 1716.6,922.4 1715.2,921.9 1713.7,922.3 1712.3,921.9 1710.8,921.4 1709.4,922.2 1708.0,925.7 1706.6,925.0 1705.3,919.6 1703.9,918.4 1702.6,922.1 1701.3,921.1 1700.0,920.9 1698.2,921.4 1696.4,922.6 1694.6,923.5 1692.9,921.7 1691.2,921.8 1689.5,924.9 1687.8,922.6 1686.2,923.9 1684.5,922.9 1682.9,921.1 1681.3,923.8 1679.8,921.1 1678.2,922.1 1676.7,921.2 1675.2,926.4 1673.7,919.5 1672.2,921.0 1670.7,923.8 1669.2,923.3 1667.8,922.7 1666.4,919.5 1665.0,920.9 1663.5,924.8 1662.2,922.5 1660.8,920.3 1659.4,922.6 1658.0,922.2 1656.7,922.4 1655.3,924.0 1654.0,921.2 1652.7,925.6 1651.3,921.2 1650.0,924.1 1648.7,921.5 1647.4,920.4 1646.1,922.9 1644.8,921.5 1643.5,924.3 1642.2,922.8 1640.9,923.8 1639.6,918.6 1638.4,923.9 1637.1,919.8 1635.8,923.1 1634.5,923.4 1633.2,918.8 1631.9,921.4 1630.6,923.0 1629.3,925.4 1628.0,920.3 1626.7,921.2 1625.4,919.2 1624.1,922.3 1622.8,923.0 1621.4,925.8 1620.1,919.4 1618.8,924.8 1617.4,923.7 1616.0,923.1 1614.7,921.3 1613.3,923.0 1611.9,922.6 1610.5,921.4 1609.1,920.1 1607.6,924.5 1606.2,922.6 1604.7,925.5 1603.3,922.9 1601.8,918.8 1600.3,921.3 1598.8,922.1 1597.2,923.7 1595.7,924.0 1594.1,922.8 1592.5,924.3 1590.9,925.3 1589.3,921.5 1587.6,925.5 1585.9,920.6 1584.2,922.2 1582.5,922.1 1580.8,924.9 1579.0,922.8 1577.2,925.2 1575.4,921.9 1573.6,921.5 1571.7,923.0 1569.9,922.2 1567.9,920.5 1566.0,922.1 1564.0,921.5 1562.0,919.9 1560.0,921.4 1558.8,921.8 1557.6,924.8 1556.4,923.3 1555.2,926.5 1553.9,922.0 1552.7,920.7 1551.4,923.0 1550.1,921.6 1548.8,921.3 1547.5,922.6 1546.2,926.0 1544.9,923.8 1543.6,924.4 1542.2,922.2 1540.9,924.2 1539.5,922.7 1538.2,926.4 1536.8,923.1 1535.4,924.6 1534.0,925.5 1532.6,923.8 1531.2,923.3 1529.8,924.9 1528.3,922.1 1526.9,920.7 1525.4,924.4 1524.0,919.8 1522.5,924.4 1521.0,925.6 1519.6,924.6 1518.1,922.3 1516.6,922.8 1515.1,922.7 1513.6,925.2 1512.0,922.6 1510.5,922.3 1509.0,923.4 1507.5,923.8 1505.9,924.1 1504.4,923.0 1502.8,922.9 1501.2,921.6 1499.7,923.1 1498.1,919.6 1496.5,922.5 1494.9,920.8 1493.4,922.2 1491.8,921.5 1490.2,921.5 1488.6,924.9 1487.0,923.2 1485.3,922.8 1483.7,923.6 1482.1,922.2 1480.5,920.0 1478.9,921.0 1477.2,924.8 1475.6,921.1 1474.0,922.8 1472.3,926.3 1470.7,921.6 1469.0,923.5 1467.4,921.4 1465.7,927.5 1464.1,922.7 1462.4,922.0 1460.8,925.2 1459.1,923.9 1457.4,921.4 1455.8,925.6 1454.1,921.8 1452.5,921.5 1450.8,922.0 1449.1,925.2 1447.5,925.1 1445.8,920.9 1444.1,922.8 1442.5,921.4 1440.8,920.4 1439.1,924.4 1437.5,920.8 1435.8,926.5 1434.1,923.1 1432.5,925.9 1430.8,923.0 1429.1,923.1 1427.5,921.9 1425.8,922.7 1424.2,926.3 1422.5,921.1 1420.8,922.7 1419.2,923.1 1417.5,923.4 1415.9,921.8 1414.2,921.4 1412.6,922.0 1411.0,923.2 1409.3,919.6 1407.7,920.3 1406.0,920.4 1404.4,921.5 1402.8,923.6 1401.2,922.8 1399.6,921.3 1397.9,925.2 1396.3,922.7 1394.7,923.8 1393.1,921.7 1391.5,921.8 1389.9,921.8 1388.4,921.4 1386.8,924.8 1385.2,924.1 1383.6,919.2 1382.1,923.7 1380.5,923.2 1378.9,923.7 1377.4,924.7 1375.9,925.2 1374.3,923.9 1372.8,922.2 1371.3,921.3 1369.8,924.2 1368.3,923.9 1366.8,924.9 1365.3,927.5 1363.8,926.6 1362.3,920.5 1360.8,925.8 1359.4,930.9 1357.9,924.6 1356.5,923.7 1355.0,922.9 1353.6,924.1 1352.2,925.7 1350.8,924.4 1349.4,922.9 1348.0,925.3 1346.6,925.0 1345.2,923.2 1343.9,921.8 1342.5,922.9 1341.2,923.5 1339.8,922.2 1338.5,924.5 1337.2,925.8 1335.9,923.3 1334.6,923.3 1333.3,922.9 1332.1,927.3 1330.8,928.0 1329.5,922.9 1328.3,924.8 1327.1,921.2 1325.9,925.0 1324.7,921.8 1323.5,923.4 1322.3,926.6 1321.2,921.4 1320.0,922.7 1317.8,923.8 1315.7,928.5 1313.5,927.0 1311.4,925.1 1309.3,922.4 1307.3,923.1 1305.2,923.2 1303.1,924.7 1301.1,921.9 1299.1,923.3 1297.1,925.1 1295.2,926.6 1293.2,925.5 1291.3,921.6 1289.3,921.9 1287.4,925.5 1285.5,924.7 1283.7,922.2 1281.8,925.3 1280.0,927.0 1278.2,922.4 1276.4,923.9 1274.6,924.3 1272.8,920.3 1271.1,920.5 1269.3,926.0 1267.6,925.0 1265.9,925.7 1264.2,923.5 1262.5,922.8 1260.9,928.7 1259.2,925.1 1257.6,925.1 1256.0,927.8 1254.4,924.3 1252.8,925.7 1251.3,924.7 1249.7,921.4 1248.2,924.0 1246.7,925.4 1245.2,925.6 1243.7,923.2 1242.2,925.3 1240.8,923.2 1239.3,925.0 1237.9,924.0 1236.5,921.9 1235.1,926.9 1233.7,926.4 1232.3,924.7 1231.0,929.3 1229.7,925.8 1228.3,922.4 1227.0,924.9 1225.7,924.1 1224.4,924.7 1223.2,929.0 1221.9,926.7 1220.7,929.8 1219.5,924.0 1218.2,927.0 1217.1,926.9 1215.9,928.5 1214.7,928.3 1213.5,924.3 1212.4,925.0 1211.3,926.0 1210.1,930.3 1209.0,925.7 1208.0,929.0 1206.9,925.8 1205.8,927.6 1204.8,927.1 1203.7,927.3 1202.7,928.7 1201.7,924.2 1200.7,925.1 1199.7,921.9 1198.7,924.1 1197.7,926.8 1196.8,927.4 1195.8,925.1 1194.9,924.1 1194.0,926.8 1190.0,926.0 1186.6,926.5 1183.7,926.9 1181.2,926.9 1179.0,929.5 1177.3,929.5 1175.8,925.9 1174.7,931.2 1173.7,927.4 1172.9,926.4 1172.2,929.7 1171.6,929.7 1171.0,929.3 1170.4,928.7 1169.8,932.3 1169.0,932.1 1168.1,927.9 1167.0,928.9 1165.1,929.6 1163.2,927.9 1161.5,933.3 1159.8,934.2 1158.2,931.2 1156.7,934.2 1155.2,931.3 1153.9,936.7 1152.5,937.1 1151.2,936.9 1150.0,936.2 1148.5,936.7 1147.2,937.0 1146.2,938.9 1145.2,938.9 1144.2,941.4 1143.0,940.3 1141.7,940.9 1140.0,943.6 1139.2,942.0 1138.3,943.2 1137.3,943.5 1136.3,945.8 1135.3,947.0 1134.2,947.0 1133.1,949.5 1132.0,952.1 1130.8,949.1 1129.7,955.8 1128.5,956.7 1127.4,955.5 1126.2,957.3 1125.1,960.4 1124.0,960.3 1122.9,960.1 1121.9,964.8 1120.9,964.3 1120.0,960.1 1119.1,966.3 1118.3,967.5 1117.4,967.9 1116.6,971.5 1115.8,972.0 1115.0,970.9 1114.3,973.4 1113.5,975.1 1112.8,976.5 1112.1,980.7 1111.4,976.7 1110.7,980.7 1110.0,979.4 1109.3,983.9 1108.6,983.8 1108.0,986.2 1107.3,986.8 1106.7,986.5 1106.0,989.7 1105.3,987.9 1104.6,989.1 1103.9,997.2 1103.2,996.1 1102.5,997.1 1101.9,999.8 1101.2,998.9 1100.6,1002.0 1099.9,1002.7 1099.3,1003.2 1098.7,1002.8 1098.1,1005.7 1097.5,1006.5 1096.8,1008.5 1096.2,1009.4 1095.6,1011.8 1095.0,1013.0 1094.4,1011.3 1093.8,1015.7 1093.2,1020.6 1092.6,1017.3 1092.1,1023.5 1091.5,1020.8 1091.0,1023.2 1090.4,1024.1 1089.8,1025.2 1089.3,1027.5 1088.7,1030.0 1088.1,1030.8 1087.5,1031.2 1086.9,1031.0 1086.3,1033.3 1085.7,1034.6 1085.0,1037.6 1084.4,1038.9 1083.7,1040.9 1083.0,1041.5 1082.3,1042.1 1081.6,1041.2 1080.9,1047.6 1080.2,1045.7 1079.5,1045.9 1078.8,1050.7 1078.0,1051.1 1077.3,1053.8 1076.5,1051.4 1075.8,1054.3 1075.0,1059.1 1074.3,1059.3 1073.5,1059.1 1072.8,1062.1 1072.0,1062.8 1071.0,1063.3 1070.0,1065.2 1069.0,1063.5 1068.0,1068.5 1067.0,1069.3 1066.0,1069.7 1064.9,1071.4 1063.9,1072.8 1062.9,1071.7 1061.9,1073.8 1060.9,1076.9 1059.9,1073.8 1058.9,1075.2 1058.0,1081.1 1056.6,1078.9 1055.1,1080.2 1053.7,1082.3 1052.3,1080.1 1050.9,1082.9 1049.6,1083.8 1048.4,1081.1 1047.1,1085.2 1046.0,1083.7 1044.2,1087.4 1042.6,1086.0 1041.1,1086.1 1039.6,1087.5 1038.0,1086.2 1036.6,1083.3 1035.1,1086.6 1033.6,1087.1 1032.0,1084.1 1030.5,1080.9 1029.0,1084.4 1027.7,1083.4 1026.5,1081.9 1025.4,1083.5 1024.1,1080.1 1022.9,1078.5 1021.5,1075.3 1020.0,1079.0 1019.2,1075.8 1018.5,1075.4 1017.7,1073.3 1017.0,1069.8 1016.2,1071.9 1015.4,1070.5 1014.6,1068.0 1013.8,1065.6 1012.8,1067.5 1011.9,1067.1 1010.8,1063.1 1009.6,1061.3 1008.4,1060.7 1007.0,1061.7 1006.2,1056.9 1005.4,1057.6 1004.5,1053.7 1003.6,1054.3 1002.7,1054.4 1001.7,1052.6 1000.7,1050.6 999.7,1052.4 998.7,1050.4 997.6,1046.8 996.5,1045.5 995.4,1048.1 994.3,1041.9 993.2,1046.1 992.1,1042.5 990.9,1040.9 989.8,1039.5 988.7,1041.8 987.6,1033.8 986.4,1032.6 985.3,1035.2 984.2,1033.1 983.2,1033.5 982.1,1032.5 981.0,1032.3 980.0,1030.6 978.7,1028.5 977.5,1028.3 976.2,1024.2 975.0,1025.7 973.8,1025.2 972.5,1019.6 971.3,1022.6 970.1,1020.5 968.8,1019.6 967.6,1019.3 966.4,1016.4 965.2,1020.4 963.9,1017.6 962.7,1015.3 961.5,1012.7 960.2,1015.6 959.0,1011.0 957.8,1013.1 956.5,1012.1 955.3,1013.2 954.0,1012.9 952.5,1012.8 951.0,1010.3 949.6,1008.5 948.1,1009.2 946.6,1009.8 945.1,1007.9 943.6,1005.1 942.1,1004.3 940.6,1008.6 939.1,1006.5 937.5,1008.1 936.0,1003.2 934.5,1007.8 933.0,1004.4 931.5,1005.3 930.0,1003.9 928.5,1001.3 927.0,1005.8 925.5,1001.6 923.9,1003.2 922.4,1002.9 920.8,1004.3 919.2,1002.9 917.6,1002.1 915.9,1002.6 914.3,997.2 912.8,1003.5 911.2,1002.3 909.6,999.9 908.1,999.3 906.6,998.2 905.2,998.3 903.8,1000.2 902.5,999.9 901.2,999.3 900.0,1001.0 898.0,996.2 896.3,999.6 894.7,997.6 893.3,998.9 892.0,998.3 890.7,998.5 889.4,1000.0 888.1,999.4 886.6,1001.4 885.0,999.9 883.5,1002.4 882.0,999.0 880.3,1000.2 878.6,1003.2 876.9,999.8 875.2,999.9 873.5,1002.4 871.8,1001.8 870.2,1002.7 868.7,1001.3 867.3,1003.6 866.0,1005.4 864.5,1006.9 863.2,1007.7 862.0,1007.5 861.0,1007.9 860.0,1007.2 859.1,1010.5 858.1,1011.7 857.1,1014.5 856.0,1014.6 855.2,1015.3 854.4,1018.3 853.6,1016.7 852.8,1019.5 851.9,1018.9 851.1,1025.0 850.3,1022.2 849.4,1027.2 848.6,1026.2 847.7,1026.5 846.8,1029.9 845.9,1030.7 845.0,1035.7 844.3,1030.9 843.6,1033.1 842.9,1037.6 842.2,1039.4 841.5,1040.1 840.8,1038.6 840.0,1040.4 839.3,1043.0 838.6,1042.6 837.8,1042.7 837.1,1047.1 836.3,1051.0 835.6,1051.4 834.9,1051.3 834.1,1052.5 833.4,1053.3 832.7,1058.8 832.0,1054.7 831.3,1060.1 830.6,1065.5 830.0,1061.1 829.3,1060.4 828.6,1065.5 828.0,1064.6 827.4,1065.8 826.7,1068.5 826.1,1067.3 825.4,1073.2 824.8,1070.3 824.1,1073.1 823.5,1077.8 822.8,1076.4 822.1,1079.8 821.4,1077.4 820.7,1078.9 820.0,1082.1 819.3,1083.6 818.5,1084.7 817.7,1086.9 816.9,1086.6 816.1,1088.8 815.3,1092.5 814.5,1092.0 813.7,1093.3 812.9,1093.0 812.1,1096.0 811.2,1095.3 810.4,1096.9 809.7,1099.1 808.9,1101.0 808.1,1101.0 807.4,1105.7 806.7,1106.5 806.0,1106.9 805.1,1106.3 804.2,1109.9 803.4,1112.1 802.6,1112.2 801.8,1112.9 801.0,1117.0 800.3,1113.3 799.5,1116.1 798.8,1119.5 798.1,1122.8 797.4,1120.5 796.7,1123.3 796.0,1124.1 795.2,1123.9 794.5,1125.4 793.9,1125.9 793.3,1129.2 792.7,1129.5 792.1,1133.9 791.5,1131.8 790.7,1136.3 789.9,1135.8 789.0,1139.2 788.0,1141.6 787.0,1142.3 785.9,1142.7 784.7,1144.7 783.4,1144.9 782.1,1145.4 780.7,1147.2 779.3,1147.8 777.9,1149.5 776.6,1149.3 775.2,1149.8 773.9,1147.9 772.7,1153.0 771.5,1152.6 769.8,1156.5 768.2,1149.9 766.8,1151.5 765.3,1148.5 763.9,1149.7 762.4,1153.9 760.7,1145.3 758.9,1148.4 757.7,1148.6 756.4,1149.9 755.0,1148.6 753.6,1148.4 752.2,1143.8 750.7,1149.4 749.2,1143.6 747.7,1144.8 746.2,1145.3 744.6,1145.0 743.1,1143.9 741.5,1141.3 740.0,1138.6 739.2,1138.2 738.3,1135.8 737.5,1137.2 736.6,1134.4 735.7,1136.4 734.8,1135.0 734.0,1135.0 733.1,1132.2 732.2,1127.2 731.3,1127.0 730.4,1126.4 729.5,1126.7 728.6,1121.1 727.7,1119.6 726.8,1117.8 725.9,1121.4 725.0,1118.6 724.1,1117.2 723.2,1115.4 722.4,1116.8 721.5,1114.3 720.7,1112.0 719.8,1110.3 719.0,1111.1 717.5,1109.8 716.0,1105.3 714.6,1104.8 713.1,1109.0 711.7,1107.6 710.3,1102.5 708.9,1105.2 707.5,1102.3 706.1,1100.2 704.7,1103.1 703.3,1101.4 701.9,1101.8 700.5,1100.9 699.1,1097.4 697.7,1095.9 696.2,1097.2 694.8,1098.3 693.4,1096.0 692.0,1099.5 690.5,1094.8 689.1,1095.4 687.7,1094.1 686.3,1097.5 684.9,1093.2 683.4,1094.3 682.0,1091.9 680.6,1092.6 679.2,1091.3 677.8,1089.8 676.4,1087.9 675.0,1092.1 673.6,1089.1 672.2,1086.3 670.8,1086.1 669.4,1086.7 668.0,1089.4 666.5,1086.7 665.0,1084.9 663.4,1084.9 662.1,1082.4 660.7,1082.1 659.4,1078.6 657.9,1081.3 656.5,1084.2 655.0,1079.9 653.6,1078.0 652.1,1078.9 650.6,1079.9 649.2,1077.6 647.7,1078.3 646.3,1078.7 644.9,1074.6 643.6,1076.2 642.3,1072.5 641.0,1072.9 639.6,1072.6 638.3,1073.0 637.0,1067.1 635.7,1071.7 634.5,1071.2 633.3,1071.8 632.1,1067.1 631.0,1070.3 629.8,1064.6 628.7,1065.2 627.5,1063.0 626.4,1063.0 625.2,1064.0 624.0,1062.9 622.8,1063.0 621.6,1057.7 620.4,1059.8 619.2,1058.2 618.0,1054.7 616.8,1054.2 615.6,1053.8 614.4,1055.2 613.3,1055.9 612.1,1053.0 610.9,1049.9 609.7,1050.3 608.5,1050.3 607.3,1046.4 606.3,1045.8 605.2,1044.6 604.2,1041.6 603.1,1042.2 602.1,1042.1 601.0,1042.6 600.0,1039.5 598.9,1036.5 597.9,1035.3 596.8,1036.3 595.8,1033.7 594.7,1031.8 593.7,1032.8 592.6,1032.9 591.6,1030.6 590.5,1029.9 589.4,1028.2 588.2,1029.1 587.0,1027.6 585.8,1023.9 584.6,1024.7 583.4,1021.8 582.2,1018.3 581.0,1022.1 579.8,1017.5 578.7,1017.8 577.6,1017.8 576.5,1015.7 575.5,1011.1 574.6,1013.9 573.7,1014.9 572.1,1012.1 570.8,1011.1 569.7,1010.5 568.7,1006.0 567.7,1007.7 566.5,1007.1 565.0,1001.7 563.9,1003.9 562.8,1000.1 561.5,999.9 560.2,1001.1 558.9,998.2 557.6,1004.4 556.2,997.7 554.8,997.3 553.5,998.8 552.1,994.0 550.8,994.2 549.7,994.1 548.6,996.3 547.5,990.0 546.4,993.4 545.3,987.0 544.1,986.5 543.0,985.2 541.9,985.1 540.9,985.4 539.8,981.4 538.7,981.9 537.7,980.1 536.7,978.9 535.3,979.1 534.0,976.3 532.7,975.9 531.4,974.6 530.2,973.8 528.9,971.1 527.6,973.2 526.3,973.7 525.0,974.7 523.7,969.0 522.5,966.9 521.3,965.3 520.1,965.9 518.9,967.1 517.5,964.9 515.9,967.4 514.1,963.7 512.0,962.6 510.9,963.2 509.8,963.1 508.6,963.8 507.3,964.0 506.1,961.2 504.7,960.5 503.4,960.8 502.0,959.7 500.5,960.3 499.1,959.6 497.5,964.5 496.0,956.7 494.4,957.4 492.8,962.1 491.1,960.8 489.4,960.2 487.6,957.1 485.8,958.4 484.0,957.0 482.7,957.4 481.4,956.2 480.1,959.3 478.7,955.4 477.3,961.3 475.9,955.4 474.5,956.1 473.0,960.0 471.5,955.6 470.0,953.4 468.5,958.8 467.0,960.9 465.4,954.3 463.9,953.6 462.3,955.9 460.7,956.4 459.2,953.1 457.6,955.6 456.0,954.6 454.4,950.6 452.8,955.8 451.3,952.4 449.7,958.9 448.1,952.5 446.6,956.5 445.0,950.3 443.5,950.9 442.0,953.3 440.5,953.2 439.1,948.6 437.8,950.4 436.5,955.0 435.3,951.1 434.0,952.1 432.9,952.7 431.7,954.1 430.5,952.3 429.4,955.9 428.2,954.2 427.0,955.0 425.8,951.0 424.6,952.6 423.4,950.0 422.1,949.6 420.7,952.3 419.3,948.2 417.8,949.6 416.2,951.8 414.6,954.1 412.8,951.9 411.0,950.9 409.0,950.3 407.0,954.5 404.8,951.7 402.5,951.1 400.0,952.3 398.9,949.0 397.8,952.2 396.7,950.9 395.5,951.2 394.3,951.5 393.1,950.3 391.8,954.8 390.6,951.2 389.3,950.1 388.0,951.2 386.7,952.3 385.3,949.2 384.0,952.9 382.6,947.1 381.2,950.5 379.7,948.4 378.3,951.5 376.9,950.8 375.4,953.1 373.9,949.5 372.4,947.8 370.9,951.5 369.4,949.2 367.8,951.2 366.3,948.4 364.7,948.7 363.1,950.4 361.6,948.7 360.0,951.4 358.4,950.6 356.7,953.9 355.1,950.5 353.5,949.6 351.9,950.5 350.2,954.0 348.6,950.9 346.9,951.5 345.3,950.8 343.6,951.2 342.0,949.8 340.3,953.4 338.7,950.6 337.0,950.4 335.3,949.3 333.7,949.5 332.0,948.5 330.4,952.5 328.7,952.6 327.0,953.4 325.4,949.8 323.7,949.3 322.1,950.0 320.5,952.1 318.8,951.5 317.2,950.4 315.6,953.1 314.0,951.2 312.4,950.1 310.8,950.1 309.2,951.3 307.7,950.8 306.1,949.7 304.6,951.4 303.0,951.3 301.5,953.5 300.0,951.3 298.5,951.5 296.9,951.0 295.3,950.6 293.7,949.1 292.1,949.2 290.5,948.5 288.9,951.6 287.2,955.0 285.5,952.7 283.8,952.5 282.1,954.2 280.4,949.7 278.7,954.4 277.0,950.0 275.2,950.7 273.5,952.7 271.8,949.6 270.0,952.7 268.2,949.1 266.5,949.1 264.7,953.0 263.0,950.2 261.2,951.3 259.5,950.4 257.7,951.9 256.0,953.6 254.2,949.4 252.5,948.0 250.7,947.0 249.0,951.6 247.3,951.4 245.6,950.2 243.9,949.2 242.2,948.2 240.6,952.0 238.9,948.8 237.3,949.3 235.7,950.1 234.0,949.1 232.5,952.3 230.9,950.8 229.4,949.6 227.8,949.4 226.3,952.5 224.9,949.8 223.4,950.3 222.0,951.7 220.6,949.2 219.2,948.8 217.9,946.8 216.6,949.6 215.3,953.6 214.1,950.0 212.8,952.2 211.7,949.8 210.5,950.2 209.4,947.6 208.3,952.7 207.3,949.9 206.3,946.5 205.4,950.5 204.5,947.9 203.6,944.1 202.8,951.8 202.0,945.9" stroke="#00f"/>
<polyline points="202.0,946.7 202.8,942.8 203.7,944.6 204.6,940.2 205.6,943.6 206.7,946.1 207.9,946.3 209.1,941.1 210.4,941.9 211.8,942.1 213.2,937.5 214.7,945.0 216.2,942.9 217.8,942.3 219.5,942.9 221.2,940.2 222.9,940.8 224.7,941.6 226.5,941.2 228.3,938.6 230.2,937.0 232.1,940.0 234.0,939.3 236.0,936.3 238.0,940.0 239.2,939.0 240.4,938.4 241.6,937.6 242.8,938.3 244.1,939.6 245.3,936.4 246.5,939.4 247.8,937.0 249.1,937.1 250.3,938.9 251.6,936.4 252.9,936.6 254.2,934.6 255.6,935.4 256.9,935.5 258.3,934.1 259.6,933.6 261.0,936.2 262.4,936.3 263.9,932.6 265.3,932.9 266.8,935.3 268.3,935.7 269.8,931.7 271.4,932.6 272.9,935.1 274.5,936.4 276.2,934.5 277.8,930.5 279.5,934.7 281.2,932.2 282.9,931.6 284.7,932.6 286.5,930.1 288.3,930.3 290.2,926.4 292.1,933.5 294.0,931.7 296.0,930.4 298.0,931.1 299.2,930.9 300.4,930.0 301.7,929.6 303.0,930.2 304.3,926.4 305.7,927.7 307.1,930.0 308.5,933.0 309.9,931.4 311.3,931.9 312.8,931.7 314.3,930.0 315.8,930.9 317.3,930.3 318.9,929.5 320.4,930.2 322.0,931.0 323.6,929.4 325.2,928.9 326.8,930.5 328.4,930.2 330.1,930.5 331.7,932.1 333.4,930.4 335.1,930.0 336.7,928.9 338.4,928.1 340.1,930.9 341.8,931.1 343.5,930.9 345.2,930.9 346.9,928.9 348.6,930.6 350.2,930.2 351.9,931.0 353.6,929.1 355.3,931.9 357.0,931.7 358.7,928.1 360.3,929.6 362.0,929.8 363.6,930.7 365.3,932.1 366.9,926.9 368.5,931.6 370.1,930.9 371.7,928.9 373.3,928.7 374.8,930.8 376.4,929.3 377.9,928.9 379.4,929.0 380.9,933.2 382.3,926.3 383.8,933.0 385.2,926.9 386.6,931.7 387.9,928.8 389.3,929.8 390.6,928.5 391.9,929.0 393.1,932.0 394.4,928.2 395.5,925.6 396.7,928.8 397.8,925.1 398.9,928.2 400.0,929.3 402.6,928.4 404.8,928.5 406.7,932.7 408.4,933.5 409.8,932.3 411.0,932.2 412.0,930.1 412.9,928.0 413.7,928.2 414.4,927.5 415.1,928.0 415.7,928.5 416.4,930.5 417.1,931.9 417.8,930.2 418.7,930.7 419.7,928.2 420.9,930.5 422.2,928.0 423.8,929.3 425.7,932.6 427.9,930.1 430.3,929.0 433.2,930.4 436.4,928.2 440.0,929.5 441.0,927.8 441.9,930.9 442.9,929.2 443.9,929.4 444.9,929.8 446.0,929.8 447.0,929.8 448.1,929.4 449.2,928.9 450.3,930.2 451.4,930.1 452.5,931.1 453.7,931.6 454.9,931.9 456.0,929.3 457.2,928.6 458.4,930.0 459.7,929.4 460.9,931.3 462.2,929.2 463.4,930.9 464.7,927.4 466.0,930.5 467.3,928.7 468.6,927.7 470.0,926.9 471.3,927.3 472.7,928.2 474.0,931.9 475.4,930.8 476.8,930.0 478.2,928.4 479.6,929.7 481.0,927.1 482.5,926.1 483.9,927.3 485.4,929.1 486.9,933.4 488.3,925.9 489.8,927.3 491.3,927.3 492.8,927.1 494.4,926.8 495.9,928.0 497.4,926.8 499.0,928.9 500.5,925.9 502.1,927.5 503.6,927.1 505.2,927.9 506.8,929.7 508.4,927.2 510.0,928.7 511.6,927.6 513.2,928.9 514.8,929.5 516.5,928.2 518.1,930.3 519.7,927.1 521.4,931.7 523.0,926.7 524.7,929.3 526.4,929.9 528.0,931.2 529.7,928.5 531.4,929.8 533.1,929.3 534.7,929.8 536.4,929.4 538.1,929.0 539.8,928.7 541.5,930.4 543.2,929.0 544.9,928.0 546.6,926.4 548.4,927.2 550.1,926.1 551.8,930.2 553.5,930.5 555.2,926.5 557.0,928.3 558.7,930.2 560.4,927.9 562.1,927.1 563.9,925.5 565.6,927.3 567.3,928.4 569.1,928.8 570.8,929.6 572.5,928.9 574.2,929.9 576.0,931.0 577.7,929.4 579.4,928.5 581.2,925.7 582.9,929.1 584.6,928.9 586.3,931.0 588.0,926.0 589.8,927.6 591.5,924.5 593.2,928.4 594.9,929.5 596.6,926.2 598.3,928.8 600.0,927.1 601.4,929.0 602.7,928.4 604.1,926.9 605.5,925.0 606.9,926.5 608.3,928.9 609.8,929.2 611.2,926.9 612.7,928.9 614.1,931.0 615.6,926.0 617.1,928.3 618.6,928.3 620.1,926.1 621.6,926.6 623.1,931.3 624.6,928.6 626.1,929.4 627.7,926.2 629.2,928.7 630.8,928.4 632.4,929.1 633.9,925.4 635.5,923.8 637.1,929.1 638.7,930.3 640.3,928.4 641.9,929.3 643.5,924.7 645.1,929.9 646.7,929.2 648.4,925.3 650.0,926.6 651.7,930.0 653.3,931.4 654.9,928.4 656.6,927.3 658.3,925.4 659.9,926.8 661.6,926.0 663.2,928.0 664.9,927.7 666.6,930.3 668.3,925.5 669.9,927.3 671.6,925.9 673.3,927.3 675.0,929.8 676.7,925.5 678.3,927.2 680.0,928.8 681.7,924.9 683.4,926.8 685.1,930.6 686.8,924.9 688.5,930.5 690.2,928.6 691.8,929.5 693.5,927.4 695.2,927.3 696.9,926.1 698.6,927.3 700.3,927.8 701.9,924.0 703.6,928.3 705.3,930.1 707.0,927.1 708.6,923.9 710.3,929.7 712.0,925.2 713.6,926.3 715.3,926.2 716.9,930.4 718.6,924.3 720.2,927.6 721.8,925.2 723.5,924.2 725.1,926.7 726.7,927.7 728.3,927.8 729.9,929.2 731.6,927.2 733.2,927.2 734.7,925.3 736.3,928.9 737.9,927.5 739.5,928.2 741.0,930.3 742.6,930.3 744.1,931.2 745.7,924.0 747.2,925.6 748.7,925.4 750.2,926.5 751.7,928.3 753.2,927.1 754.7,924.5 756.2,929.2 757.7,929.4 759.1,926.8 760.6,926.4 762.0,928.4 763.4,927.8 764.8,923.3 766.2,927.1 767.6,927.8 769.0,931.5 770.4,926.0 771.7,927.4 773.1,929.5 774.4,926.1 775.7,926.8 777.0,925.5 778.3,928.0 779.6,926.1 780.9,923.0 782.1,927.2 783.3,926.8 784.6,926.7 785.8,924.9 787.0,925.0 788.1,930.9 789.3,924.9 790.4,924.4 791.6,928.6 792.7,929.2 793.8,926.8 794.9,924.9 795.9,926.9 797.0,925.9 798.0,928.3 799.0,924.8 800.0,926.7 803.1,926.7 806.1,926.3 808.9,929.6 811.5,926.6 814.0,924.5 816.4,927.1 818.6,926.8 820.8,925.8 822.8,927.6 824.7,922.7 826.4,923.6 828.1,927.3 829.7,927.8 831.2,926.3 832.7,928.9 834.0,926.3 835.3,930.0 836.5,925.3 837.7,922.8 838.8,925.5 839.9,925.9 841.0,925.8 842.0,925.7 843.0,926.7 843.9,924.5 844.9,926.6 845.8,926.2 846.8,926.0 847.7,927.6 848.7,927.4 849.7,927.2 850.7,923.7 851.8,926.8 852.8,925.0 854.0,925.8 855.2,927.5 856.4,927.7 857.7,926.7 859.0,926.2 860.5,926.2 862.0,926.4 863.5,924.5 864.9,923.8 866.4,926.2 867.9,926.1 869.4,925.7 870.9,928.1 872.4,922.6 874.0,925.6 875.5,923.5 877.0,925.8 878.6,926.3 880.1,924.1 881.7,925.1 883.3,921.3 884.8,921.5 886.4,926.4 887.9,924.7 889.5,925.2 891.1,925.6 892.6,929.2 894.2,922.9 895.8,926.4 897.3,922.4 898.9,921.6 900.4,922.6 901.9,924.0 903.5,926.7 905.0,926.8 906.5,923.5 908.0,923.9 909.6,925.5 911.0,923.8 912.5,928.0 914.0,922.2 915.5,922.8 916.9,926.0 918.4,921.9 919.8,923.7 921.2,924.1 922.6,924.5 924.0,922.9 925.3,924.3 926.7,924.5 928.0,921.5 929.8,923.9 931.5,924.5 933.2,924.3 934.9,921.7 936.6,924.2 938.3,924.2 940.0,927.4 941.6,922.3 943.3,923.9 944.9,924.3 946.5,920.4 948.1,922.6 949.7,924.7 951.2,922.5 952.8,923.3 954.3,923.9 955.8,922.2 957.3,923.4 958.8,925.5 960.3,920.1 961.7,923.1 963.2,924.0 964.6,924.5 966.0,926.9 967.4,921.1 968.8,923.1 970.2,922.2 971.5,922.4 972.8,924.2 974.2,919.8 975.5,921.5 976.7,921.6 978.0,922.4 979.9,920.1 981.6,921.5 983.4,918.5 985.0,916.6 986.7,923.2 988.2,923.3 989.8,921.9 991.3,919.4 992.7,921.6 994.1,920.1 995.6,919.5 997.0,922.3 998.3,923.7 999.7,918.4 1001.1,919.1 1002.5,919.9 1003.8,917.3 1005.2,918.9 1006.6,916.6 1008.1,915.8 1009.5,918.9 1011.0,917.5 1012.5,915.5 1014.1,917.6 1015.6,916.7 1017.2,915.7 1018.8,917.7 1020.5,916.9 1022.1,916.1 1023.7,916.3 1025.3,917.8 1027.0,914.4 1028.6,917.5 1030.1,915.2 1031.7,917.2 1033.3,916.7 1034.8,914.0 1036.2,914.9 1037.7,914.4 1039.0,913.3 1040.4,914.5 1041.6,914.6 1042.9,913.1 1044.0,911.8 1046.3,911.7 1048.3,914.8 1050.0,908.0 1051.6,909.6 1053.0,910.4 1054.3,911.1 1055.7,908.5 1057.0,910.7 1058.4,911.6 1060.0,911.3 1061.5,909.0 1063.1,906.6 1064.8,907.5 1066.4,905.5 1068.1,909.8 1069.7,905.5 1071.3,905.8 1072.8,910.2 1074.3,909.1 1075.7,903.9 1077.0,906.1 1079.0,905.3 1080.7,907.2 1082.2,902.0 1083.7,903.5 1085.2,904.4 1087.0,903.6 1088.3,898.8 1089.7,901.2 1091.2,901.4 1092.7,901.3 1094.3,901.0 1095.8,897.4 1097.3,895.7 1098.7,898.2 1100.0,897.4 1101.6,894.8 1103.2,893.9 1104.7,890.5 1106.1,893.4 1107.4,895.3 1108.8,892.1 1110.0,889.3 1111.4,891.6 1112.6,890.0 1113.8,891.4 1114.9,885.6 1116.0,887.3 1117.0,883.7 1117.9,882.4 1118.8,883.7 1119.6,882.4 1120.3,880.6 1121.1,879.2 1122.0,874.5 1122.7,871.4 1123.4,871.3 1124.1,871.9 1124.9,868.6 1125.7,868.8 1126.4,868.0 1127.2,868.3 1128.0,865.7 1128.6,864.2 1129.2,863.1 1129.8,861.1 1130.4,865.7 1131.0,861.3 1131.6,859.6 1132.3,858.3 1133.0,857.4 1133.8,855.4 1134.7,850.1 1135.0,849.9 1135.4,849.9 1135.7,845.3 1136.1,846.1 1136.4,846.3 1136.8,847.3 1137.2,846.5 1137.6,843.8 1138.0,844.8 1138.4,837.0 1138.8,842.1 1139.2,835.7 1139.6,838.1 1140.0,835.7 1140.4,833.2 1140.9,831.3 1141.3,825.9 1141.7,831.2 1142.2,823.9 1142.6,827.5 1143.0,822.4 1143.4,820.5 1143.9,820.3 1144.3,816.1 1144.7,814.1 1145.1,813.6 1145.5,812.4 1145.9,809.2 1146.3,807.6 1146.6,807.0 1146.8,807.2 1147.1,805.3 1147.4,802.8 1147.7,805.0 1148.0,801.7 1148.3,795.1 1148.6,795.6 1148.9,795.7 1149.2,796.1 1149.4,794.3 1149.7,789.2 1150.0,791.8 1150.3,785.5 1150.6,785.3 1150.9,783.4 1151.2,777.8 1151.5,781.0 1151.8,781.8 1152.1,777.6 1152.4,778.0 1152.7,772.4 1153.0,769.8 1153.2,771.0 1153.5,767.2 1153.8,767.2 1154.0,769.4 1154.3,763.3 1154.6,762.6 1154.8,761.6 1155.0,760.0 1155.3,756.0 1155.5,755.5 1155.7,754.7 1155.9,757.8 1156.2,751.9 1156.4,749.0 1156.5,746.3 1156.7,751.2 1156.9,749.3 1157.0,749.8 1157.2,748.4 1157.9,739.2 1158.2,739.7 1158.3,740.0 1158.2,741.6 1158.2,739.5 1158.5,738.9 1158.6,734.5 1158.7,730.8 1158.8,734.6 1158.8,729.5 1158.9,732.2 1159.0,728.6 1159.2,727.5 1159.3,726.6 1159.4,723.3 1159.5,726.4 1159.6,722.3 1159.7,722.1 1159.9,719.1 1160.0,717.7 1160.1,715.6 1160.2,715.0 1160.4,711.1 1160.5,710.8 1160.6,709.9 1160.8,705.1 1160.9,705.3 1161.0,702.0 1161.2,696.8 1161.3,697.7 1161.4,700.0 1161.5,695.6 1161.6,693.4 1161.8,691.4 1161.9,693.7 1162.0,693.1 1162.1,688.1 1162.2,689.2 1162.3,688.2 1162.4,685.8 1162.5,681.1 1162.6,677.2 1162.8,679.2 1162.9,678.5 1163.0,676.3 1163.1,674.4 1163.2,673.0 1163.3,669.5 1163.4,670.6 1163.5,669.6 1163.6,664.4 1163.7,668.3 1163.8,666.7 1163.9,662.7 1164.0,658.9 1164.1,655.4 1164.2,657.8 1164.3,659.1 1164.4,657.8 1164.4,654.5 1164.5,652.7 1164.6,651.4 1164.7,646.1 1164.8,647.1 1164.9,646.0 1165.0,642.0 1165.1,642.9 1165.2,639.6 1165.3,641.0 1165.4,639.3 1165.5,638.1 1165.5,637.9 1165.6,639.4 1165.7,635.8 1165.8,637.2 1165.9,633.1 1166.0,629.5 1166.1,630.4 1166.2,625.6 1166.4,626.8 1166.5,621.3 1166.7,620.7 1166.8,622.1 1166.9,619.1 1166.9,619.3 1167.0,616.0 1167.1,614.4 1167.2,612.6 1167.3,613.2 1167.4,610.9 1167.5,609.0 1167.6,606.7 1167.7,608.3 1167.8,607.0 1167.9,604.5 1168.0,601.2 1168.1,601.0 1168.3,599.3 1168.4,596.0 1168.5,596.6 1168.6,597.4 1168.7,589.2 1168.8,589.1 1168.9,589.3 1169.1,588.1 1169.2,586.5 1169.3,586.0 1169.4,583.2 1169.5,581.8 1169.7,584.7 1169.8,581.5 1169.9,576.1 1170.0,574.2 1170.1,574.4 1170.3,572.0 1170.4,571.2 1170.5,569.5 1170.6,567.2 1170.7,563.1 1170.9,562.6 1171.0,565.0 1171.1,558.6 1171.2,558.0 1171.3,557.7 1171.4,554.4 1171.4,552.1 1171.5,553.4 1171.6,552.9 1171.7,553.2 1171.8,548.9 1171.9,545.9 1172.0,548.6 1172.1,546.1 1172.2,543.9 1172.3,543.5 1172.4,539.3 1172.5,538.2 1172.5,534.5 1172.6,535.1 1172.7,532.9 1172.8,531.6 1172.9,532.9 1173.0,529.6 1173.1,526.2 1173.2,528.6 1173.3,525.5 1173.4,521.3 1173.5,522.3 1173.6,518.5 1173.7,519.6 1173.8,518.4 1173.9,513.0 1174.0,514.0 1174.1,513.2 1174.2,511.8 1174.2,507.2 1174.3,509.9 1174.4,506.4 1174.5,501.1 1174.6,499.3 1174.7,501.0 1174.8,500.8 1174.9,497.5 1175.0,497.2 1175.1,495.8 1175.2,492.9 1175.2,492.6 1175.3,490.7 1175.4,485.2 1175.5,483.4 1175.6,486.1 1175.7,486.1 1175.8,484.7 1175.9,483.4 1175.9,479.0 1176.0,477.5 1176.1,476.0 1176.2,473.7 1176.3,471.6 1176.4,470.1 1176.4,468.6 1176.5,470.6 1176.6,468.4 1176.7,464.5 1176.8,460.2 1176.8,461.7 1176.9,461.3 1177.0,461.7 1177.1,457.5 1177.2,450.4 1177.2,453.4 1177.3,456.4 1177.4,453.3 1177.5,451.3 1177.5,447.8 1177.6,448.2 1177.7,445.0 1177.8,446.9 1177.8,443.4 1177.9,439.2 1178.0,439.9 1178.0,438.5 1178.1,438.7 1178.2,433.2 1178.3,435.7 1178.3,433.6 1178.4,431.2 1178.5,429.8 1178.6,425.7 1178.6,425.6 1178.7,426.1 1178.8,422.1 1178.8,423.3 1178.9,421.3 1179.0,418.5 1179.1,418.0 1179.1,417.5 1179.2,414.1 1179.3,414.1 1179.4,410.4 1179.4,410.6 1179.5,406.8 1179.6,406.3 1179.7,408.3 1179.8,403.4 1179.8,404.3 1179.9,403.3 1180.0,398.8 1180.1,400.2 1180.2,394.1 1180.3,396.0 1180.4,390.0 1180.5,392.6 1180.6,390.1 1180.7,386.3 1180.8,387.1 1180.9,384.5 1181.0,383.2 1181.1,377.3 1181.2,380.2 1181.3,377.7 1181.4,378.0 1181.5,374.4 1181.6,371.5 1181.7,369.8 1181.8,368.5 1181.9,370.9 1182.0,366.8 1182.1,367.1 1182.2,360.8 1182.4,362.9 1182.5,362.0 1182.6,360.3 1182.7,355.1 1182.8,358.1 1182.9,357.7 1183.0,352.4 1183.1,352.1 1183.2,351.6 1183.3,349.3 1183.4,348.2 1183.5,345.5 1183.6,345.4 1183.7,342.5 1183.7,342.8 1183.8,343.9 1183.9,339.1 1184.0,339.7 1184.1,336.3 1184.2,334.9 1184.3,335.5 1184.3,333.9 1184.4,329.7 1184.5,330.7 1184.6,328.7 1184.7,325.6 1184.8,323.1 1184.9,324.4 1185.0,324.0 1185.1,318.9 1185.2,312.4 1185.3,317.3 1185.3,317.5 1185.4,311.6 1185.5,313.3 1185.5,307.2 1185.6,309.0 1185.7,309.3 1185.8,304.5 1185.8,305.1 1185.9,303.4 1185.9,301.8 1186.0,300.7 1186.1,299.6 1186.1,299.6 1186.2,293.6 1186.3,293.3 1186.3,291.6 1186.4,291.5 1186.5,291.4 1186.6,292.2 1186.6,286.7 1186.7,287.7 1186.8,287.2 1186.9,283.4 1187.0,282.8 1187.1,278.7 1187.2,280.9 1187.3,275.6 1187.4,273.3 1187.5,276.4 1187.6,268.8 1187.7,265.5 1187.8,266.9 1187.9,268.4 1188.0,269.6 1188.1,262.6 1188.2,263.9 1188.3,259.6 1188.4,258.2 1188.5,256.4 1188.6,257.4 1188.7,255.3 1188.9,254.2 1189.0,252.7 1189.1,249.4 1189.2,248.4 1189.3,245.9 1189.4,244.2 1189.5,242.8 1189.6,239.6 1189.7,239.8 1189.8,239.9 1190.0,235.9 1190.1,237.7 1190.2,236.5 1190.4,234.0 1190.5,229.4 1190.6,230.1 1190.8,226.8 1190.9,226.1 1191.1,223.9 1191.2,222.8 1191.3,223.9 1191.5,219.9 1191.6,220.0 1191.7,217.1 1191.9,216.4 1192.0,214.8 1192.2,212.0 1192.3,211.8 1192.5,208.3 1192.6,208.3 1192.9,206.6 1193.2,207.3 1193.6,202.6 1193.9,204.7 1194.2,202.1 1194.6,197.3 1194.9,200.6 1195.3,197.4 1195.6,193.4 1196.0,193.8 1196.9,192.1 1197.8,190.7 1198.8,189.9 1200.0,191.6 1200.9,190.5 1201.8,193.4 1202.8,194.0 1203.8,197.9 1204.9,196.0 1206.0,198.2 1206.7,203.7 1207.4,202.7 1208.2,201.6 1209.0,203.2 1209.8,210.8 1210.6,209.6 1211.4,211.3 1212.1,211.0 1212.9,211.5 1213.6,212.9 1214.5,209.9 1215.3,211.3 1216.1,209.6 1216.9,211.3 1217.7,208.4 1218.5,205.8 1219.2,203.8 1220.0,202.9 1220.8,200.6 1221.5,195.7 1222.3,197.2 1223.0,194.6 1223.7,194.6 1224.4,191.8 1225.1,189.9 1225.7,187.9 1226.1,184.9 1226.6,187.0 1227.0,182.8 1227.4,182.4 1227.8,180.2 1228.2,178.5 1228.6,174.9 1229.0,175.1 1229.3,176.3 1229.7,171.2 1230.0,168.9 1230.4,169.6 1230.8,169.2 1231.1,164.2 1231.4,164.9 1231.7,162.9 1232.0,159.1 1232.4,162.3 1232.7,158.5 1233.0,158.2 1233.5,156.1 1234.0,152.9 1234.5,151.4 1235.0,153.2 1235.5,146.8 1236.0,147.9 1237.1,145.6 1238.2,144.6 1239.4,150.2 1240.1,145.0 1240.9,146.7 1241.6,146.6 1242.3,151.4 1243.0,148.7 1243.3,154.6 1243.6,155.2 1243.9,157.9 1244.2,156.7 1244.5,160.9 1244.8,157.9 1245.1,164.1 1245.4,166.3 1245.7,164.6 1246.0,168.7 1246.2,170.4 1246.3,169.8 1246.5,172.0 1246.6,175.1 1246.8,173.5 1247.0,178.1 1247.2,175.8 1247.3,181.2 1247.5,179.0 1247.7,182.3 1247.9,181.4 1248.0,183.8 1248.2,188.9 1248.4,187.3 1248.5,188.9 1248.7,189.6 1248.8,191.7 1249.0,194.4 1249.1,194.7 1249.3,199.6 1249.4,201.3 1249.5,203.9 1249.6,206.3 1249.8,203.6 1249.9,208.9 1250.0,206.1 1250.1,208.8 1250.2,208.3 1250.2,212.2 1250.3,213.7 1250.4,215.4 1250.5,216.3 1250.6,220.3 1250.6,223.2 1250.7,220.6 1250.8,224.4 1250.9,230.4 1251.0,225.4 1251.0,226.8 1251.1,229.6 1251.2,229.8 1251.3,231.2 1251.4,233.7 1251.5,232.3 1251.6,236.7 1251.7,238.7 1251.8,239.8 1251.8,244.8 1251.9,240.7 1252.0,243.3 1252.1,245.6 1252.2,243.1 1252.3,249.0 1252.4,246.2 1252.5,252.0 1252.7,251.4 1252.8,249.6 1252.9,254.2 1253.0,257.6 1253.0,258.7 1253.1,261.0 1253.2,261.7 1253.3,259.9 1253.4,266.4 1253.5,264.3 1253.6,269.5 1253.7,273.1 1253.8,270.8 1253.9,272.4 1254.0,270.7 1254.2,274.7 1254.3,278.3 1254.4,281.9 1254.5,281.0 1254.6,278.7 1254.7,285.0 1254.8,285.5 1254.9,288.9 1255.0,289.2 1255.1,289.1 1255.2,291.0 1255.3,294.3 1255.4,297.8 1255.5,295.1 1255.6,294.5 1255.7,299.6 1255.7,301.1 1255.8,304.4 1255.9,304.2 1256.0,305.9 1256.1,306.5 1256.1,307.7 1256.1,307.9 1256.2,308.9 1256.2,309.2 1256.2,307.4 1256.2,308.7 1256.3,310.7 1256.3,313.2 1256.4,313.9 1256.4,312.6 1256.5,314.6 1256.6,317.0 1256.7,322.0 1256.9,326.7 1257.1,329.1 1257.1,327.4 1257.2,333.4 1257.2,329.9 1257.3,336.0 1257.3,335.4 1257.4,337.0 1257.4,337.8 1257.4,338.8 1257.5,341.1 1257.5,341.8 1257.6,342.7 1257.6,343.9 1257.7,346.7 1257.8,349.2 1257.8,346.7 1257.9,348.4 1257.9,346.8 1258.0,351.5 1258.0,350.7 1258.1,356.4 1258.1,353.4 1258.2,356.0 1258.3,359.0 1258.3,358.1 1258.4,361.8 1258.5,362.6 1258.5,366.4 1258.6,365.0 1258.6,364.4 1258.7,368.0 1258.8,370.4 1258.8,373.9 1258.9,374.8 1259.0,372.1 1259.1,374.2 1259.1,377.3 1259.2,379.2 1259.3,377.8 1259.3,384.1 1259.4,384.5 1259.5,382.5 1259.5,389.4 1259.6,388.4 1259.7,388.6 1259.8,391.8 1259.8,394.7 1259.9,395.2 1260.0,398.1 1260.0,401.5 1260.1,400.7 1260.2,404.0 1260.3,408.4 1260.3,404.4 1260.4,411.2 1260.5,412.8 1260.6,412.3 1260.6,411.4 1260.7,413.8 1260.8,417.8 1260.9,418.4 1260.9,421.2 1261.0,424.3 1261.1,424.7 1261.1,429.2 1261.2,428.0 1261.3,431.0 1261.4,431.9 1261.4,431.7 1261.5,435.4 1261.6,437.3 1261.6,441.0 1261.7,438.5 1261.8,440.7 1261.9,444.1 1261.9,444.4 1262.0,446.0 1262.1,445.9 1262.1,445.0 1262.2,452.1 1262.3,453.8 1262.3,454.7 1262.4,456.8 1262.5,460.1 1262.5,461.6 1262.6,460.4 1262.7,461.5 1262.7,461.8 1262.8,465.6 1262.9,466.4 1262.9,468.4 1263.0,469.2 1263.1,472.2 1263.1,471.0 1263.2,473.7 1263.2,475.5 1263.3,472.3 1263.3,474.8 1263.4,475.1 1263.5,479.6 1263.6,480.2 1263.7,483.7 1263.8,487.8 1263.9,489.5 1264.0,492.3 1264.1,491.1 1264.2,491.6 1264.3,494.5 1264.4,494.4 1264.4,498.1 1264.5,498.4 1264.6,500.1 1264.7,504.1 1264.8,504.3 1264.9,503.9 1265.0,508.5 1265.1,509.4 1265.2,511.7 1265.2,511.7 1265.3,514.6 1265.4,518.1 1265.5,519.2 1265.6,520.2 1265.7,518.4 1265.8,520.0 1265.8,527.3 1265.9,522.7 1266.0,523.5 1266.1,527.6 1266.2,527.0 1266.2,533.4 1266.3,530.4 1266.4,533.9 1266.5,535.5 1266.6,536.7 1266.6,537.0 1266.7,539.0 1266.8,538.8 1266.9,543.4 1267.0,542.4 1267.0,542.1 1267.1,544.0 1267.2,546.1 1267.3,545.9 1267.3,549.0 1267.4,547.0 1267.5,552.1 1267.6,550.9 1267.6,553.7 1267.7,555.6 1267.8,552.0 1267.9,556.5 1267.9,560.6 1268.0,558.8 1268.1,562.9 1268.2,562.9 1268.3,563.6 1268.4,566.5 1268.5,567.9 1268.6,569.6 1268.6,570.8 1268.7,568.7 1268.8,575.6 1268.9,575.7 1269.0,576.8 1269.0,578.9 1269.1,581.0 1269.2,583.8 1269.3,583.5 1269.4,583.1 1269.4,583.7 1269.5,585.3 1269.6,590.9 1269.7,592.7 1269.7,592.1 1269.8,592.6 1269.9,598.3 1270.0,596.7 1270.0,596.6 1270.1,599.2 1270.2,602.9 1270.3,600.0 1270.4,601.8 1270.4,603.0 1270.5,607.9 1270.6,604.8 1270.7,610.3 1270.8,613.0 1270.9,615.5 1271.0,617.5 1271.1,618.2 1271.2,615.6 1271.3,619.7 1271.4,622.6 1271.5,621.1 1271.6,624.7 1271.7,623.6 1271.8,625.0 1271.9,626.3 1272.0,630.3 1272.2,630.0 1272.3,630.9 1272.4,632.7 1272.5,637.9 1272.6,633.2 1272.7,633.3 1272.9,639.2 1273.0,638.8 1273.1,641.0 1273.2,646.3 1273.3,647.1 1273.5,646.5 1273.6,646.9 1273.7,651.2 1273.8,654.8 1274.0,654.5 1274.1,655.1 1274.2,658.2 1274.4,658.1 1274.5,658.4 1274.6,659.4 1274.8,662.5 1274.9,659.8 1275.0,666.6 1275.2,664.6 1275.3,669.5 1275.4,669.0 1275.6,671.0 1275.7,671.9 1275.9,680.9 1276.0,678.4 1276.1,678.5 1276.3,678.2 1276.4,678.1 1276.6,679.5 1276.7,680.8 1276.8,684.8 1277.0,685.2 1277.1,688.0 1277.3,687.4 1277.4,692.5 1277.6,695.3 1277.8,693.5 1277.9,695.8 1278.1,696.6 1278.3,697.1 1278.4,701.0 1278.6,702.0 1278.7,706.8 1278.9,705.5 1279.1,707.1 1279.3,707.7 1279.4,708.8 1279.6,714.4 1279.8,713.2 1279.9,715.0 1280.1,714.7 1280.3,719.7 1280.5,717.7 1280.6,721.5 1280.8,722.3 1281.0,727.3 1281.1,724.5 1281.3,725.8 1281.5,728.4 1281.6,732.3 1281.8,731.7 1281.9,731.2 1282.1,734.1 1282.3,734.9 1282.4,740.6 1282.6,737.8 1282.7,742.7 1282.8,740.5 1283.0,742.6 1283.1,743.5 1283.3,745.1 1283.4,747.8 1283.6,746.9 1283.9,749.7 1284.1,749.6 1284.3,753.5 1284.5,755.1 1284.6,756.9 1284.8,761.4 1285.0,758.5 1285.2,761.4 1285.3,763.5 1285.5,767.2 1285.7,768.1 1285.8,768.4 1286.0,769.6 1286.2,770.6 1286.3,769.7 1286.5,774.3 1286.7,775.8 1286.9,776.1 1287.1,778.1 1287.3,779.2 1287.5,780.3 1287.7,781.8 1288.0,784.8 1288.3,786.3 1288.6,786.8 1289.0,786.5 1289.3,790.6 1289.7,792.3 1290.0,793.2 1290.4,798.3 1290.8,796.7 1291.1,796.9 1291.5,801.9 1291.9,801.6 1292.2,801.9 1292.6,804.3 1292.9,801.4 1293.3,804.1 1293.6,808.5 1293.9,811.9 1294.3,810.6 1294.7,814.4 1295.0,814.3 1295.4,814.8 1295.7,817.5 1296.0,818.2 1296.3,816.7 1296.6,821.1 1297.0,825.1 1297.5,826.1 1297.9,826.2 1298.5,829.1 1299.0,830.1 1299.5,829.3 1300.0,832.2 1300.6,833.7 1301.3,833.3 1301.9,837.4 1302.5,839.3 1303.2,838.7 1303.9,845.0 1304.6,838.4 1305.2,843.6 1305.9,844.6 1306.5,850.3 1307.1,850.1 1307.7,850.9 1308.2,851.2 1309.2,852.8 1310.0,854.1 1310.8,858.0 1311.5,858.7 1312.2,859.0 1313.1,858.6 1314.0,861.0 1315.0,861.7 1315.8,862.7 1316.7,863.6 1317.7,863.3 1318.7,865.8 1319.7,867.2 1320.7,869.7 1321.8,867.5 1322.9,871.5 1324.0,873.7 1325.2,872.6 1326.3,873.6 1327.6,872.4 1328.8,873.9 1330.1,878.3 1331.4,875.7 1332.8,877.0 1334.2,878.6 1335.6,882.8 1337.0,879.7 1338.5,881.2 1340.0,882.5 1341.3,882.1 1342.5,881.6 1343.7,884.0 1344.9,884.5 1346.2,887.7 1347.5,885.1 1348.8,887.3 1350.3,887.7 1351.8,885.1 1353.4,887.4 1355.2,887.3 1357.1,887.2 1358.3,886.5 1359.5,888.3 1360.8,889.3 1362.1,889.6 1363.5,894.4 1364.9,892.1 1366.4,891.9 1367.9,893.2 1369.4,892.7 1370.9,892.9 1372.5,893.4 1374.0,892.8 1375.6,896.5 1377.2,892.0 1378.8,897.4 1380.4,896.4 1381.9,895.1 1383.5,896.5 1385.0,898.9 1386.5,897.1 1388.0,899.5 1389.5,902.5 1391.0,895.7 1392.5,901.7 1393.9,900.1 1395.3,902.8 1396.8,903.6 1398.2,901.4 1399.6,904.1 1401.0,900.2 1402.4,903.6 1403.9,902.8 1405.4,902.9 1406.9,901.8 1408.4,903.8 1410.0,905.1 1411.6,904.9 1413.3,899.4 1415.1,902.5 1416.9,901.1 1418.8,905.0 1420.1,903.6 1421.4,907.0 1422.7,907.4 1424.1,905.8 1425.4,906.5 1426.8,906.9 1428.2,904.9 1429.6,904.6 1431.1,908.8 1432.5,904.9 1434.0,903.8 1435.5,905.8 1437.0,907.9 1438.5,904.7 1440.0,907.2 1441.6,906.2 1443.1,907.3 1444.7,907.0 1446.3,905.9 1448.0,906.7 1449.6,906.7 1451.2,906.0 1452.9,905.5 1454.6,907.7 1456.3,906.7 1458.0,908.3 1459.8,907.2 1461.5,906.6 1463.3,905.3 1465.1,906.4 1466.4,906.2 1467.8,911.3 1469.2,907.5 1470.6,906.2 1472.1,906.2 1473.6,905.1 1475.1,910.9 1476.6,907.4 1478.2,906.0 1479.8,907.1 1481.4,908.8 1483.0,906.2 1484.6,907.8 1486.2,909.4 1487.8,909.9 1489.5,906.5 1491.1,909.2 1492.8,907.7 1494.4,910.5 1496.1,904.4 1497.7,909.9 1499.4,911.5 1501.0,906.7 1502.6,910.8 1504.2,911.2 1505.8,912.4 1507.4,910.1 1509.0,909.7 1510.5,911.3 1512.1,912.5 1513.6,910.2 1515.0,909.6 1516.5,909.8 1517.9,910.7 1519.3,905.3 1520.6,907.9 1521.9,910.8 1523.2,911.5 1524.5,910.4 1525.6,911.9 1526.8,908.6 1528.9,911.3 1530.6,908.5 1532.0,911.2 1533.2,909.2 1534.1,912.0 1534.8,909.4 1535.5,908.6 1536.0,909.9 1536.6,911.5 1537.2,911.9 1537.9,910.9 1538.8,910.9 1539.9,912.3 1541.2,912.9 1542.9,910.8 1544.9,908.8 1547.3,909.3 1550.2,909.5 1553.7,909.6 1557.7,910.5 1558.6,912.7 1559.6,910.1 1560.6,911.6 1561.6,910.3 1562.7,911.0 1563.7,908.1 1564.9,908.7 1566.0,908.4 1567.1,907.1 1568.3,910.2 1569.5,908.5 1570.8,913.4 1572.0,909.2 1573.3,909.0 1574.6,911.8 1575.9,907.7 1577.2,908.3 1578.6,909.2 1580.0,906.1 1581.4,911.5 1582.8,913.1 1584.2,908.2 1585.7,910.8 1587.2,910.8 1588.7,911.7 1590.2,907.9 1591.7,911.7 1593.2,912.4 1594.8,910.3 1596.3,911.3 1597.9,909.5 1599.5,910.4 1601.1,913.4 1602.7,911.1 1604.4,909.9 1606.0,910.9 1607.6,908.0 1609.3,910.9 1611.0,910.1 1612.6,908.3 1614.3,911.6 1616.0,911.1 1617.7,912.5 1619.4,910.4 1621.1,912.0 1622.8,908.2 1624.5,912.7 1626.3,910.1 1628.0,911.6 1629.7,913.6 1631.4,915.9 1633.2,911.2 1634.9,907.8 1636.6,908.9 1638.4,909.3 1640.1,909.8 1641.8,911.6 1643.5,911.1 1645.3,910.3 1647.0,909.4 1648.7,909.9 1650.4,911.4 1652.1,910.2 1653.9,908.5 1655.6,912.4 1657.2,909.7 1658.9,911.6 1660.6,910.7 1662.3,910.7 1664.0,912.4 1665.6,912.6 1667.3,911.8 1668.9,911.3 1670.5,911.2 1672.1,912.3 1673.7,912.7 1675.3,914.1 1676.9,911.0 1678.5,911.2 1680.0,912.9 1681.6,914.4 1683.1,910.0 1684.6,914.3 1686.1,907.2 1687.6,912.0 1689.0,911.5 1690.5,914.5 1691.9,912.2 1693.3,911.6 1694.7,911.3 1696.0,911.8 1697.4,913.5 1698.7,910.8 1700.0,912.1 1701.8,914.2 1703.6,908.6 1705.4,914.2 1707.2,911.4 1708.9,910.9 1710.7,911.9 1712.4,912.8 1714.1,913.5 1715.8,910.1 1717.5,910.7 1719.1,915.5 1720.8,913.4 1722.4,910.4 1724.0,910.0 1725.6,912.0 1727.2,909.5 1728.8,912.6 1730.4,914.1 1731.9,908.6 1733.4,912.7 1735.0,912.0 1736.5,912.2 1738.0,911.7 1739.5,912.0 1741.0,911.4 1742.5,916.1 1744.0,910.4 1745.5,912.7 1746.9,913.1 1748.4,909.8 1749.8,909.4 1751.3,917.2 1752.7,914.7 1754.1,911.3 1755.6,911.9 1757.0,910.1 1758.4,910.8 1759.8,911.5 1761.3,913.3 1762.7,912.6 1764.1,912.5 1765.5,912.6 1766.9,911.9 1768.3,911.6 1769.7,912.4 1771.1,911.6 1772.5,912.5 1773.9,915.8 1775.4,914.0 1776.8,913.2 1778.2,914.0 1779.6,908.2 1781.0,914.0 1782.5,912.6 1783.9,912.7 1785.3,912.6 1786.8,917.0 1788.2,914.2 1789.6,911.8 1791.1,915.1 1792.6,916.6 1794.0,910.2 1795.5,912.8 1797.0,913.8 1798.5,913.5 1800.0,911.5 1801.5,915.5 1803.1,914.7 1804.6,912.6 1806.2,918.6 1807.8,915.4 1809.4,911.3 1811.0,915.9 1812.7,913.7 1814.3,913.6 1816.0,913.7 1817.7,913.6 1819.4,913.3 1821.1,916.6 1822.8,912.7 1824.5,910.8 1826.3,909.7 1828.0,911.3 1829.7,915.2 1831.5,913.1 1833.2,913.9 1835.0,912.2 1836.7,915.2 1838.5,911.3 1840.2,913.5 1842.0,912.7 1843.7,909.9 1845.5,913.3 1847.2,909.9 1848.9,917.8 1850.6,910.9 1852.4,912.8 1854.1,914.0 1855.8,916.0 1857.4,911.7 1859.1,911.5 1860.8,914.9 1862.4,916.2 1864.0,911.9 1865.6,912.9 1867.2,913.6 1868.8,912.6 1870.3,917.7 1871.9,912.7 1873.4,912.8 1874.9,912.2 1876.3,917.6 1877.8,912.5 1879.2,913.0 1880.6,911.0 1881.9,913.5 1883.2,911.7 1884.5,915.6 1885.8,916.2 1887.0,913.4 1888.2,914.4 1889.4,912.2 1890.5,915.1 1891.6,913.1 1892.7,915.9 1893.7,916.5 1894.7,913.3 1895.6,915.6 1896.6,916.9 1897.4,916.4 1898.2,915.1 1899.0,911.5 1908.3,914.8 1911.4,914.3 1908.3,919.5 1899.0,916.4 1898.2,922.7 1897.4,921.8 1896.6,923.5 1895.6,921.3 1894.7,918.9 1893.7,920.7 1892.7,922.1 1891.6,922.1 1890.5,917.9 1889.4,919.4 1888.2,920.7 1887.0,920.9 1885.8,921.3 1884.5,920.7 1883.2,920.7 1881.9,924.8 1880.6,923.8 1879.2,924.8 1877.8,920.0 1876.3,923.4 1874.9,923.3 1873.4,917.8 1871.9,921.5 1870.3,921.3 1868.8,923.2 1867.2,922.0 1865.6,924.0 1864.0,920.3 1862.4,919.3 1860.8,920.0 1859.1,922.5 1857.4,920.7 1855.8,923.2 1854.1,923.4 1852.4,917.7 1850.6,924.4 1848.9,921.7 1847.2,924.8 1845.5,921.4 1843.7,920.5 1842.0,920.9 1840.2,923.4 1838.5,919.4 1836.7,919.5 1835.0,919.5 1833.2,920.1 1831.5,921.7 1829.7,922.6 1828.0,921.0 1826.3,922.6 1824.5,925.4 1822.8,921.9 1821.1,918.7 1819.4,922.5 1817.7,918.6 1816.0,926.8 1814.3,921.7 1812.7,924.0 1811.0,920.4 1809.4,922.7 1807.8,920.1 1806.2,921.3 1804.6,922.9 1803.1,919.7 1801.5,922.4 1800.0,918.8 1798.5,917.9 1797.0,923.1 1795.5,921.3 1794.0,915.8 1792.6,919.2 1791.1,919.7 1789.6,921.1 1788.2,921.0 1786.7,922.2 1785.3,921.9 1783.9,922.7 1782.4,923.1 1781.0,924.8 1779.6,921.4 1778.1,920.1 1776.7,923.0 1775.3,925.4 1773.9,923.1 1772.5,919.9 1771.1,922.4 1769.6,923.0 1768.2,922.3 1766.8,921.8 1765.4,923.6 1764.0,922.6 1762.6,922.0 1761.1,921.7 1759.7,922.7 1758.3,921.7 1756.9,920.2 1755.4,920.2 1754.0,922.2 1752.6,923.6 1751.1,917.9 1749.7,921.6 1748.2,924.5 1746.8,920.8 1745.3,920.6 1743.8,922.1 1742.3,921.4 1740.8,924.3 1739.4,923.1 1737.8,920.9 1736.3,921.7 1734.8,921.0 1733.3,926.2 1731.7,921.3 1730.2,922.8 1728.6,921.7 1727.0,922.9 1725.5,923.3 1723.9,920.8 1722.3,923.4 1720.6,921.2 1719.0,924.1 1717.3,923.6 1715.7,921.4 1714.0,921.8 1712.3,920.8 1710.6,919.9 1708.9,922.6 1707.1,921.7 1705.4,925.6 1703.6,926.3 1701.8,921.4 1700.0,923.0 1698.7,925.7 1697.4,923.5 1696.1,921.9 1694.9,925.0 1693.6,923.3 1692.3,919.5 1691.0,923.8 1689.7,924.9 1688.5,924.8 1687.2,922.5 1685.9,920.6 1684.6,922.2 1683.3,922.8 1682.1,924.2 1680.8,922.9 1679.5,919.7 1678.2,923.8 1676.9,924.6 1675.6,920.2 1674.4,924.0 1673.1,924.8 1671.8,922.8 1670.5,920.5 1669.2,923.0 1667.9,920.3 1666.6,924.1 1665.3,923.0 1664.0,922.5 1662.6,927.0 1661.3,924.0 1660.0,920.2 1658.7,925.0 1657.3,925.1 1656.0,923.9 1654.7,924.6 1653.3,923.7 1652.0,925.2 1650.6,921.3 1649.2,922.8 1647.9,924.2 1646.5,923.1 1645.1,923.3 1643.7,924.4 1642.3,923.8 1640.9,923.9 1639.5,923.4 1638.0,924.2 1636.6,923.1 1635.2,922.4 1633.7,925.3 1632.3,922.9 1630.8,925.5 1629.3,925.3 1627.8,922.9 1626.3,926.0 1624.8,923.4 1623.3,922.8 1621.8,923.9 1620.2,926.0 1618.7,921.1 1617.1,922.9 1615.6,924.4 1614.0,922.8 1612.4,922.2 1610.8,922.3 1609.2,922.4 1607.5,923.2 1605.9,924.6 1604.2,921.8 1602.5,924.7 1600.9,922.3 1599.2,924.2 1597.5,920.6 1595.7,923.9 1594.0,924.0 1592.2,926.9 1590.5,921.8 1588.7,924.4 1586.9,921.1 1585.1,924.1 1583.2,921.8 1581.4,923.8 1579.5,927.1 1577.7,921.6 1575.8,921.1 1573.9,924.2 1571.9,922.3 1570.0,922.4 1568.0,925.6 1566.0,926.1 1564.0,924.1 1562.0,922.3 1560.0,922.9 1558.8,927.9 1557.6,923.8 1556.4,924.6 1555.2,922.4 1553.9,920.7 1552.7,920.8 1551.4,925.3 1550.1,922.5 1548.8,921.2 1547.5,925.0 1546.2,916.6 1544.9,924.1 1543.6,921.1 1542.2,923.7 1540.9,925.6 1539.5,923.6 1538.2,924.1 1536.8,926.1 1535.4,924.2 1534.0,926.0 1532.6,925.0 1531.2,921.8 1529.8,920.3 1528.3,926.4 1526.9,922.5 1525.4,921.9 1524.0,925.2 1522.5,920.0 1521.0,928.2 1519.6,924.2 1518.1,923.3 1516.6,924.7 1515.1,921.4 1513.6,920.5 1512.0,926.6 1510.5,924.7 1509.0,922.0 1507.5,924.6 1505.9,923.1 1504.4,926.9 1502.8,927.2 1501.2,925.2 1499.7,922.0 1498.1,921.7 1496.5,920.1 1494.9,920.3 1493.4,924.6 1491.8,925.5 1490.2,923.6 1488.6,920.2 1487.0,926.0 1485.3,923.9 1483.7,927.2 1482.1,923.3 1480.5,925.7 1478.9,924.6 1477.2,923.0 1475.6,925.8 1474.0,922.3 1472.3,922.9 1470.7,924.1 1469.0,925.8 1467.4,925.2 1465.7,921.3 1464.1,925.6 1462.4,921.9 1460.8,926.4 1459.1,925.7 1457.4,923.2 1455.8,925.1 1454.1,924.2 1452.5,924.2 1450.8,924.8 1449.1,926.2 1447.5,925.4 1445.8,924.1 1444.1,921.2 1442.5,924.2 1440.8,923.8 1439.1,922.3 1437.5,927.2 1435.8,924.0 1434.1,925.1 1432.5,922.1 1430.8,924.1 1429.1,923.3 1427.5,922.3 1425.8,921.8 1424.2,925.9 1422.5,926.3 1420.8,919.7 1419.2,921.6 1417.5,923.4 1415.9,921.4 1414.2,925.0 1412.6,921.9 1411.0,925.1 1409.3,926.5 1407.7,923.7 1406.0,921.4 1404.4,926.6 1402.8,920.9 1401.2,922.8 1399.6,925.3 1397.9,924.4 1396.3,923.3 1394.7,924.3 1393.1,928.4 1391.5,923.1 1389.9,922.6 1388.4,925.7 1386.8,923.6 1385.2,923.4 1383.6,926.5 1382.1,924.3 1380.5,922.2 1378.9,923.9 1377.4,924.4 1375.9,922.7 1374.3,924.5 1372.8,924.5 1371.3,923.8 1369.8,921.7 1368.3,923.0 1366.8,923.4 1365.3,923.8 1363.8,922.7 1362.3,923.9 1360.8,921.0 1359.4,922.3 1357.9,921.4 1356.5,924.6 1355.0,924.5 1353.6,925.5 1352.2,921.6 1350.8,927.1 1349.4,925.5 1348.0,923.0 1346.6,925.0 1345.2,921.7 1343.9,924.3 1342.5,923.0 1341.2,925.3 1339.8,920.7 1338.5,922.4 1337.2,924.4 1335.9,920.5 1334.6,923.5 1333.3,925.6 1332.1,925.1 1330.8,926.5 1329.5,926.1 1328.3,926.8 1327.1,922.6 1325.9,923.3 1324.7,921.8 1323.5,924.8 1322.3,928.2 1321.2,926.7 1320.0,924.6 1317.8,922.6 1315.7,922.5 1313.5,924.5 1311.4,926.0 1309.3,923.9 1307.3,926.0 1305.2,928.6 1303.1,923.1 1301.1,923.7 1299.1,924.7 1297.1,922.1 1295.2,924.9 1293.2,921.8 1291.3,926.6 1289.3,924.6 1287.4,925.6 1285.5,924.8 1283.7,923.5 1281.8,923.8 1280.0,924.2 1278.2,924.7 1276.4,924.0 1274.6,924.7 1272.8,923.3 1271.1,925.8 1269.3,927.2 1267.6,925.8 1265.9,926.2 1264.2,923.9 1262.5,922.7 1260.9,924.4 1259.2,924.5 1257.6,923.4 1256.0,924.4 1254.4,927.0 1252.8,924.7 1251.3,921.8 1249.7,926.9 1248.2,926.2 1246.7,927.7 1245.2,923.1 1243.7,928.7 1242.2,924.7 1240.8,925.6 1239.3,928.2 1237.9,923.3 1236.5,924.4 1235.1,925.4 1233.7,925.3 1232.3,922.4 1231.0,925.6 1229.7,923.3 1228.3,922.3 1227.0,929.9 1225.7,926.6 1224.4,924.9 1223.2,928.7 1221.9,928.3 1220.7,927.2 1219.5,923.7 1218.2,925.3 1217.1,923.5 1215.9,925.1 1214.7,926.5 1213.5,926.5 1212.4,926.5 1211.3,924.3 1210.1,928.4 1209.0,927.9 1208.0,930.1 1206.9,925.7 1205.8,928.9 1204.8,928.8 1203.7,928.6 1202.7,926.8 1201.7,926.0 1200.7,924.3 1199.7,924.9 1198.7,928.4 1197.7,924.7 1196.8,925.9 1195.8,924.5 1194.9,929.9 1194.0,930.6 1190.0,926.9 1186.6,929.6 1183.7,928.5 1181.2,928.1 1179.0,929.5 1177.3,927.5 1175.8,929.9 1174.7,929.6 1173.7,930.5 1172.9,930.6 1172.2,932.2 1171.6,930.8 1171.0,930.7 1170.4,928.8 1169.8,929.1 1169.0,927.4 1168.1,931.4 1167.0,930.5 1165.1,931.5 1163.2,930.3 1161.5,930.5 1159.8,934.7 1158.3,933.7 1156.8,931.1 1155.3,934.4 1154.0,935.9 1152.6,933.5 1151.3,935.1 1150.0,939.3 1148.4,935.9 1147.0,940.4 1145.8,934.4 1144.6,934.5 1143.4,939.7 1142.0,939.1 1140.5,941.3 1138.6,940.9 1137.8,939.4 1136.9,944.2 1136.0,944.6 1135.0,943.7 1134.0,943.1 1133.0,946.6 1131.9,949.9 1130.9,952.5 1129.8,954.5 1128.6,950.3 1127.5,954.0 1126.4,956.6 1125.3,953.4 1124.2,957.5 1123.1,958.0 1122.0,959.1 1121.0,960.9 1120.0,962.0 1119.0,964.6 1118.1,965.6 1117.2,966.3 1116.2,967.4 1115.3,969.0 1114.4,972.3 1113.5,969.0 1112.6,973.1 1111.8,974.6 1111.0,973.7 1110.2,978.3 1109.5,979.2 1108.7,978.8 1108.0,981.7 1107.2,983.4 1106.5,983.1 1105.8,981.4 1105.1,984.7 1104.3,985.4 1103.6,988.4 1102.9,987.7 1102.1,988.6 1101.4,989.6 1100.6,994.9 1099.9,996.7 1099.2,995.6 1098.5,999.1 1097.7,999.6 1097.0,1002.8 1096.3,1000.7 1095.7,1006.3 1095.0,1005.3 1094.3,1005.6 1093.6,1005.6 1093.0,1010.0 1092.3,1009.9 1091.7,1011.3 1091.0,1015.1 1090.4,1011.7 1089.7,1015.4 1089.1,1017.8 1088.5,1019.0 1088.0,1019.3 1087.4,1019.4 1086.8,1022.4 1086.3,1023.7 1085.7,1023.9 1085.1,1030.0 1084.5,1028.1 1084.0,1030.0 1083.4,1032.1 1082.8,1034.8 1082.1,1037.1 1081.5,1035.5 1080.8,1036.9 1080.1,1037.4 1079.5,1038.1 1078.8,1041.8 1078.1,1042.6 1077.4,1043.9 1076.7,1045.5 1075.9,1047.2 1075.2,1049.2 1074.5,1047.2 1073.7,1051.1 1073.0,1051.0 1072.2,1056.7 1071.5,1054.8 1070.7,1057.6 1070.0,1055.8 1069.2,1057.4 1068.4,1058.6 1067.7,1061.2 1066.7,1058.0 1065.7,1062.3 1064.7,1062.8 1063.7,1067.9 1062.7,1071.6 1061.7,1067.0 1060.7,1068.9 1059.7,1072.4 1058.7,1070.7 1057.7,1075.3 1056.7,1074.9 1055.8,1076.2 1054.9,1077.4 1054.0,1076.8 1052.3,1079.0 1050.8,1078.0 1049.3,1082.8 1047.8,1080.1 1046.4,1081.9 1045.1,1079.7 1043.8,1081.6 1042.1,1083.6 1040.5,1084.6 1039.1,1085.8 1037.6,1085.2 1036.0,1085.6 1034.6,1084.0 1033.1,1081.3 1031.7,1081.9 1030.2,1082.4 1028.8,1079.6 1027.4,1081.3 1026.2,1074.3 1025.0,1076.6 1024.0,1077.0 1022.8,1073.8 1021.5,1076.7 1020.0,1072.3 1019.2,1073.7 1018.5,1070.8 1017.7,1071.6 1016.9,1069.8 1016.1,1064.2 1015.3,1066.7 1014.4,1067.4 1013.5,1061.4 1012.4,1062.1 1011.3,1060.5 1010.1,1057.1 1008.8,1059.0 1007.3,1056.3 1006.5,1057.2 1005.7,1055.9 1004.8,1053.1 1004.0,1053.2 1003.0,1053.3 1002.1,1050.9 1001.1,1047.6 1000.1,1046.9 999.1,1046.7 998.0,1044.4 997.0,1042.9 995.9,1039.3 994.8,1041.3 993.7,1038.7 992.6,1042.2 991.4,1038.2 990.3,1041.2 989.2,1035.4 988.1,1033.6 987.0,1032.9 985.9,1034.1 984.8,1031.6 983.7,1033.0 982.6,1024.3 981.5,1025.8 980.5,1026.8 979.2,1027.8 977.9,1028.5 976.7,1022.4 975.4,1021.4 974.1,1023.0 972.8,1019.4 971.6,1020.8 970.3,1015.8 969.0,1015.7 967.7,1016.1 966.5,1017.3 965.2,1016.1 963.9,1015.7 962.6,1014.2 961.4,1012.7 960.1,1013.3 958.8,1011.9 957.5,1010.3 956.3,1008.7 955.0,1011.2 953.7,1009.5 952.2,1008.6 950.7,1006.2 949.2,1003.1 947.7,1006.8 946.3,1006.6 944.8,1004.5 943.3,1002.3 941.8,1002.7 940.3,998.6 938.8,1005.0 937.3,1002.4 935.8,1004.7 934.3,1000.5 932.8,1003.9 931.4,1004.0 929.9,1000.8 928.4,997.7 926.9,1001.1 925.4,999.8 923.9,1000.2 922.4,999.5 920.8,997.7 919.3,997.2 917.7,999.9 916.2,997.4 914.7,1001.1 913.1,1000.6 911.6,996.2 910.1,999.8 908.6,997.2 907.1,996.4 905.7,994.6 904.3,994.8 902.9,997.0 901.5,995.4 900.2,996.9 898.4,994.5 896.7,994.2 895.0,995.0 893.3,997.6 891.7,994.5 890.1,993.2 888.6,994.7 887.1,993.5 885.6,995.9 884.2,994.6 882.8,996.3 881.4,996.3 880.1,997.5 878.3,992.6 876.5,999.7 874.8,996.1 873.2,997.3 871.7,995.9 870.2,1000.2 868.8,997.2 867.5,1001.5 866.2,998.1 865.0,1006.2 863.9,1003.1 862.9,1000.5 861.9,1004.6 861.0,1004.8 860.2,1009.7 859.3,1007.1 858.4,1010.2 857.4,1012.2 856.7,1014.7 856.1,1013.3 855.4,1016.4 854.8,1016.1 854.2,1017.9 853.5,1024.9 852.9,1025.3 852.2,1025.2 851.5,1021.8 850.8,1029.0 850.1,1029.7 849.3,1030.1 848.5,1032.3 847.9,1032.3 847.3,1034.2 846.6,1038.7 845.9,1036.6 845.3,1036.3 844.6,1039.3 843.8,1037.0 843.1,1040.3 842.4,1042.4 841.7,1045.6 840.9,1044.6 840.2,1046.7 839.5,1049.4 838.7,1048.7 838.0,1050.1 837.3,1049.2 836.6,1050.5 835.9,1051.0 835.2,1057.3 834.6,1056.7 833.9,1060.3 833.2,1059.4 832.6,1061.5 831.9,1065.0 831.3,1067.0 830.6,1065.9 830.0,1065.1 829.3,1071.2 828.7,1070.9 828.0,1073.4 827.4,1074.8 826.7,1076.0 826.0,1079.5 825.3,1081.2 824.6,1080.0 823.9,1085.2 823.2,1080.8 822.5,1084.7 821.8,1084.5 821.0,1086.4 820.3,1088.6 819.5,1088.0 818.8,1091.6 818.0,1094.8 817.2,1094.4 816.5,1094.0 815.7,1096.2 814.9,1094.3 814.2,1099.8 813.5,1099.2 812.7,1103.1 812.0,1103.2 811.3,1105.4 810.7,1102.3 810.0,1105.5 809.0,1109.0 808.0,1108.8 807.1,1112.5 806.2,1111.0 805.4,1115.9 804.5,1116.1 803.7,1117.3 802.8,1116.3 802.0,1119.8 801.2,1117.7 800.4,1121.9 799.6,1123.8 798.6,1123.8 797.7,1125.7 796.8,1125.1 796.0,1128.0 795.2,1127.4 794.2,1130.1 793.2,1128.9 791.9,1130.8 790.5,1133.9 789.3,1135.8 788.1,1131.7 786.7,1133.5 785.2,1134.0 783.6,1136.4 782.0,1136.4 780.4,1137.5 778.8,1138.1 777.2,1138.4 775.7,1139.7 774.2,1137.9 772.8,1141.3 771.5,1138.6 769.7,1141.9 768.0,1139.9 766.6,1138.7 765.2,1140.3 763.8,1137.6 762.3,1137.5 760.7,1134.4 758.9,1134.1 757.9,1135.9 756.9,1136.7 755.8,1136.9 754.7,1132.0 753.5,1131.4 752.4,1132.5 751.2,1129.8 750.0,1129.3 748.8,1126.9 747.5,1127.2 746.3,1125.9 745.0,1124.9 743.8,1122.6 742.5,1123.6 741.3,1119.0 740.0,1117.3 739.0,1118.3 738.0,1117.9 736.9,1117.0 735.9,1111.6 734.8,1113.8 733.8,1113.5 732.7,1117.3 731.6,1113.8 730.6,1110.4 729.5,1107.0 728.4,1109.5 727.3,1104.8 726.2,1106.8 725.2,1105.2 724.1,1101.5 723.1,1100.0 722.0,1101.3 721.0,1101.8 720.0,1099.9 719.0,1100.5 717.6,1097.7 716.2,1097.5 714.9,1094.3 713.5,1097.3 712.2,1091.6 710.9,1089.0 709.6,1090.0 708.3,1087.1 707.0,1088.4 705.7,1088.2 704.4,1086.1 703.1,1086.6 701.8,1087.0 700.5,1086.2 699.1,1087.7 697.7,1084.2 696.2,1087.6 694.8,1082.8 693.4,1080.2 692.0,1081.2 690.5,1085.4 689.1,1079.2 687.7,1080.6 686.3,1079.7 684.9,1080.4 683.4,1080.9 682.0,1075.8 680.6,1073.6 679.1,1076.0 677.7,1077.1 676.3,1075.0 674.8,1075.2 673.4,1072.5 672.0,1075.2 670.6,1073.3 669.1,1070.8 667.7,1072.8 666.3,1070.4 664.8,1070.7 663.4,1068.2 662.0,1068.7 660.5,1067.7 659.1,1067.0 657.7,1066.9 656.3,1067.1 654.9,1066.0 653.4,1064.9 652.0,1063.8 650.6,1062.4 649.2,1063.1 647.8,1067.0 646.3,1063.4 644.9,1061.6 643.6,1060.2 642.2,1063.1 640.9,1059.9 639.6,1058.7 638.3,1058.4 636.9,1056.2 635.6,1057.3 634.3,1056.5 632.9,1053.6 631.6,1053.7 630.3,1053.5 629.0,1052.5 627.6,1051.2 626.3,1050.8 625.0,1046.8 623.8,1046.4 622.5,1045.9 621.2,1043.9 619.9,1047.7 618.6,1044.5 617.3,1041.5 616.0,1045.1 614.7,1040.7 613.4,1044.3 612.2,1039.0 611.1,1036.7 609.9,1038.7 608.8,1036.8 607.8,1037.3 606.2,1037.5 604.8,1033.4 603.5,1035.9 602.2,1032.0 601.1,1030.7 599.9,1032.2 598.7,1032.8 597.6,1027.7 596.3,1030.1 595.1,1031.3 594.0,1028.6 592.9,1024.7 591.8,1023.6 590.7,1022.8 589.5,1020.1 588.3,1021.1 587.1,1019.8 585.8,1020.2 584.4,1018.7 583.4,1015.9 582.3,1014.5 581.1,1015.7 580.0,1017.9 578.8,1013.3 577.5,1013.8 576.3,1013.5 575.1,1009.4 573.8,1012.9 572.5,1007.8 571.3,1006.8 570.0,1006.5 568.8,1006.3 567.6,1002.9 566.4,1005.8 565.2,1005.5 564.0,1000.4 562.7,997.5 561.5,996.3 560.3,995.3 559.0,997.9 557.8,995.2 556.6,997.2 555.4,993.4 554.2,989.7 553.1,996.0 551.9,992.6 550.8,989.1 549.6,986.9 548.5,987.2 547.3,987.3 546.2,989.3 545.1,985.7 544.0,981.7 542.9,982.3 541.8,978.6 540.8,977.3 539.7,977.5 538.7,975.7 537.7,981.3 536.7,973.4 535.3,975.7 534.0,975.0 532.7,973.3 531.4,971.6 530.1,968.0 528.9,973.1 527.6,969.7 526.3,967.3 525.0,970.4 523.7,967.3 522.5,967.6 521.4,967.2 520.2,961.5 519.0,965.7 517.6,964.4 516.1,965.5 514.3,965.3 512.2,959.4 511.1,962.1 510.0,961.3 508.8,959.6 507.5,960.9 506.3,962.5 504.9,958.9 503.6,961.4 502.2,958.5 500.7,962.0 499.2,959.2 497.7,962.2 496.1,957.2 494.5,959.4 492.9,962.2 491.2,957.3 489.5,957.0 487.7,955.1 485.9,956.8 484.1,958.2 482.8,958.5 481.5,959.2 480.2,954.9 478.8,958.6 477.4,955.3 476.0,954.4 474.6,957.0 473.1,955.6 471.6,955.4 470.1,955.2 468.6,953.4 467.0,955.3 465.5,954.1 463.9,956.4 462.3,954.0 460.8,952.2 459.2,954.0 457.6,955.2 456.0,958.8 454.4,955.5 452.8,956.6 451.3,955.9 449.7,951.3 448.1,952.6 446.6,956.2 445.0,954.6 443.5,950.1 442.0,953.8 440.5,952.9 439.1,950.1 437.8,952.8 436.5,951.4 435.3,951.2 434.0,952.8 432.9,950.2 431.7,950.8 430.5,950.9 429.4,952.8 428.2,949.6 427.0,951.4 425.8,953.2 424.6,955.1 423.4,953.1 422.1,953.1 420.7,951.9 419.3,951.7 417.8,954.0 416.2,951.0 414.6,950.6 412.8,950.3 411.0,948.5 409.0,950.5 407.0,951.9 404.8,950.8 402.5,952.9 400.0,950.9 398.9,948.2 397.8,950.4 396.6,951.2 395.4,950.6 394.2,952.4 392.9,952.4 391.7,950.3 390.3,948.2 389.0,952.1 387.6,948.7 386.2,950.9 384.8,952.3 383.4,953.4 381.9,952.9 380.4,951.8 378.9,950.9 377.4,952.2 375.8,952.6 374.3,949.4 372.7,951.6 371.1,952.7 369.5,949.0 367.9,947.8 366.2,950.6 364.6,950.9 362.9,951.5 361.3,949.2 359.6,955.3 357.9,950.5 356.2,948.0 354.5,950.4 352.8,951.9 351.1,951.6 349.4,950.9 347.7,952.6 346.0,950.8 344.3,951.7 342.6,951.2 340.9,949.7 339.2,947.5 337.5,950.7 335.9,948.8 334.2,949.6 332.5,948.7 330.9,951.1 329.2,952.5 327.6,951.0 326.0,949.6 324.3,950.4 322.8,950.7 321.2,952.4 319.6,952.3 318.1,950.4 316.5,952.9 315.0,951.2 313.5,953.8 312.1,949.4 310.6,948.9 309.2,945.9 307.8,953.4 306.4,951.5 305.1,952.8 303.8,946.7 302.5,951.7 301.2,952.2 300.0,949.2 298.0,952.0 296.1,948.8 294.2,953.0 292.3,949.3 290.4,953.3 288.6,951.7 286.8,951.2 285.1,949.7 283.4,951.8 281.7,953.4 280.0,948.2 278.4,950.7 276.8,948.8 275.2,952.5 273.6,952.4 272.1,951.2 270.5,950.7 269.1,946.7 267.6,950.8 266.1,951.7 264.7,948.5 263.3,951.7 261.9,950.5 260.5,952.4 259.1,951.3 257.8,949.1 256.4,950.8 255.1,946.7 253.8,950.1 252.5,949.7 251.2,951.6 250.0,947.1 248.7,951.5 247.4,950.7 246.2,950.8 244.9,947.3 243.7,952.4 242.5,951.7 241.2,948.2 240.0,950.1 238.0,948.0 236.1,950.6 234.2,948.7 232.3,947.9 230.4,950.0 228.5,947.5 226.7,948.7 224.9,951.3 223.1,948.8 221.4,949.3 219.7,947.3 218.1,952.1 216.5,951.5 214.9,949.0 213.4,949.7 212.0,950.2 210.6,950.1 209.3,949.1 208.0,951.5 206.8,950.7 205.7,949.9 204.7,950.9 203.7,950.6 202.8,951.3 202.0,948.8" stroke="#f0f"/>
</g>
<g fill="#000">
<rect x="199" y="16" width="1703" height="7"/>
<rect x="199" y="1270" width="1703" height="7"/>
<rect x="199" y="16" width="6" height="1261"/>
<rect x="1896" y="16" width="6" height="1261"/>
</g>
<g stroke="#000" stroke-width="6" stroke-linecap="round">
<line x1="204" y1="89.2" x2="227" y2="89.2"/>
<line x1="204" y1="228.5" x2="227" y2="228.5"/>
<line x1="204" y1="367.8" x2="227" y2="367.8"/>
<line x1="204" y1="507.1" x2="227" y2="507.1"/>
<line x1="204" y1="646.4" x2="227" y2="646.4"/>
<line x1="204" y1="785.7" x2="227" y2="785.7"/>
<line x1="204" y1="925.0" x2="227" y2="925.0"/>
<line x1="204" y1="1064.3" x2="227" y2="1064.3"/>
<line x1="204" y1="1203.6" x2="227" y2="1203.6"/>
<line x1="204" y1="158.8" x2="215.5" y2="158.8"/>
<line x1="204" y1="298.1" x2="215.5" y2="298.1"/>
<line x1="204" y1="437.4" x2="215.5" y2="437.4"/>
<line x1="204" y1="576.8" x2="215.5" y2="576.8"/>
<line x1="204" y1="716.0" x2="215.5" y2="716.0"/>
<line x1="204" y1="855.4" x2="215.5" y2="855.4"/>
<line x1="204" y1="994.6" x2="215.5" y2="994.6"/>
<line x1="204" y1="1134.0" x2="215.5" y2="1134.0"/>
<line x1="204" y1="1273.2" x2="215.5" y2="1273.2"/>
<line x1="315.1" y1="1271" x2="315.1" y2="1248.3"/>
<line x1="541.4" y1="1271" x2="541.4" y2="1248.3"/>
<line x1="767.7" y1="1271" x2="767.7" y2="1248.3"/>
<line x1="993.9" y1="1271" x2="993.9" y2="1248.3"/>
<line x1="1220.2" y1="1271" x2="1220.2" y2="1248.3"/>
<line x1="1446.5" y1="1271" x2="1446.5" y2="1248.3"/>
<line x1="1672.7" y1="1271" x2="1672.7" y2="1248.3"/>
<line x1="428.3" y1="1271" x2="428.3" y2="1261"/>
<line x1="654.5" y1="1271" x2="654.5" y2="1261"/>
<line x1="880.8" y1="1271" x2="880.8" y2="1261"/>
<line x1="1107.1" y1="1271" x2="1107.1" y2="1261"/>
<line x1="1333.3" y1="1271" x2="1333.3" y2="1261"/>
<line x1="1559.6" y1="1271" x2="1559.6" y2="1261"/>
<line x1="1785.9" y1="1271" x2="1785.9" y2="1261"/>
</g>
<line x1="301" y1="222.4" x2="526" y2="222.4" stroke="#000" stroke-width="14.5" stroke-linecap="round"/>
<line x1="298" y1="311.4" x2="521" y2="311.4" stroke="#f00" stroke-width="14.5" stroke-linecap="round"/>
<line x1="303" y1="409.8" x2="528" y2="409.8" stroke="#00f" stroke-width="14.5" stroke-linecap="round"/>
<line x1="306" y1="510.5" x2="531" y2="510.5" stroke="#f0f" stroke-width="14.5" stroke-linecap="round"/>
<text id="ytitle" transform="translate(61.7 775.2) rotate(-90)" font-size="63.2" fill="#000" textLength="342.8" lengthAdjust="spacingAndGlyphs">Current/ mA</text>
<text id="yt0" x="104.6" y="103.7" font-size="52.5" fill="#000" textLength="69.52" lengthAdjust="spacingAndGlyphs">3.0</text>
<text id="yt1" x="104.6" y="243.0" font-size="52.5" fill="#000" textLength="69.52" lengthAdjust="spacingAndGlyphs">2.5</text>
<text id="yt2" x="104.6" y="382.3" font-size="52.5" fill="#000" textLength="69.52" lengthAdjust="spacingAndGlyphs">2.0</text>
<text id="yt3" x="104.6" y="521.6" font-size="52.5" fill="#000" textLength="69.52" lengthAdjust="spacingAndGlyphs" clip-path="url(#c_yt3)">1.5</text>
<text id="yt4" x="104.6" y="660.9" font-size="52.5" fill="#000" textLength="69.52" lengthAdjust="spacingAndGlyphs" clip-path="url(#c_yt4)">1.0</text>
<text id="yt5" x="104.6" y="800.2" font-size="52.5" fill="#000" textLength="69.52" lengthAdjust="spacingAndGlyphs">0.5</text>
<text id="yt6" x="104.6" y="939.5" font-size="52.5" fill="#000" textLength="69.52" lengthAdjust="spacingAndGlyphs">0.0</text>
<text id="yt7" x="87.9" y="1078.8" font-size="52.5" fill="#000" textLength="86.17" lengthAdjust="spacingAndGlyphs">-0.5</text>
<text id="yt8" x="87.9" y="1218.1" font-size="52.5" fill="#000" textLength="86.17" lengthAdjust="spacingAndGlyphs" clip-path="url(#c_yt8)">-1.0</text>
<text id="xt0" x="275.9" y="1334.2" font-size="52.5" fill="#000" textLength="69.52" lengthAdjust="spacingAndGlyphs" clip-path="url(#c_xt0)">1.6</text>
<text id="xt1" x="502.1" y="1334.2" font-size="52.5" fill="#000" textLength="69.52" lengthAdjust="spacingAndGlyphs" clip-path="url(#c_xt1)">1.8</text>
<text id="xt2" x="728.4" y="1334.2" font-size="52.5" fill="#000" textLength="69.52" lengthAdjust="spacingAndGlyphs">2.0</text>
<text id="xt3" x="954.7" y="1334.2" font-size="52.5" fill="#000" textLength="69.52" lengthAdjust="spacingAndGlyphs">2.2</text>
<text id="xt4" x="1180.9" y="1334.2" font-size="52.5" fill="#000" textLength="69.52" lengthAdjust="spacingAndGlyphs">2.4</text>
<text id="xt5" x="1407.2" y="1334.2" font-size="52.5" fill="#000" textLength="69.52" lengthAdjust="spacingAndGlyphs">2.6</text>
<text id="xt6" x="1633.5" y="1334.2" font-size="52.5" fill="#000" textLength="69.52" lengthAdjust="spacingAndGlyphs">2.8</text>
<text id="xt7" x="1859.7" y="1334.2" font-size="52.5" fill="#000" textLength="69.52" lengthAdjust="spacingAndGlyphs">3.0</text>
<text id="xtitle" x="920.0" y="1411.8" font-size="65.1" fill="#000" textLength="317.09" lengthAdjust="spacingAndGlyphs">Potential/ V</text>
<text id="ln0" x="589.7" y="230.1" font-size="74.3" font-weight="bold" fill="#000" clip-path="url(#c_ln0)">1</text>
<text id="ls0" x="623.8" y="197.3" font-size="74.3" font-weight="bold" fill="#000">st</text>
<text id="lc0" x="728.3" y="230.1" font-size="74.3" font-weight="bold" fill="#000" textLength="175.30" lengthAdjust="spacingAndGlyphs">cycle</text>
<text id="ln1" x="569.3" y="337.9" font-size="74.3" font-weight="bold" fill="#f00" textLength="39.30" lengthAdjust="spacingAndGlyphs">2</text>
<text id="ls1" x="607.1" y="304.4" font-size="74.3" font-weight="bold" fill="#f00" textLength="85.20" lengthAdjust="spacingAndGlyphs">nd</text>
<text id="lc1" x="730.8" y="337.9" font-size="74.3" font-weight="bold" fill="#f00" textLength="175.30" lengthAdjust="spacingAndGlyphs">cycle</text>
<text id="ln2" x="584.9" y="441.5" font-size="74.3" font-weight="bold" fill="#00f" textLength="39.30" lengthAdjust="spacingAndGlyphs">3</text>
<text id="ls2" x="622.6" y="408.3" font-size="74.3" font-weight="bold" fill="#00f" textLength="70.90" lengthAdjust="spacingAndGlyphs">rd</text>
<text id="lc2" x="730.7" y="441.1" font-size="74.3" font-weight="bold" fill="#00f" textLength="176.60" lengthAdjust="spacingAndGlyphs">cycle</text>
<text id="ln3" x="581.0" y="542.9" font-size="74.3" font-weight="bold" fill="#f0f">4</text>
<text id="ls3" x="621.2" y="510.1" font-size="74.3" font-weight="bold" fill="#f0f" textLength="67.10" lengthAdjust="spacingAndGlyphs">th</text>
<text id="lc3" x="725.6" y="542.9" font-size="74.3" font-weight="bold" fill="#f0f" textLength="176.20" lengthAdjust="spacingAndGlyphs">cycle</text>
</svg>
</body></html>
